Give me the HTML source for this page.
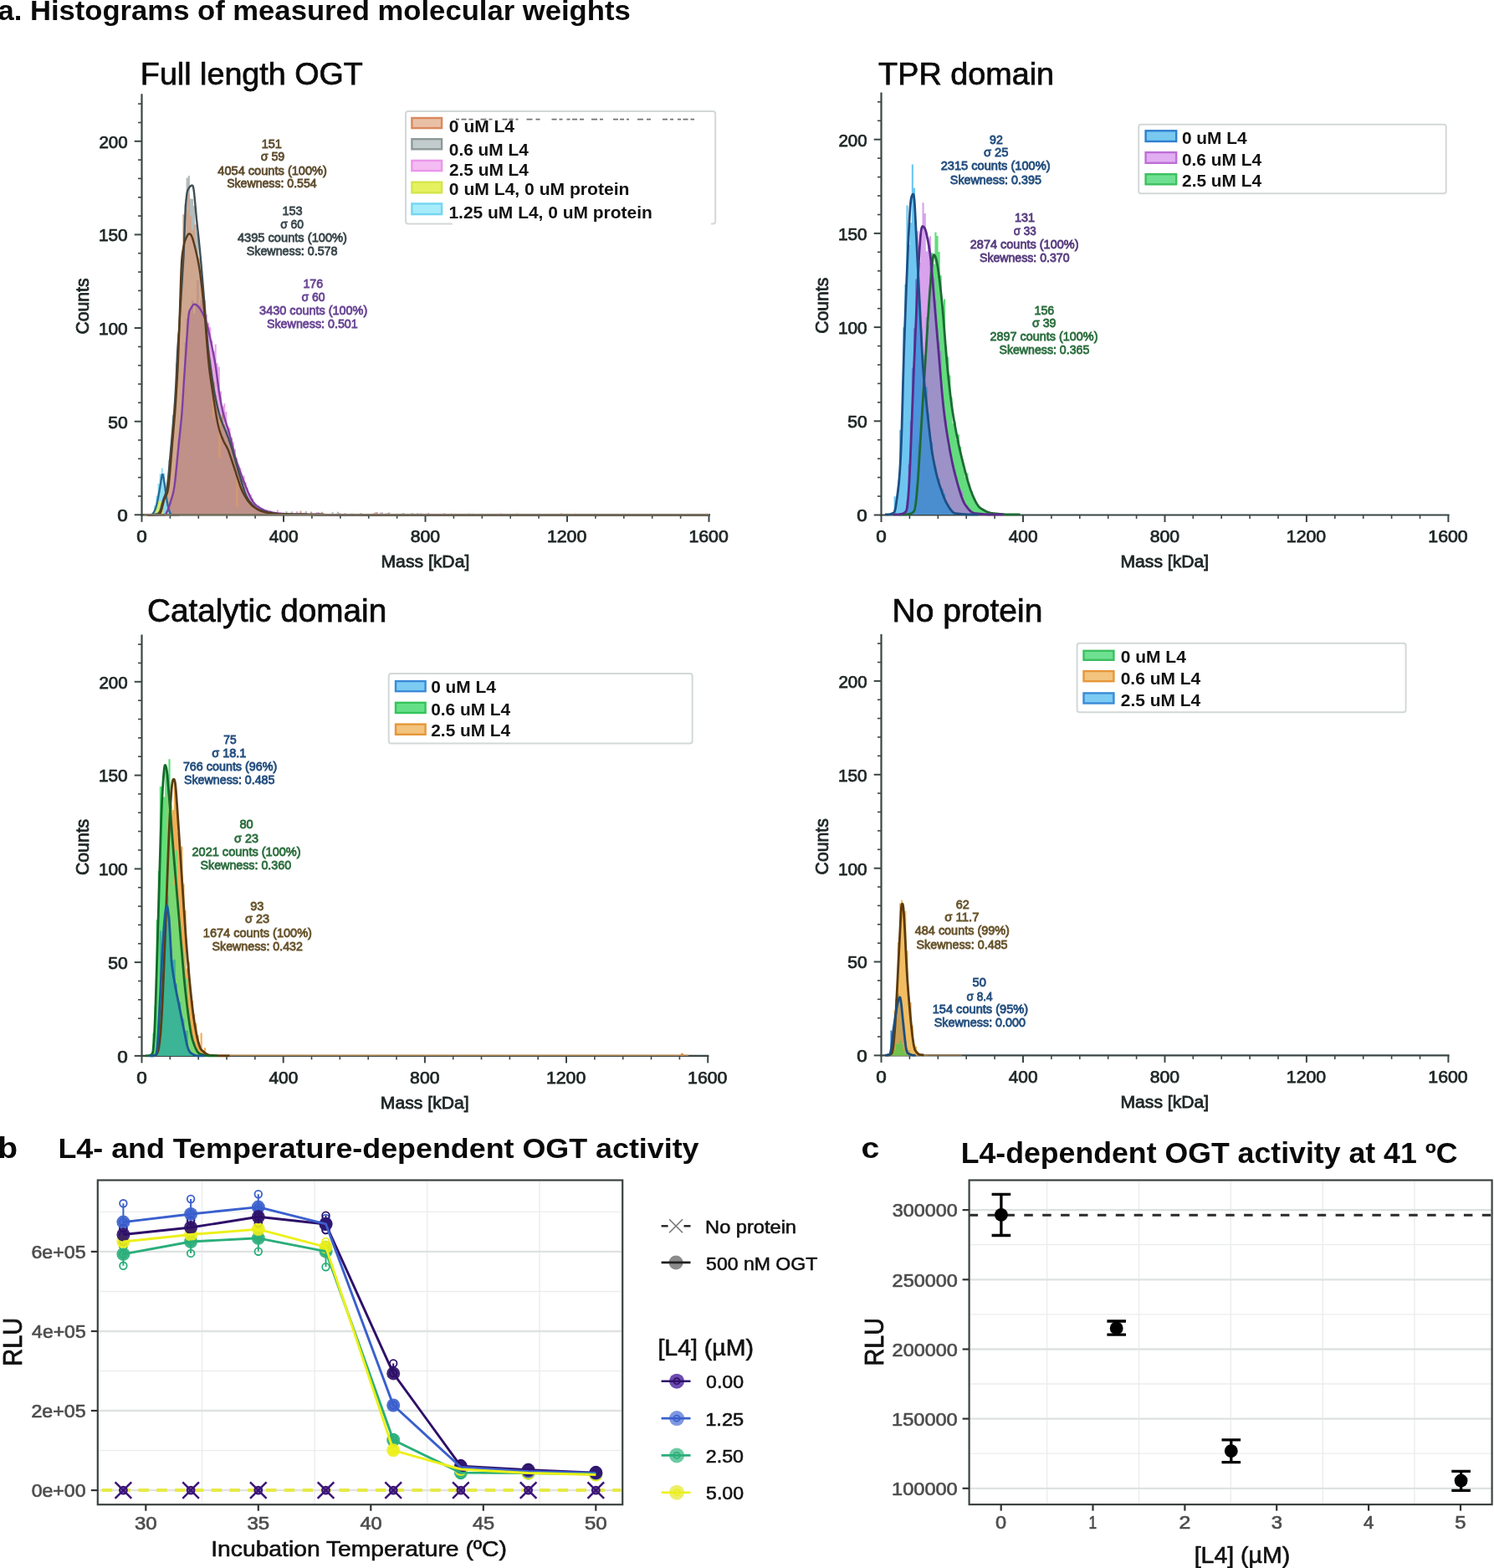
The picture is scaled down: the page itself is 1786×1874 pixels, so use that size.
<!DOCTYPE html>
<html><head><meta charset="utf-8"><title>Figure</title>
<style>html,body{margin:0;padding:0;background:#fff;}svg{display:block;}text{font-family:'Liberation Sans', Arial, Helvetica, sans-serif;}</style></head>
<body><svg width="1786" height="1874" viewBox="0 0 1786 1874">
<rect width="1786" height="1874" fill="#fff"/>
<text x="-2.64" y="23.60" font-size="32.60" font-weight="bold" fill="#0a0a0a" textLength="756.33" lengthAdjust="spacingAndGlyphs" >a. Histograms of measured molecular weights</text>
<text x="167.89" y="101.10" font-size="37.50" font-weight="normal" fill="#0a0a0a" textLength="265.99" lengthAdjust="spacingAndGlyphs" stroke="#0a0a0a" stroke-width="0.75" >Full length OGT</text>
<text x="1050.14" y="101.10" font-size="37.50" font-weight="normal" fill="#0a0a0a" textLength="209.92" lengthAdjust="spacingAndGlyphs" stroke="#0a0a0a" stroke-width="0.75" >TPR domain</text>
<text x="175.96" y="743.40" font-size="38.30" font-weight="normal" fill="#0a0a0a" textLength="286.24" lengthAdjust="spacingAndGlyphs" stroke="#0a0a0a" stroke-width="0.75" >Catalytic domain</text>
<text x="1066.48" y="743.40" font-size="38.30" font-weight="normal" fill="#0a0a0a" textLength="179.91" lengthAdjust="spacingAndGlyphs" stroke="#0a0a0a" stroke-width="0.75" >No protein</text>
<path d="M176.0,615.3 L176.0,615.3 L178.1,615.3 L178.1,615.1 L180.2,615.1 L180.2,615.0 L182.4,615.0 L182.4,614.8 L184.5,614.8 L184.5,615.1 L186.6,615.1 L186.6,615.0 L188.7,615.0 L188.7,615.2 L190.8,615.2 L190.8,615.0 L193.0,615.0 L193.0,615.1 L195.1,615.1 L195.1,615.2 L197.2,615.2 L197.2,614.0 L199.3,614.0 L199.3,609.5 L201.4,609.5 L201.4,603.0 L203.6,603.0 L203.6,597.7 L205.7,597.7 L205.7,587.0 L207.8,587.0 L207.8,576.8 L209.9,576.8 L209.9,555.7 L212.0,555.7 L212.0,525.2 L214.2,525.2 L214.2,507.5 L216.3,507.5 L216.3,494.0 L218.4,494.0 L218.4,464.3 L220.5,464.3 L220.5,409.4 L222.6,409.4 L222.6,380.5 L224.8,380.5 L224.8,379.4 L226.9,379.4 L226.9,371.8 L229.0,371.8 L229.0,359.0 L231.1,359.0 L231.1,374.8 L233.2,374.8 L233.2,361.6 L235.4,361.6 L235.4,335.1 L237.5,335.1 L237.5,364.4 L239.6,364.4 L239.6,358.4 L241.7,358.4 L241.7,342.2 L243.8,342.2 L243.8,375.2 L246.0,375.2 L246.0,375.7 L248.1,375.7 L248.1,385.5 L250.2,385.5 L250.2,391.0 L252.3,391.0 L252.3,406.9 L254.4,406.9 L254.4,419.9 L256.6,419.9 L256.6,411.6 L258.7,411.6 L258.7,434.2 L260.8,434.2 L260.8,438.4 L262.9,438.4 L262.9,467.6 L265.0,467.6 L265.0,485.3 L267.2,485.3 L267.2,482.2 L269.3,482.2 L269.3,492.0 L271.4,492.0 L271.4,509.2 L273.5,509.2 L273.5,511.6 L275.6,511.6 L275.6,523.5 L277.8,523.5 L277.8,527.9 L279.9,527.9 L279.9,536.5 L282.0,536.5 L282.0,547.4 L284.1,547.4 L284.1,555.4 L286.2,555.4 L286.2,559.2 L288.4,559.2 L288.4,569.1 L290.5,569.1 L290.5,568.4 L292.6,568.4 L292.6,576.3 L294.7,576.3 L294.7,582.2 L296.8,582.2 L296.8,589.1 L299.0,589.1 L299.0,591.1 L301.1,591.1 L301.1,595.7 L303.2,595.7 L303.2,601.6 L305.3,601.6 L305.3,603.4 L307.4,603.4 L307.4,604.1 L309.6,604.1 L309.6,605.8 L311.7,605.8 L311.7,607.5 L313.8,607.5 L313.8,608.3 L315.9,608.3 L315.9,609.1 L318.0,609.1 L318.0,609.2 L320.2,609.2 L320.2,610.9 L322.3,610.9 L322.3,609.9 L324.4,609.9 L324.4,612.4 L326.5,612.4 L326.5,612.6 L328.6,612.6 L328.6,612.6 L330.8,612.6 L330.8,609.6 L332.9,609.6 L332.9,613.1 L335.0,613.1 L335.0,613.8 L337.1,613.8 L337.1,613.9 L339.2,613.9 L339.2,613.4 L341.4,613.4 L341.4,614.0 L343.5,614.0 L343.5,614.3 L345.6,614.3 L345.6,613.8 L347.7,613.8 L347.7,613.2 L349.8,613.2 L349.8,614.2 L352.0,614.2 L352.0,614.5 L354.1,614.5 L354.1,611.0 L356.2,611.0 L356.2,614.3 L358.3,614.3 L358.3,614.6 L360.4,614.6 L360.4,614.6 L362.6,614.6 L362.6,614.5 L364.7,614.5 L364.7,614.1 L366.8,614.1 L366.8,614.4 L368.9,614.4 L368.9,614.6 L371.0,614.6 L371.0,614.4 L373.2,614.4 L373.2,614.8 L375.3,614.8 L375.3,614.4 L377.4,614.4 L377.4,614.7 L379.5,614.7 L379.5,612.0 L381.6,612.0 L381.6,613.1 L383.8,613.1 L383.8,614.7 L385.9,614.7 L385.9,614.4 L388.0,614.4 L388.0,614.4 L390.1,614.4 L390.1,614.8 L392.2,614.8 L392.2,614.9 L394.4,614.9 L394.4,614.7 L396.5,614.7 L396.5,615.0 L398.6,615.0 L398.6,615.0 L400.7,615.0 L400.7,615.1 L402.8,615.1 L402.8,614.8 L405.0,614.8 L405.0,612.9 L407.1,612.9 L407.1,615.2 L409.2,615.2 L409.2,615.0 L411.3,615.0 L411.3,612.9 L413.4,612.9 L413.4,615.2 L415.6,615.2 L415.6,615.2 L417.7,615.2 L417.7,614.7 L419.8,614.7 L419.8,613.6 L421.9,613.6 L421.9,615.3 L424.0,615.3 L424.0,615.1 L426.2,615.1 L426.2,615.2 L428.3,615.2 L428.3,614.9 L430.4,614.9 L430.4,615.1 L432.5,615.1 L432.5,614.4 L434.6,614.4 L434.6,615.3 L436.8,615.3 L436.8,615.0 L438.9,615.0 L438.9,615.1 L441.0,615.1 L441.0,615.2 L443.1,615.2 L443.1,615.0 L445.2,615.0 L445.2,613.5 L447.4,613.5 L447.4,615.2 L449.5,615.2 L449.5,615.2 L451.6,615.2 L451.6,615.1 L453.7,615.1 L453.7,612.6 L455.8,612.6 L455.8,614.2 L458.0,614.2 L458.0,615.2 L460.1,615.2 L460.1,613.4 L462.2,613.4 L462.2,614.7 L464.3,614.7 L464.3,614.8 L466.4,614.8 L466.4,615.2 L468.6,615.2 L468.6,615.3 L470.7,615.3 L470.7,615.2 L472.8,615.2 L472.8,615.3 L474.9,615.3 L474.9,614.2 L477.0,614.2 L477.0,615.1 L479.2,615.1 L479.2,615.1 L481.3,615.1 L481.3,615.1 L483.4,615.1 L483.4,614.9 L485.5,614.9 L485.5,615.1 L487.6,615.1 L487.6,614.9 L489.8,614.9 L489.8,614.9 L491.9,614.9 L491.9,615.1 L494.0,615.1 L494.0,615.2 L496.1,615.2 L496.1,614.9 L498.2,614.9 L498.2,615.1 L500.4,615.1 L500.4,615.1 L502.5,615.1 L502.5,613.3 L504.6,613.3 L504.6,614.4 L506.7,614.4 L506.7,615.0 L508.8,615.0 L508.8,615.1 L511.0,615.1 L511.0,612.9 L513.1,612.9 L513.1,615.3 L515.2,615.3 L515.2,615.3 L517.3,615.3 L517.3,615.1 L519.4,615.1 L519.4,614.7 L521.6,614.7 L521.6,615.1 L523.7,615.1 L523.7,614.9 L525.8,614.9 L525.8,615.0 L527.9,615.0 L527.9,615.0 L530.0,615.0 L530.0,613.3 L532.2,613.3 L532.2,615.1 L534.3,615.1 L534.3,615.2 L536.4,615.2 L536.4,615.1 L538.5,615.1 L538.5,615.2 L540.6,615.2 L540.6,615.2 L542.8,615.2 L542.8,615.3 L544.9,615.3 L544.9,615.2 L547.0,615.2 L547.0,614.9 L549.1,614.9 L549.1,614.0 L551.2,614.0 L551.2,615.0 L553.4,615.0 L553.4,615.3 L555.5,615.3 L555.5,615.0 L557.6,615.0 L557.6,615.0 L559.7,615.0 L559.7,615.0 L561.8,615.0 L561.8,615.1 L564.0,615.1 L564.0,615.2 L566.1,615.2 L566.1,615.2 L568.2,615.2 L568.2,615.2 L570.3,615.2 L570.3,615.0 L572.4,615.0 L572.4,614.9 L574.6,614.9 L574.6,615.1 L576.7,615.1 L576.7,615.0 L578.8,615.0 L578.8,615.3 L580.9,615.3 L580.9,615.1 L583.0,615.1 L583.0,615.1 L585.2,615.1 L585.2,615.3 L587.3,615.3 L587.3,614.9 L589.4,614.9 L589.4,615.1 L591.5,615.1 L591.5,614.8 L593.6,614.8 L593.6,615.0 L595.8,615.0 L595.8,614.8 L597.9,614.8 L597.9,613.4 L600.0,613.4 L600.0,615.3 L602.1,615.3 L602.1,614.8 L604.2,614.8 L604.2,615.0 L606.4,615.0 L606.4,615.1 L608.5,615.1 L608.5,614.7 L610.6,614.7 L610.6,615.1 L612.7,615.1 L612.7,615.2 L614.8,615.2 L614.8,615.1 L617.0,615.1 L617.0,614.4 L619.1,614.4 L619.1,615.0 L621.2,615.0 L621.2,615.0 L623.3,615.0 L623.3,615.3 L625.4,615.3 L625.4,615.1 L627.6,615.1 L627.6,614.6 L629.7,614.6 L629.7,615.1 L631.8,615.1 L631.8,615.1 L633.9,615.1 L633.9,614.9 L636.0,614.9 L636.0,615.1 L638.2,615.1 L638.2,615.1 L640.3,615.1 L640.3,615.1 L642.4,615.1 L642.4,615.1 L644.5,615.1 L644.5,615.3 L646.6,615.3 L646.6,615.3 L648.8,615.3 L648.8,615.1 L650.9,615.1 L650.9,615.3 L653.0,615.3 L653.0,614.6 L655.1,614.6 L655.1,615.0 L657.2,615.0 L657.2,615.1 L659.4,615.1 L659.4,615.0 L661.5,615.0 L661.5,614.4 L663.6,614.4 L663.6,615.2 L665.7,615.2 L665.7,614.9 L667.8,614.9 L667.8,615.0 L670.0,615.0 L670.0,614.8 L672.1,614.8 L672.1,615.3 L674.2,615.3 L674.2,614.9 L676.3,614.9 L676.3,614.8 L678.4,614.8 L678.4,615.3 L680.6,615.3 L680.6,615.2 L682.7,615.2 L682.7,615.2 L684.8,615.2 L684.8,615.0 L686.9,615.0 L686.9,614.4 L689.0,614.4 L689.0,615.2 L691.2,615.2 L691.2,615.1 L693.3,615.1 L693.3,614.8 L695.4,614.8 L695.4,615.3 L697.5,615.3 L697.5,614.8 L699.6,614.8 L699.6,615.0 L701.8,615.0 L701.8,615.1 L703.9,615.1 L703.9,614.9 L706.0,614.9 L706.0,615.3 L708.1,615.3 L708.1,615.3 L710.2,615.3 L710.2,615.2 L712.4,615.2 L712.4,615.2 L714.5,615.2 L714.5,614.5 L716.6,614.5 L716.6,614.8 L718.7,614.8 L718.7,615.1 L720.8,615.1 L720.8,615.2 L723.0,615.2 L723.0,614.1 L725.1,614.1 L725.1,615.1 L727.2,615.1 L727.2,614.5 L729.3,614.5 L729.3,615.0 L731.4,615.0 L731.4,615.1 L733.6,615.1 L733.6,614.9 L735.7,614.9 L735.7,614.7 L737.8,614.7 L737.8,615.1 L739.9,615.1 L739.9,615.2 L742.0,615.2 L742.0,615.1 L744.2,615.1 L744.2,614.7 L746.3,614.7 L746.3,614.8 L748.4,614.8 L748.4,615.2 L750.5,615.2 L750.5,615.0 L752.6,615.0 L752.6,614.0 L754.8,614.0 L754.8,615.0 L756.9,615.0 L756.9,615.2 L759.0,615.2 L759.0,615.1 L761.1,615.1 L761.1,614.7 L763.2,614.7 L763.2,614.9 L765.4,614.9 L765.4,615.2 L767.5,615.2 L767.5,615.2 L769.6,615.2 L769.6,615.0 L771.7,615.0 L771.7,615.3 L773.8,615.3 L773.8,615.1 L776.0,615.1 L776.0,614.9 L778.1,614.9 L778.1,615.1 L780.2,615.1 L780.2,614.7 L782.3,614.7 L782.3,614.6 L784.4,614.6 L784.4,615.0 L786.6,615.0 L786.6,615.2 L788.7,615.2 L788.7,614.7 L790.8,614.7 L790.8,615.2 L792.9,615.2 L792.9,615.0 L795.0,615.0 L795.0,614.9 L797.2,614.9 L797.2,615.3 L799.3,615.3 L799.3,615.2 L801.4,615.2 L801.4,615.1 L803.5,615.1 L803.5,615.3 L805.6,615.3 L805.6,615.2 L807.8,615.2 L807.8,615.2 L809.9,615.2 L809.9,614.8 L812.0,614.8 L812.0,615.2 L814.1,615.2 L814.1,615.3 L816.2,615.3 L816.2,615.2 L818.4,615.2 L818.4,614.5 L820.5,614.5 L820.5,615.0 L822.6,615.0 L822.6,614.9 L824.7,614.9 L824.7,615.2 L826.8,615.2 L826.8,615.0 L829.0,615.0 L829.0,614.7 L831.1,614.7 L831.1,614.7 L833.2,614.7 L833.2,615.1 L835.3,615.1 L835.3,614.9 L837.4,614.9 L837.4,614.9 L839.6,614.9 L839.6,614.8 L841.7,614.8 L841.7,614.9 L843.8,614.9 L843.8,615.3 L845.9,615.3 L845.9,615.1 L848.0,615.1 L848.0,615.3 Z" fill="#eaa6e6"/>
<path d="M176.0,615.3 L176.0,615.2 L178.1,615.2 L178.1,615.1 L180.2,615.1 L180.2,614.9 L182.4,614.9 L182.4,615.0 L184.5,615.0 L184.5,614.6 L186.6,614.6 L186.6,614.4 L188.7,614.4 L188.7,612.3 L190.8,612.3 L190.8,606.9 L193.0,606.9 L193.0,601.9 L195.1,601.9 L195.1,591.7 L197.2,591.7 L197.2,589.7 L199.3,589.7 L199.3,575.2 L201.4,575.2 L201.4,549.8 L203.6,549.8 L203.6,535.3 L205.7,535.3 L205.7,496.0 L207.8,496.0 L207.8,482.7 L209.9,482.7 L209.9,434.6 L212.0,434.6 L212.0,414.7 L214.2,414.7 L214.2,384.1 L216.3,384.1 L216.3,311.9 L218.4,311.9 L218.4,292.5 L220.5,292.5 L220.5,243.9 L222.6,243.9 L222.6,212.5 L224.8,212.5 L224.8,209.9 L226.9,209.9 L226.9,237.5 L229.0,237.5 L229.0,237.7 L231.1,237.7 L231.1,245.9 L233.2,245.9 L233.2,268.5 L235.4,268.5 L235.4,278.2 L237.5,278.2 L237.5,308.8 L239.6,308.8 L239.6,326.2 L241.7,326.2 L241.7,343.1 L243.8,343.1 L243.8,358.9 L246.0,358.9 L246.0,398.3 L248.1,398.3 L248.1,417.3 L250.2,417.3 L250.2,429.6 L252.3,429.6 L252.3,454.5 L254.4,454.5 L254.4,470.0 L256.6,470.0 L256.6,472.6 L258.7,472.6 L258.7,486.7 L260.8,486.7 L260.8,497.2 L262.9,497.2 L262.9,500.0 L265.0,500.0 L265.0,495.0 L267.2,495.0 L267.2,507.4 L269.3,507.4 L269.3,514.7 L271.4,514.7 L271.4,525.5 L273.5,525.5 L273.5,525.9 L275.6,525.9 L275.6,523.1 L277.8,523.1 L277.8,541.9 L279.9,541.9 L279.9,545.0 L282.0,545.0 L282.0,553.9 L284.1,553.9 L284.1,558.1 L286.2,558.1 L286.2,571.8 L288.4,571.8 L288.4,573.0 L290.5,573.0 L290.5,582.0 L292.6,582.0 L292.6,589.9 L294.7,589.9 L294.7,594.8 L296.8,594.8 L296.8,598.5 L299.0,598.5 L299.0,599.9 L301.1,599.9 L301.1,602.3 L303.2,602.3 L303.2,604.4 L305.3,604.4 L305.3,606.8 L307.4,606.8 L307.4,608.8 L309.6,608.8 L309.6,609.3 L311.7,609.3 L311.7,609.4 L313.8,609.4 L313.8,610.0 L315.9,610.0 L315.9,610.8 L318.0,610.8 L318.0,611.2 L320.2,611.2 L320.2,612.0 L322.3,612.0 L322.3,612.9 L324.4,612.9 L324.4,613.0 L326.5,613.0 L326.5,613.3 L328.6,613.3 L328.6,613.5 L330.8,613.5 L330.8,614.3 L332.9,614.3 L332.9,613.8 L335.0,613.8 L335.0,614.2 L337.1,614.2 L337.1,614.3 L339.2,614.3 L339.2,614.3 L341.4,614.3 L341.4,611.1 L343.5,611.1 L343.5,614.4 L345.6,614.4 L345.6,614.3 L347.7,614.3 L347.7,611.2 L349.8,611.2 L349.8,614.6 L352.0,614.6 L352.0,614.5 L354.1,614.5 L354.1,614.3 L356.2,614.3 L356.2,614.5 L358.3,614.5 L358.3,614.6 L360.4,614.6 L360.4,614.5 L362.6,614.5 L362.6,614.4 L364.7,614.4 L364.7,610.7 L366.8,610.7 L366.8,614.5 L368.9,614.5 L368.9,614.1 L371.0,614.1 L371.0,614.9 L373.2,614.9 L373.2,614.2 L375.3,614.2 L375.3,614.8 L377.4,614.8 L377.4,612.6 L379.5,612.6 L379.5,614.8 L381.6,614.8 L381.6,614.5 L383.8,614.5 L383.8,614.8 L385.9,614.8 L385.9,615.0 L388.0,615.0 L388.0,615.1 L390.1,615.1 L390.1,614.6 L392.2,614.6 L392.2,614.4 L394.4,614.4 L394.4,614.7 L396.5,614.7 L396.5,612.1 L398.6,612.1 L398.6,614.5 L400.7,614.5 L400.7,614.9 L402.8,614.9 L402.8,611.7 L405.0,611.7 L405.0,614.6 L407.1,614.6 L407.1,614.8 L409.2,614.8 L409.2,615.0 L411.3,615.0 L411.3,614.9 L413.4,614.9 L413.4,615.1 L415.6,615.1 L415.6,614.7 L417.7,614.7 L417.7,615.1 L419.8,615.1 L419.8,614.8 L421.9,614.8 L421.9,614.6 L424.0,614.6 L424.0,614.9 L426.2,614.9 L426.2,615.1 L428.3,615.1 L428.3,615.0 L430.4,615.0 L430.4,613.0 L432.5,613.0 L432.5,614.9 L434.6,614.9 L434.6,614.7 L436.8,614.7 L436.8,615.1 L438.9,615.1 L438.9,614.8 L441.0,614.8 L441.0,615.1 L443.1,615.1 L443.1,615.0 L445.2,615.0 L445.2,615.1 L447.4,615.1 L447.4,613.3 L449.5,613.3 L449.5,613.0 L451.6,613.0 L451.6,615.0 L453.7,615.0 L453.7,615.1 L455.8,615.1 L455.8,612.3 L458.0,612.3 L458.0,615.1 L460.1,615.1 L460.1,615.0 L462.2,615.0 L462.2,613.3 L464.3,613.3 L464.3,612.2 L466.4,612.2 L466.4,614.7 L468.6,614.7 L468.6,615.0 L470.7,615.0 L470.7,615.0 L472.8,615.0 L472.8,615.2 L474.9,615.2 L474.9,614.3 L477.0,614.3 L477.0,614.8 L479.2,614.8 L479.2,613.8 L481.3,613.8 L481.3,613.1 L483.4,613.1 L483.4,615.1 L485.5,615.1 L485.5,615.0 L487.6,615.0 L487.6,614.8 L489.8,614.8 L489.8,615.1 L491.9,615.1 L491.9,613.1 L494.0,613.1 L494.0,615.0 L496.1,615.0 L496.1,614.5 L498.2,614.5 L498.2,613.2 L500.4,613.2 L500.4,615.2 L502.5,615.2 L502.5,615.2 L504.6,615.2 L504.6,615.0 L506.7,615.0 L506.7,615.0 L508.8,615.0 L508.8,615.1 L511.0,615.1 L511.0,615.2 L513.1,615.2 L513.1,615.0 L515.2,615.0 L515.2,615.2 L517.3,615.2 L517.3,614.2 L519.4,614.2 L519.4,615.1 L521.6,615.1 L521.6,615.1 L523.7,615.1 L523.7,615.2 L525.8,615.2 L525.8,614.7 L527.9,614.7 L527.9,615.1 L530.0,615.1 L530.0,615.3 L532.2,615.3 L532.2,614.7 L534.3,614.7 L534.3,615.1 L536.4,615.1 L536.4,614.9 L538.5,614.9 L538.5,615.0 L540.6,615.0 L540.6,615.3 L542.8,615.3 L542.8,615.3 L544.9,615.3 L544.9,615.1 L547.0,615.1 L547.0,614.8 L549.1,614.8 L549.1,615.1 L551.2,615.1 L551.2,614.9 L553.4,614.9 L553.4,614.8 L555.5,614.8 L555.5,614.4 L557.6,614.4 L557.6,614.9 L559.7,614.9 L559.7,613.6 L561.8,613.6 L561.8,614.1 L564.0,614.1 L564.0,613.8 L566.1,613.8 L566.1,614.9 L568.2,614.9 L568.2,614.9 L570.3,614.9 L570.3,615.2 L572.4,615.2 L572.4,615.0 L574.6,615.0 L574.6,615.1 L576.7,615.1 L576.7,615.3 L578.8,615.3 L578.8,614.7 L580.9,614.7 L580.9,614.7 L583.0,614.7 L583.0,615.0 L585.2,615.0 L585.2,615.2 L587.3,615.2 L587.3,615.0 L589.4,615.0 L589.4,615.2 L591.5,615.2 L591.5,615.3 L593.6,615.3 L593.6,614.0 L595.8,614.0 L595.8,615.1 L597.9,615.1 L597.9,615.3 L600.0,615.3 L600.0,615.0 L602.1,615.0 L602.1,614.1 L604.2,614.1 L604.2,615.2 L606.4,615.2 L606.4,614.2 L608.5,614.2 L608.5,615.0 L610.6,615.0 L610.6,615.2 L612.7,615.2 L612.7,615.0 L614.8,615.0 L614.8,615.3 L617.0,615.3 L617.0,613.5 L619.1,613.5 L619.1,615.0 L621.2,615.0 L621.2,615.2 L623.3,615.2 L623.3,614.9 L625.4,614.9 L625.4,614.5 L627.6,614.5 L627.6,615.1 L629.7,615.1 L629.7,615.0 L631.8,615.0 L631.8,614.7 L633.9,614.7 L633.9,615.1 L636.0,615.1 L636.0,614.9 L638.2,614.9 L638.2,615.0 L640.3,615.0 L640.3,615.2 L642.4,615.2 L642.4,615.2 L644.5,615.2 L644.5,614.1 L646.6,614.1 L646.6,615.3 L648.8,615.3 L648.8,614.8 L650.9,614.8 L650.9,614.5 L653.0,614.5 L653.0,615.0 L655.1,615.0 L655.1,614.1 L657.2,614.1 L657.2,614.6 L659.4,614.6 L659.4,615.0 L661.5,615.0 L661.5,614.7 L663.6,614.7 L663.6,615.2 L665.7,615.2 L665.7,614.8 L667.8,614.8 L667.8,615.0 L670.0,615.0 L670.0,615.0 L672.1,615.0 L672.1,614.2 L674.2,614.2 L674.2,615.3 L676.3,615.3 L676.3,614.9 L678.4,614.9 L678.4,614.1 L680.6,614.1 L680.6,615.1 L682.7,615.1 L682.7,615.1 L684.8,615.1 L684.8,615.2 L686.9,615.2 L686.9,614.8 L689.0,614.8 L689.0,614.8 L691.2,614.8 L691.2,615.3 L693.3,615.3 L693.3,615.3 L695.4,615.3 L695.4,614.8 L697.5,614.8 L697.5,615.1 L699.6,615.1 L699.6,615.3 L701.8,615.3 L701.8,614.6 L703.9,614.6 L703.9,615.0 L706.0,615.0 L706.0,614.7 L708.1,614.7 L708.1,614.8 L710.2,614.8 L710.2,615.2 L712.4,615.2 L712.4,615.2 L714.5,615.2 L714.5,615.0 L716.6,615.0 L716.6,614.9 L718.7,614.9 L718.7,614.8 L720.8,614.8 L720.8,615.2 L723.0,615.2 L723.0,614.9 L725.1,614.9 L725.1,615.0 L727.2,615.0 L727.2,615.0 L729.3,615.0 L729.3,614.7 L731.4,614.7 L731.4,615.2 L733.6,615.2 L733.6,615.3 L735.7,615.3 L735.7,614.9 L737.8,614.9 L737.8,615.2 L739.9,615.2 L739.9,614.5 L742.0,614.5 L742.0,615.2 L744.2,615.2 L744.2,614.9 L746.3,614.9 L746.3,615.0 L748.4,615.0 L748.4,615.0 L750.5,615.0 L750.5,615.2 L752.6,615.2 L752.6,615.2 L754.8,615.2 L754.8,615.1 L756.9,615.1 L756.9,615.1 L759.0,615.1 L759.0,614.8 L761.1,614.8 L761.1,615.0 L763.2,615.0 L763.2,615.3 L765.4,615.3 L765.4,615.2 L767.5,615.2 L767.5,614.9 L769.6,614.9 L769.6,615.0 L771.7,615.0 L771.7,615.1 L773.8,615.1 L773.8,614.4 L776.0,614.4 L776.0,615.2 L778.1,615.2 L778.1,615.2 L780.2,615.2 L780.2,614.9 L782.3,614.9 L782.3,615.3 L784.4,615.3 L784.4,614.7 L786.6,614.7 L786.6,615.1 L788.7,615.1 L788.7,614.9 L790.8,614.9 L790.8,615.0 L792.9,615.0 L792.9,614.7 L795.0,614.7 L795.0,614.6 L797.2,614.6 L797.2,615.1 L799.3,615.1 L799.3,614.7 L801.4,614.7 L801.4,615.3 L803.5,615.3 L803.5,614.9 L805.6,614.9 L805.6,615.0 L807.8,615.0 L807.8,615.1 L809.9,615.1 L809.9,615.3 L812.0,615.3 L812.0,615.2 L814.1,615.2 L814.1,615.2 L816.2,615.2 L816.2,614.6 L818.4,614.6 L818.4,614.8 L820.5,614.8 L820.5,615.1 L822.6,615.1 L822.6,614.7 L824.7,614.7 L824.7,615.2 L826.8,615.2 L826.8,614.7 L829.0,614.7 L829.0,614.9 L831.1,614.9 L831.1,614.6 L833.2,614.6 L833.2,614.9 L835.3,614.9 L835.3,615.2 L837.4,615.2 L837.4,615.0 L839.6,615.0 L839.6,615.1 L841.7,615.1 L841.7,614.9 L843.8,614.9 L843.8,615.1 L845.9,615.1 L845.9,615.2 L848.0,615.2 L848.0,615.3 Z" fill="#b4bcbc"/>
<path d="M176.0,615.3 L176.0,615.2 L178.1,615.2 L178.1,615.2 L180.2,615.2 L180.2,614.8 L182.4,614.8 L182.4,614.8 L184.5,614.8 L184.5,614.4 L186.6,614.4 L186.6,615.0 L188.7,615.0 L188.7,614.5 L190.8,614.5 L190.8,612.3 L193.0,612.3 L193.0,605.4 L195.1,605.4 L195.1,597.1 L197.2,597.1 L197.2,593.5 L199.3,593.5 L199.3,587.4 L201.4,587.4 L201.4,568.7 L203.6,568.7 L203.6,537.3 L205.7,537.3 L205.7,522.5 L207.8,522.5 L207.8,499.2 L209.9,499.2 L209.9,453.9 L212.0,453.9 L212.0,398.7 L214.2,398.7 L214.2,356.6 L216.3,356.6 L216.3,322.4 L218.4,322.4 L218.4,256.3 L220.5,256.3 L220.5,294.1 L222.6,294.1 L222.6,251.2 L224.8,251.2 L224.8,232.5 L226.9,232.5 L226.9,258.0 L229.0,258.0 L229.0,275.1 L231.1,275.1 L231.1,268.2 L233.2,268.2 L233.2,306.3 L235.4,306.3 L235.4,306.6 L237.5,306.6 L237.5,330.8 L239.6,330.8 L239.6,342.0 L241.7,342.0 L241.7,367.5 L243.8,367.5 L243.8,376.5 L246.0,376.5 L246.0,408.2 L248.1,408.2 L248.1,428.9 L250.2,428.9 L250.2,442.9 L252.3,442.9 L252.3,458.1 L254.4,458.1 L254.4,456.6 L256.6,456.6 L256.6,495.0 L258.7,495.0 L258.7,485.8 L260.8,485.8 L260.8,510.4 L262.9,510.4 L262.9,522.1 L265.0,522.1 L265.0,524.1 L267.2,524.1 L267.2,525.6 L269.3,525.6 L269.3,522.8 L271.4,522.8 L271.4,536.7 L273.5,536.7 L273.5,536.1 L275.6,536.1 L275.6,548.0 L277.8,548.0 L277.8,558.1 L279.9,558.1 L279.9,564.3 L282.0,564.3 L282.0,565.4 L284.1,565.4 L284.1,570.6 L286.2,570.6 L286.2,577.4 L288.4,577.4 L288.4,583.0 L290.5,583.0 L290.5,587.9 L292.6,587.9 L292.6,590.8 L294.7,590.8 L294.7,595.1 L296.8,595.1 L296.8,600.8 L299.0,600.8 L299.0,602.3 L301.1,602.3 L301.1,602.8 L303.2,602.8 L303.2,606.1 L305.3,606.1 L305.3,606.7 L307.4,606.7 L307.4,608.9 L309.6,608.9 L309.6,609.3 L311.7,609.3 L311.7,609.9 L313.8,609.9 L313.8,611.4 L315.9,611.4 L315.9,611.5 L318.0,611.5 L318.0,612.1 L320.2,612.1 L320.2,612.1 L322.3,612.1 L322.3,612.8 L324.4,612.8 L324.4,613.3 L326.5,613.3 L326.5,613.6 L328.6,613.6 L328.6,613.6 L330.8,613.6 L330.8,613.1 L332.9,613.1 L332.9,614.1 L335.0,614.1 L335.0,614.2 L337.1,614.2 L337.1,614.1 L339.2,614.1 L339.2,614.5 L341.4,614.5 L341.4,614.3 L343.5,614.3 L343.5,614.0 L345.6,614.0 L345.6,614.1 L347.7,614.1 L347.7,614.4 L349.8,614.4 L349.8,614.4 L352.0,614.4 L352.0,614.1 L354.1,614.1 L354.1,614.5 L356.2,614.5 L356.2,614.7 L358.3,614.7 L358.3,610.6 L360.4,610.6 L360.4,614.6 L362.6,614.6 L362.6,614.4 L364.7,614.4 L364.7,614.6 L366.8,614.6 L366.8,614.9 L368.9,614.9 L368.9,614.7 L371.0,614.7 L371.0,611.6 L373.2,611.6 L373.2,614.7 L375.3,614.7 L375.3,614.6 L377.4,614.6 L377.4,614.6 L379.5,614.6 L379.5,614.9 L381.6,614.9 L381.6,614.9 L383.8,614.9 L383.8,611.8 L385.9,611.8 L385.9,615.0 L388.0,615.0 L388.0,613.9 L390.1,613.9 L390.1,614.6 L392.2,614.6 L392.2,615.0 L394.4,615.0 L394.4,615.1 L396.5,615.1 L396.5,614.6 L398.6,614.6 L398.6,614.7 L400.7,614.7 L400.7,614.9 L402.8,614.9 L402.8,615.0 L405.0,615.0 L405.0,614.9 L407.1,614.9 L407.1,614.7 L409.2,614.7 L409.2,614.9 L411.3,614.9 L411.3,614.5 L413.4,614.5 L413.4,614.8 L415.6,614.8 L415.6,614.7 L417.7,614.7 L417.7,614.8 L419.8,614.8 L419.8,614.4 L421.9,614.4 L421.9,614.5 L424.0,614.5 L424.0,614.9 L426.2,614.9 L426.2,614.9 L428.3,614.9 L428.3,615.0 L430.4,615.0 L430.4,615.0 L432.5,615.0 L432.5,614.7 L434.6,614.7 L434.6,614.6 L436.8,614.6 L436.8,614.7 L438.9,614.7 L438.9,615.1 L441.0,615.1 L441.0,615.1 L443.1,615.1 L443.1,614.9 L445.2,614.9 L445.2,614.9 L447.4,614.9 L447.4,612.4 L449.5,612.4 L449.5,611.9 L451.6,611.9 L451.6,615.1 L453.7,615.1 L453.7,615.2 L455.8,615.2 L455.8,615.1 L458.0,615.1 L458.0,615.2 L460.1,615.2 L460.1,614.9 L462.2,614.9 L462.2,613.5 L464.3,613.5 L464.3,615.1 L466.4,615.1 L466.4,614.5 L468.6,614.5 L468.6,615.0 L470.7,615.0 L470.7,614.7 L472.8,614.7 L472.8,615.2 L474.9,615.2 L474.9,614.9 L477.0,614.9 L477.0,614.7 L479.2,614.7 L479.2,615.1 L481.3,615.1 L481.3,614.5 L483.4,614.5 L483.4,615.2 L485.5,615.2 L485.5,615.1 L487.6,615.1 L487.6,614.8 L489.8,614.8 L489.8,615.0 L491.9,615.0 L491.9,614.5 L494.0,614.5 L494.0,614.5 L496.1,614.5 L496.1,615.3 L498.2,615.3 L498.2,615.2 L500.4,615.2 L500.4,614.7 L502.5,614.7 L502.5,615.2 L504.6,615.2 L504.6,615.2 L506.7,615.2 L506.7,614.9 L508.8,614.9 L508.8,615.1 L511.0,615.1 L511.0,614.8 L513.1,614.8 L513.1,615.2 L515.2,615.2 L515.2,615.2 L517.3,615.2 L517.3,614.9 L519.4,614.9 L519.4,615.3 L521.6,615.3 L521.6,615.3 L523.7,615.3 L523.7,615.1 L525.8,615.1 L525.8,615.0 L527.9,615.0 L527.9,615.1 L530.0,615.1 L530.0,615.2 L532.2,615.2 L532.2,615.0 L534.3,615.0 L534.3,615.2 L536.4,615.2 L536.4,615.0 L538.5,615.0 L538.5,613.8 L540.6,613.8 L540.6,615.2 L542.8,615.2 L542.8,614.9 L544.9,614.9 L544.9,615.2 L547.0,615.2 L547.0,614.9 L549.1,614.9 L549.1,615.2 L551.2,615.2 L551.2,615.3 L553.4,615.3 L553.4,615.2 L555.5,615.2 L555.5,615.1 L557.6,615.1 L557.6,615.0 L559.7,615.0 L559.7,614.2 L561.8,614.2 L561.8,615.2 L564.0,615.2 L564.0,614.9 L566.1,614.9 L566.1,614.9 L568.2,614.9 L568.2,615.0 L570.3,615.0 L570.3,614.9 L572.4,614.9 L572.4,615.3 L574.6,615.3 L574.6,615.0 L576.7,615.0 L576.7,614.9 L578.8,614.9 L578.8,615.0 L580.9,615.0 L580.9,614.7 L583.0,614.7 L583.0,614.0 L585.2,614.0 L585.2,615.3 L587.3,615.3 L587.3,615.3 L589.4,615.3 L589.4,614.4 L591.5,614.4 L591.5,615.1 L593.6,615.1 L593.6,614.6 L595.8,614.6 L595.8,614.3 L597.9,614.3 L597.9,615.2 L600.0,615.2 L600.0,615.0 L602.1,615.0 L602.1,615.2 L604.2,615.2 L604.2,615.0 L606.4,615.0 L606.4,614.4 L608.5,614.4 L608.5,615.2 L610.6,615.2 L610.6,615.1 L612.7,615.1 L612.7,615.2 L614.8,615.2 L614.8,615.2 L617.0,615.2 L617.0,615.2 L619.1,615.2 L619.1,614.9 L621.2,614.9 L621.2,614.3 L623.3,614.3 L623.3,615.2 L625.4,615.2 L625.4,615.1 L627.6,615.1 L627.6,615.1 L629.7,615.1 L629.7,614.1 L631.8,614.1 L631.8,614.0 L633.9,614.0 L633.9,615.3 L636.0,615.3 L636.0,615.3 L638.2,615.3 L638.2,614.2 L640.3,614.2 L640.3,614.4 L642.4,614.4 L642.4,615.0 L644.5,615.0 L644.5,614.6 L646.6,614.6 L646.6,613.9 L648.8,613.9 L648.8,614.6 L650.9,614.6 L650.9,615.0 L653.0,615.0 L653.0,614.7 L655.1,614.7 L655.1,615.2 L657.2,615.2 L657.2,614.0 L659.4,614.0 L659.4,615.3 L661.5,615.3 L661.5,614.8 L663.6,614.8 L663.6,615.3 L665.7,615.3 L665.7,614.9 L667.8,614.9 L667.8,615.2 L670.0,615.2 L670.0,613.5 L672.1,613.5 L672.1,615.1 L674.2,615.1 L674.2,615.1 L676.3,615.1 L676.3,615.0 L678.4,615.0 L678.4,615.0 L680.6,615.0 L680.6,615.2 L682.7,615.2 L682.7,615.3 L684.8,615.3 L684.8,615.1 L686.9,615.1 L686.9,613.8 L689.0,613.8 L689.0,615.0 L691.2,615.0 L691.2,615.1 L693.3,615.1 L693.3,615.0 L695.4,615.0 L695.4,614.6 L697.5,614.6 L697.5,614.6 L699.6,614.6 L699.6,615.2 L701.8,615.2 L701.8,615.0 L703.9,615.0 L703.9,614.7 L706.0,614.7 L706.0,615.1 L708.1,615.1 L708.1,615.2 L710.2,615.2 L710.2,615.3 L712.4,615.3 L712.4,615.1 L714.5,615.1 L714.5,614.6 L716.6,614.6 L716.6,614.9 L718.7,614.9 L718.7,613.9 L720.8,613.9 L720.8,615.2 L723.0,615.2 L723.0,615.1 L725.1,615.1 L725.1,614.7 L727.2,614.7 L727.2,615.1 L729.3,615.1 L729.3,615.0 L731.4,615.0 L731.4,615.2 L733.6,615.2 L733.6,614.8 L735.7,614.8 L735.7,615.2 L737.8,615.2 L737.8,615.1 L739.9,615.1 L739.9,615.1 L742.0,615.1 L742.0,615.2 L744.2,615.2 L744.2,614.9 L746.3,614.9 L746.3,615.2 L748.4,615.2 L748.4,615.2 L750.5,615.2 L750.5,614.9 L752.6,614.9 L752.6,615.2 L754.8,615.2 L754.8,615.2 L756.9,615.2 L756.9,614.3 L759.0,614.3 L759.0,615.0 L761.1,615.0 L761.1,614.7 L763.2,614.7 L763.2,615.1 L765.4,615.1 L765.4,614.7 L767.5,614.7 L767.5,615.0 L769.6,615.0 L769.6,615.2 L771.7,615.2 L771.7,615.2 L773.8,615.2 L773.8,615.0 L776.0,615.0 L776.0,615.3 L778.1,615.3 L778.1,615.0 L780.2,615.0 L780.2,615.1 L782.3,615.1 L782.3,615.2 L784.4,615.2 L784.4,614.7 L786.6,614.7 L786.6,615.3 L788.7,615.3 L788.7,615.3 L790.8,615.3 L790.8,615.1 L792.9,615.1 L792.9,615.1 L795.0,615.1 L795.0,615.3 L797.2,615.3 L797.2,615.3 L799.3,615.3 L799.3,615.2 L801.4,615.2 L801.4,615.1 L803.5,615.1 L803.5,615.0 L805.6,615.0 L805.6,614.9 L807.8,614.9 L807.8,615.2 L809.9,615.2 L809.9,615.1 L812.0,615.1 L812.0,615.0 L814.1,615.0 L814.1,615.1 L816.2,615.1 L816.2,615.1 L818.4,615.1 L818.4,615.1 L820.5,615.1 L820.5,615.1 L822.6,615.1 L822.6,614.8 L824.7,614.8 L824.7,615.2 L826.8,615.2 L826.8,615.1 L829.0,615.1 L829.0,615.2 L831.1,615.2 L831.1,615.0 L833.2,615.0 L833.2,614.9 L835.3,614.9 L835.3,615.1 L837.4,615.1 L837.4,615.1 L839.6,615.1 L839.6,615.1 L841.7,615.1 L841.7,615.1 L843.8,615.1 L843.8,615.0 L845.9,615.0 L845.9,614.6 L848.0,614.6 L848.0,615.3 Z" fill="#cfa68e"/>
<path d="M176.0,615.3 L176.0,615.3 L178.1,615.3 L178.1,615.1 L180.2,615.1 L180.2,615.0 L182.4,615.0 L182.4,614.8 L184.5,614.8 L184.5,615.1 L186.6,615.1 L186.6,615.0 L188.7,615.0 L188.7,615.2 L190.8,615.2 L190.8,615.0 L193.0,615.0 L193.0,615.1 L195.1,615.1 L195.1,615.2 L197.2,615.2 L197.2,614.0 L199.3,614.0 L199.3,609.5 L201.4,609.5 L201.4,603.0 L203.6,603.0 L203.6,597.7 L205.7,597.7 L205.7,587.0 L207.8,587.0 L207.8,576.8 L209.9,576.8 L209.9,555.7 L212.0,555.7 L212.0,525.2 L214.2,525.2 L214.2,507.5 L216.3,507.5 L216.3,494.0 L218.4,494.0 L218.4,464.3 L220.5,464.3 L220.5,409.4 L222.6,409.4 L222.6,380.5 L224.8,380.5 L224.8,379.4 L226.9,379.4 L226.9,371.8 L229.0,371.8 L229.0,359.0 L231.1,359.0 L231.1,374.8 L233.2,374.8 L233.2,361.6 L235.4,361.6 L235.4,335.1 L237.5,335.1 L237.5,364.4 L239.6,364.4 L239.6,358.4 L241.7,358.4 L241.7,343.1 L243.8,343.1 L243.8,375.2 L246.0,375.2 L246.0,398.3 L248.1,398.3 L248.1,417.3 L250.2,417.3 L250.2,429.6 L252.3,429.6 L252.3,454.5 L254.4,454.5 L254.4,456.6 L256.6,456.6 L256.6,472.6 L258.7,472.6 L258.7,485.8 L260.8,485.8 L260.8,497.2 L262.9,497.2 L262.9,500.0 L265.0,500.0 L265.0,495.0 L267.2,495.0 L267.2,507.4 L269.3,507.4 L269.3,514.7 L271.4,514.7 L271.4,525.5 L273.5,525.5 L273.5,525.9 L275.6,525.9 L275.6,523.5 L277.8,523.5 L277.8,541.9 L279.9,541.9 L279.9,545.0 L282.0,545.0 L282.0,553.9 L284.1,553.9 L284.1,558.1 L286.2,558.1 L286.2,571.8 L288.4,571.8 L288.4,573.0 L290.5,573.0 L290.5,582.0 L292.6,582.0 L292.6,589.9 L294.7,589.9 L294.7,594.8 L296.8,594.8 L296.8,598.5 L299.0,598.5 L299.0,599.9 L301.1,599.9 L301.1,602.3 L303.2,602.3 L303.2,604.4 L305.3,604.4 L305.3,606.7 L307.4,606.7 L307.4,608.8 L309.6,608.8 L309.6,609.3 L311.7,609.3 L311.7,609.4 L313.8,609.4 L313.8,610.0 L315.9,610.0 L315.9,610.8 L318.0,610.8 L318.0,611.2 L320.2,611.2 L320.2,612.0 L322.3,612.0 L322.3,612.8 L324.4,612.8 L324.4,613.0 L326.5,613.0 L326.5,613.3 L328.6,613.3 L328.6,613.5 L330.8,613.5 L330.8,613.1 L332.9,613.1 L332.9,613.8 L335.0,613.8 L335.0,614.2 L337.1,614.2 L337.1,614.1 L339.2,614.1 L339.2,614.3 L341.4,614.3 L341.4,614.0 L343.5,614.0 L343.5,614.3 L345.6,614.3 L345.6,614.1 L347.7,614.1 L347.7,613.2 L349.8,613.2 L349.8,614.4 L352.0,614.4 L352.0,614.5 L354.1,614.5 L354.1,614.3 L356.2,614.3 L356.2,614.5 L358.3,614.5 L358.3,614.6 L360.4,614.6 L360.4,614.6 L362.6,614.6 L362.6,614.5 L364.7,614.5 L364.7,614.1 L366.8,614.1 L366.8,614.5 L368.9,614.5 L368.9,614.6 L371.0,614.6 L371.0,614.4 L373.2,614.4 L373.2,614.8 L375.3,614.8 L375.3,614.6 L377.4,614.6 L377.4,614.7 L379.5,614.7 L379.5,614.8 L381.6,614.8 L381.6,614.5 L383.8,614.5 L383.8,614.7 L385.9,614.7 L385.9,615.0 L388.0,615.0 L388.0,614.4 L390.1,614.4 L390.1,614.8 L392.2,614.8 L392.2,614.9 L394.4,614.9 L394.4,614.7 L396.5,614.7 L396.5,615.0 L398.6,615.0 L398.6,615.0 L400.7,615.0 L400.7,615.1 L402.8,615.1 L402.8,614.8 L405.0,614.8 L405.0,614.6 L407.1,614.6 L407.1,615.2 L409.2,615.2 L409.2,615.0 L411.3,615.0 L411.3,614.5 L413.4,614.5 L413.4,615.2 L415.6,615.2 L415.6,615.2 L417.7,615.2 L417.7,614.8 L419.8,614.8 L419.8,614.4 L421.9,614.4 L421.9,615.3 L424.0,615.3 L424.0,615.1 L426.2,615.1 L426.2,615.2 L428.3,615.2 L428.3,615.0 L430.4,615.0 L430.4,615.1 L432.5,615.1 L432.5,614.7 L434.6,614.7 L434.6,615.3 L436.8,615.3 L436.8,615.0 L438.9,615.0 L438.9,615.1 L441.0,615.1 L441.0,615.2 L443.1,615.2 L443.1,615.0 L445.2,615.0 L445.2,614.9 L447.4,614.9 L447.4,615.2 L449.5,615.2 L449.5,615.2 L451.6,615.2 L451.6,615.1 L453.7,615.1 L453.7,615.1 L455.8,615.1 L455.8,614.2 L458.0,614.2 L458.0,615.2 L460.1,615.2 L460.1,614.9 L462.2,614.9 L462.2,614.7 L464.3,614.7 L464.3,614.8 L466.4,614.8 L466.4,615.2 L468.6,615.2 L468.6,615.3 L470.7,615.3 L470.7,615.2 L472.8,615.2 L472.8,615.3 L474.9,615.3 L474.9,614.3 L477.0,614.3 L477.0,615.1 L479.2,615.1 L479.2,615.1 L481.3,615.1 L481.3,615.1 L483.4,615.1 L483.4,615.1 L485.5,615.1 L485.5,615.1 L487.6,615.1 L487.6,614.9 L489.8,614.9 L489.8,615.0 L491.9,615.0 L491.9,615.1 L494.0,615.1 L494.0,615.2 L496.1,615.2 L496.1,614.9 L498.2,614.9 L498.2,615.1 L500.4,615.1 L500.4,615.1 L502.5,615.1 L502.5,615.2 L504.6,615.2 L504.6,615.0 L506.7,615.0 L506.7,615.0 L508.8,615.0 L508.8,615.1 L511.0,615.1 L511.0,614.8 L513.1,614.8 L513.1,615.3 L515.2,615.3 L515.2,615.3 L517.3,615.3 L517.3,615.1 L519.4,615.1 L519.4,615.1 L521.6,615.1 L521.6,615.1 L523.7,615.1 L523.7,615.1 L525.8,615.1 L525.8,615.0 L527.9,615.0 L527.9,615.1 L530.0,615.1 L530.0,615.2 L532.2,615.2 L532.2,615.1 L534.3,615.1 L534.3,615.2 L536.4,615.2 L536.4,615.1 L538.5,615.1 L538.5,615.2 L540.6,615.2 L540.6,615.2 L542.8,615.2 L542.8,615.3 L544.9,615.3 L544.9,615.2 L547.0,615.2 L547.0,614.9 L549.1,614.9 L549.1,615.1 L551.2,615.1 L551.2,615.0 L553.4,615.0 L553.4,615.3 L555.5,615.3 L555.5,615.0 L557.6,615.0 L557.6,615.0 L559.7,615.0 L559.7,615.0 L561.8,615.0 L561.8,615.1 L564.0,615.1 L564.0,615.2 L566.1,615.2 L566.1,615.2 L568.2,615.2 L568.2,615.2 L570.3,615.2 L570.3,615.0 L572.4,615.0 L572.4,615.0 L574.6,615.0 L574.6,615.1 L576.7,615.1 L576.7,615.0 L578.8,615.0 L578.8,615.3 L580.9,615.3 L580.9,615.1 L583.0,615.1 L583.0,615.1 L585.2,615.1 L585.2,615.3 L587.3,615.3 L587.3,615.0 L589.4,615.0 L589.4,615.1 L591.5,615.1 L591.5,615.1 L593.6,615.1 L593.6,615.0 L595.8,615.0 L595.8,614.8 L597.9,614.8 L597.9,615.2 L600.0,615.2 L600.0,615.3 L602.1,615.3 L602.1,614.8 L604.2,614.8 L604.2,615.0 L606.4,615.0 L606.4,615.1 L608.5,615.1 L608.5,615.0 L610.6,615.0 L610.6,615.1 L612.7,615.1 L612.7,615.2 L614.8,615.2 L614.8,615.2 L617.0,615.2 L617.0,614.4 L619.1,614.4 L619.1,615.0 L621.2,615.0 L621.2,615.0 L623.3,615.0 L623.3,615.3 L625.4,615.3 L625.4,615.1 L627.6,615.1 L627.6,615.1 L629.7,615.1 L629.7,615.1 L631.8,615.1 L631.8,615.1 L633.9,615.1 L633.9,615.1 L636.0,615.1 L636.0,615.1 L638.2,615.1 L638.2,615.1 L640.3,615.1 L640.3,615.1 L642.4,615.1 L642.4,615.1 L644.5,615.1 L644.5,615.3 L646.6,615.3 L646.6,615.3 L648.8,615.3 L648.8,615.1 L650.9,615.1 L650.9,615.3 L653.0,615.3 L653.0,614.7 L655.1,614.7 L655.1,615.0 L657.2,615.0 L657.2,615.1 L659.4,615.1 L659.4,615.0 L661.5,615.0 L661.5,614.7 L663.6,614.7 L663.6,615.2 L665.7,615.2 L665.7,614.9 L667.8,614.9 L667.8,615.0 L670.0,615.0 L670.0,614.8 L672.1,614.8 L672.1,615.3 L674.2,615.3 L674.2,615.1 L676.3,615.1 L676.3,614.9 L678.4,614.9 L678.4,615.3 L680.6,615.3 L680.6,615.2 L682.7,615.2 L682.7,615.2 L684.8,615.2 L684.8,615.1 L686.9,615.1 L686.9,614.4 L689.0,614.4 L689.0,615.2 L691.2,615.2 L691.2,615.1 L693.3,615.1 L693.3,615.0 L695.4,615.0 L695.4,615.3 L697.5,615.3 L697.5,614.8 L699.6,614.8 L699.6,615.2 L701.8,615.2 L701.8,615.1 L703.9,615.1 L703.9,614.9 L706.0,614.9 L706.0,615.3 L708.1,615.3 L708.1,615.3 L710.2,615.3 L710.2,615.2 L712.4,615.2 L712.4,615.2 L714.5,615.2 L714.5,614.6 L716.6,614.6 L716.6,614.9 L718.7,614.9 L718.7,615.1 L720.8,615.1 L720.8,615.2 L723.0,615.2 L723.0,614.9 L725.1,614.9 L725.1,615.1 L727.2,615.1 L727.2,615.0 L729.3,615.0 L729.3,615.0 L731.4,615.0 L731.4,615.2 L733.6,615.2 L733.6,614.9 L735.7,614.9 L735.7,614.9 L737.8,614.9 L737.8,615.1 L739.9,615.1 L739.9,615.2 L742.0,615.2 L742.0,615.2 L744.2,615.2 L744.2,614.9 L746.3,614.9 L746.3,615.0 L748.4,615.0 L748.4,615.2 L750.5,615.2 L750.5,615.0 L752.6,615.0 L752.6,615.2 L754.8,615.2 L754.8,615.1 L756.9,615.1 L756.9,615.2 L759.0,615.2 L759.0,615.1 L761.1,615.1 L761.1,614.7 L763.2,614.7 L763.2,615.1 L765.4,615.1 L765.4,615.2 L767.5,615.2 L767.5,615.2 L769.6,615.2 L769.6,615.0 L771.7,615.0 L771.7,615.3 L773.8,615.3 L773.8,615.1 L776.0,615.1 L776.0,615.2 L778.1,615.2 L778.1,615.1 L780.2,615.1 L780.2,614.9 L782.3,614.9 L782.3,615.2 L784.4,615.2 L784.4,615.0 L786.6,615.0 L786.6,615.2 L788.7,615.2 L788.7,614.9 L790.8,614.9 L790.8,615.2 L792.9,615.2 L792.9,615.0 L795.0,615.0 L795.0,614.9 L797.2,614.9 L797.2,615.3 L799.3,615.3 L799.3,615.2 L801.4,615.2 L801.4,615.1 L803.5,615.1 L803.5,615.3 L805.6,615.3 L805.6,615.2 L807.8,615.2 L807.8,615.2 L809.9,615.2 L809.9,615.1 L812.0,615.1 L812.0,615.2 L814.1,615.2 L814.1,615.3 L816.2,615.3 L816.2,615.2 L818.4,615.2 L818.4,614.8 L820.5,614.8 L820.5,615.1 L822.6,615.1 L822.6,614.9 L824.7,614.9 L824.7,615.2 L826.8,615.2 L826.8,615.0 L829.0,615.0 L829.0,614.9 L831.1,614.9 L831.1,614.7 L833.2,614.7 L833.2,615.1 L835.3,615.1 L835.3,615.1 L837.4,615.1 L837.4,615.0 L839.6,615.0 L839.6,615.1 L841.7,615.1 L841.7,614.9 L843.8,614.9 L843.8,615.3 L845.9,615.3 L845.9,615.1 L848.0,615.1 L848.0,615.3 Z" fill="#bf9189"/>
<rect x="261.5" y="500" width="2.1" height="48" fill="#de9a62" opacity="0.85"/>
<rect x="282.5" y="566" width="2.1" height="40" fill="#de9a62" opacity="0.85"/>
<rect x="254.0" y="470" width="2.1" height="30" fill="#de9a62" opacity="0.85"/>
<path d="M180.0,615.3 L180.0,615.3 L182.1,615.3 L182.1,612.6 L184.2,612.6 L184.2,604.3 L186.4,604.3 L186.4,592.4 L188.5,592.4 L188.5,577.9 L190.6,577.9 L190.6,566.2 L192.7,566.2 L192.7,559.5 L194.8,559.5 L194.8,565.4 L197.0,565.4 L197.0,582.5 L199.1,582.5 L199.1,597.3 L201.2,597.3 L201.2,608.9 L203.3,608.9 L203.3,614.9 L205.4,614.9 L205.4,615.3 Z" fill="#86dcf4" opacity="0.9"/>
<path d="M180.0,615.3 L180.0,615.3 L182.1,615.3 L182.1,613.5 L184.2,613.5 L184.2,608.7 L186.4,608.7 L186.4,603.0 L188.5,603.0 L188.5,598.8 L190.6,598.8 L190.6,599.0 L192.7,599.0 L192.7,609.1 L194.8,609.1 L194.8,615.1 L197.0,615.1 L197.0,615.3 L199.1,615.3 L199.1,615.3 L201.2,615.3 L201.2,615.3 L203.3,615.3 L203.3,615.3 L205.4,615.3 L205.4,615.3 Z" fill="#d8ec5a" opacity="0.9"/>
<path d="M178.0,615.3 L178.5,615.3 L179.0,615.3 L179.5,615.3 L180.0,615.3 L180.5,615.3 L181.0,615.3 L181.5,615.1 L182.0,614.7 L182.5,614.2 L183.0,613.6 L183.5,612.9 L184.0,612.0 L184.5,611.0 L185.0,610.0 L185.5,608.8 L186.0,607.4 L186.5,605.9 L187.0,604.2 L187.5,602.2 L188.0,600.0 L188.5,597.5 L189.0,595.0 L189.5,592.3 L190.0,589.5 L190.5,586.8 L191.0,584.0 L191.5,581.1 L192.0,577.9 L192.5,574.6 L193.0,571.5 L193.5,568.8 L194.0,567.1 L194.5,567.1 L195.0,568.5 L195.5,570.9 L196.0,573.9 L196.5,577.0 L197.0,580.3 L197.5,583.9 L198.0,587.7 L198.5,591.4 L199.0,594.9 L199.5,598.0 L200.0,600.7 L200.5,603.2 L201.0,605.5 L201.5,607.6 L202.0,609.4 L202.5,611.0 L203.0,612.3 L203.5,613.4 L204.0,614.3 L204.5,614.9 L205.0,615.3 L205.5,615.3 L206.0,615.3 L206.5,615.3 L207.0,615.3 L207.5,615.3 L208.0,615.3 L208.5,615.3 L209.0,615.3 L209.5,615.3 L210.0,615.3 L210.5,615.3 L211.0,615.3 L211.5,615.3 L212.0,615.3 L212.5,615.3 L213.0,615.3 L213.5,615.3 L214.0,615.3 L214.5,615.3" fill="none" stroke="#2c6a96" stroke-width="2.4"/>
<path d="M176.0,615.3 L176.5,615.3 L177.0,615.3 L177.5,615.3 L178.0,615.3 L178.5,615.3 L179.0,615.3 L179.5,615.3 L180.0,615.3 L180.5,615.3 L181.0,615.3 L181.5,615.3 L182.0,615.3 L182.5,615.3 L183.0,615.3 L183.5,615.3 L184.0,615.3 L184.5,615.3 L185.0,615.3 L185.5,615.3 L186.0,615.3 L186.5,615.3 L187.0,615.3 L187.5,615.3 L188.0,615.3 L188.5,615.3 L189.0,615.3 L189.5,615.3 L190.0,615.3 L190.5,615.3 L191.0,615.3 L191.5,615.3 L192.0,615.3 L192.5,615.3 L193.0,615.3 L193.5,615.3 L194.0,615.3 L194.5,615.3 L195.0,615.3 L195.5,615.3 L196.0,615.3 L196.5,615.3 L197.0,615.3 L197.5,615.0 L198.0,614.4 L198.5,613.7 L199.0,612.8 L199.5,611.9 L200.0,610.8 L200.5,609.7 L201.0,608.4 L201.5,607.1 L202.0,605.7 L202.5,604.2 L203.0,602.7 L203.5,601.1 L204.0,599.5 L204.5,597.8 L205.0,596.2 L205.5,594.5 L206.0,592.9 L206.5,591.1 L207.0,589.1 L207.5,586.8 L208.0,584.1 L208.5,581.0 L209.0,577.3 L209.5,573.0 L210.0,568.1 L210.5,563.1 L211.0,558.1 L211.5,553.0 L212.0,547.9 L212.5,542.8 L213.0,537.7 L213.5,532.7 L214.0,527.9 L214.5,523.2 L215.0,518.5 L215.5,513.8 L216.0,509.0 L216.5,504.0 L217.0,498.7 L217.5,492.9 L218.0,485.9 L218.5,478.0 L219.0,469.7 L219.5,461.5 L220.0,453.9 L220.5,446.5 L221.0,439.1 L221.5,431.7 L222.0,424.3 L222.5,416.9 L223.0,409.5 L223.5,402.2 L224.0,395.1 L224.5,388.3 L225.0,382.0 L225.5,377.0 L226.0,373.7 L226.5,371.6 L227.0,370.5 L227.5,369.7 L228.0,369.0 L228.5,368.1 L229.0,367.2 L229.5,366.4 L230.0,365.6 L230.5,364.9 L231.0,364.3 L231.5,363.9 L232.0,363.7 L232.5,363.7 L233.0,363.8 L233.5,364.0 L234.0,364.2 L234.5,364.4 L235.0,364.6 L235.5,365.0 L236.0,365.3 L236.5,365.8 L237.0,366.3 L237.5,366.9 L238.0,367.5 L238.5,368.2 L239.0,368.9 L239.5,369.7 L240.0,370.4 L240.5,371.3 L241.0,372.1 L241.5,373.0 L242.0,374.0 L242.5,375.0 L243.0,376.0 L243.5,377.1 L244.0,378.2 L244.5,379.4 L245.0,380.6 L245.5,381.9 L246.0,383.3 L246.5,384.8 L247.0,386.4 L247.5,388.1 L248.0,390.0 L248.5,392.0 L249.0,394.0 L249.5,396.2 L250.0,398.4 L250.5,400.6 L251.0,402.9 L251.5,405.3 L252.0,407.6 L252.5,410.0 L253.0,412.4 L253.5,414.8 L254.0,417.3 L254.5,419.8 L255.0,422.3 L255.5,424.9 L256.0,427.5 L256.5,430.2 L257.0,433.0 L257.5,436.0 L258.0,439.4 L258.5,443.0 L259.0,446.8 L259.5,450.7 L260.0,454.6 L260.5,458.5 L261.0,462.3 L261.5,465.8 L262.0,469.1 L262.5,472.1 L263.0,475.0 L263.5,477.8 L264.0,480.5 L264.5,483.2 L265.0,485.7 L265.5,488.1 L266.0,490.4 L266.5,492.5 L267.0,494.5 L267.5,496.4 L268.0,498.2 L268.5,499.9 L269.0,501.6 L269.5,503.2 L270.0,504.8 L270.5,506.4 L271.0,507.9 L271.5,509.5 L272.0,511.1 L272.5,512.7 L273.0,514.3 L273.5,516.0 L274.0,517.7 L274.5,519.4 L275.0,521.3 L275.5,523.2 L276.0,525.2 L276.5,527.3 L277.0,529.4 L277.5,531.5 L278.0,533.7 L278.5,535.8 L279.0,537.9 L279.5,539.9 L280.0,541.9 L280.5,543.7 L281.0,545.5 L281.5,547.1 L282.0,548.7 L282.5,550.3 L283.0,551.8 L283.5,553.4 L284.0,554.8 L284.5,556.3 L285.0,557.7 L285.5,559.2 L286.0,560.6 L286.5,562.0 L287.0,563.3 L287.5,564.7 L288.0,566.0 L288.5,567.4 L289.0,568.7 L289.5,570.1 L290.0,571.4 L290.5,572.7 L291.0,574.1 L291.5,575.4 L292.0,576.7 L292.5,578.0 L293.0,579.3 L293.5,580.6 L294.0,581.9 L294.5,583.2 L295.0,584.4 L295.5,585.6 L296.0,586.8 L296.5,588.0 L297.0,589.2 L297.5,590.3 L298.0,591.4 L298.5,592.5 L299.0,593.5 L299.5,594.5 L300.0,595.4 L300.5,596.3 L301.0,597.2 L301.5,598.0 L302.0,598.8 L302.5,599.6 L303.0,600.3 L303.5,600.9 L304.0,601.6 L304.5,602.2 L305.0,602.7 L305.5,603.3 L306.0,603.7 L306.5,604.2 L307.0,604.6 L307.5,605.0 L308.0,605.4 L308.5,605.7 L309.0,606.0 L309.5,606.3 L310.0,606.6 L310.5,607.0 L311.0,607.3 L311.5,607.5 L312.0,607.8 L312.5,608.1 L313.0,608.4 L313.5,608.7 L314.0,608.9 L314.5,609.2 L315.0,609.4 L315.5,609.6 L316.0,609.9 L316.5,610.1 L317.0,610.3 L317.5,610.5 L318.0,610.7 L318.5,610.9 L319.0,611.0 L319.5,611.2 L320.0,611.4 L320.5,611.5 L321.0,611.6 L321.5,611.7 L322.0,611.8 L322.5,611.9 L323.0,612.0 L323.5,612.1 L324.0,612.2 L324.5,612.3 L325.0,612.4 L325.5,612.5 L326.0,612.6 L326.5,612.7 L327.0,612.8 L327.5,612.9 L328.0,612.9 L328.5,613.0 L329.0,613.1 L329.5,613.2 L330.0,613.3 L330.5,613.3 L331.0,613.4 L331.5,613.5 L332.0,613.5 L332.5,613.6 L333.0,613.7 L333.5,613.7 L334.0,613.7 L334.5,613.8 L335.0,613.8 L335.5,613.8 L336.0,613.9 L336.5,613.9 L337.0,613.9 L337.5,613.9 L338.0,614.0 L338.5,614.0 L339.0,614.0 L339.5,614.0 L340.0,614.1 L340.5,614.1 L341.0,614.1 L341.5,614.1 L342.0,614.2 L342.5,614.2 L343.0,614.2 L343.5,614.2 L344.0,614.3 L344.5,614.3 L345.0,614.3 L345.5,614.3 L346.0,614.4 L346.5,614.4 L347.0,614.4 L347.5,614.4 L348.0,614.4 L348.5,614.5 L349.0,614.5 L349.5,614.5 L350.0,614.5 L350.5,614.6 L351.0,614.6 L351.5,614.6 L352.0,614.6 L352.5,614.6 L353.0,614.6 L353.5,614.7 L354.0,614.7 L354.5,614.7 L355.0,614.7 L355.5,614.7 L356.0,614.7 L356.5,614.7 L357.0,614.8 L357.5,614.8 L358.0,614.8 L358.5,614.8 L359.0,614.8 L359.5,614.8 L360.0,614.8 L360.5,614.8 L361.0,614.8 L361.5,614.8 L362.0,614.8 L362.5,614.8 L363.0,614.8 L363.5,614.8 L364.0,614.8 L364.5,614.8 L365.0,614.9 L365.5,614.9 L366.0,614.9 L366.5,614.9 L367.0,614.9 L367.5,614.9 L368.0,614.9 L368.5,614.9 L369.0,614.9 L369.5,614.9 L370.0,614.9 L370.5,614.9 L371.0,614.9 L371.5,614.9 L372.0,614.9 L372.5,614.9 L373.0,614.9 L373.5,614.9 L374.0,615.0 L374.5,615.0 L375.0,615.0 L375.5,615.0 L376.0,615.0 L376.5,615.0 L377.0,615.0 L377.5,615.0 L378.0,615.0 L378.5,615.0 L379.0,615.0 L379.5,615.0 L380.0,615.0 L380.5,615.0 L381.0,615.0 L381.5,615.0 L382.0,615.0 L382.5,615.0 L383.0,615.0 L383.5,615.1 L384.0,615.1 L384.5,615.1 L385.0,615.1 L385.5,615.1 L386.0,615.1 L386.5,615.1 L387.0,615.1 L387.5,615.1 L388.0,615.1 L388.5,615.1 L389.0,615.1 L389.5,615.1 L390.0,615.1 L390.5,615.1 L391.0,615.1 L391.5,615.1 L392.0,615.1 L392.5,615.1 L393.0,615.1 L393.5,615.1 L394.0,615.2 L394.5,615.2 L395.0,615.2 L395.5,615.2 L396.0,615.2 L396.5,615.2 L397.0,615.2 L397.5,615.2 L398.0,615.2 L398.5,615.2 L399.0,615.2 L399.5,615.2 L400.0,615.2 L400.5,615.2 L401.0,615.2 L401.5,615.2 L402.0,615.2 L402.5,615.2 L403.0,615.2 L403.5,615.2 L404.0,615.2 L404.5,615.2 L405.0,615.2 L405.5,615.2 L406.0,615.2 L406.5,615.2 L407.0,615.2 L407.5,615.3 L408.0,615.3 L408.5,615.3 L409.0,615.3 L409.5,615.3 L410.0,615.3 L410.5,615.3 L411.0,615.3 L411.5,615.3 L412.0,615.3 L412.5,615.3 L413.0,615.3 L413.5,615.3 L414.0,615.3 L414.5,615.3 L415.0,615.3 L415.5,615.3 L416.0,615.3 L416.5,615.3 L417.0,615.3 L417.5,615.3 L418.0,615.3 L418.5,615.3 L419.0,615.3 L419.5,615.3 L420.0,615.3 L420.5,615.3 L421.0,615.3 L421.5,615.3 L422.0,615.3 L422.5,615.3 L423.0,615.3 L423.5,615.3 L424.0,615.3 L424.5,615.3 L425.0,615.3 L425.5,615.3 L426.0,615.3 L426.5,615.3 L427.0,615.3 L427.5,615.3 L428.0,615.3 L428.5,615.3 L429.0,615.3 L429.5,615.3 L430.0,615.3 L430.5,615.3 L431.0,615.3 L431.5,615.3 L432.0,615.3 L432.5,615.3 L433.0,615.3 L433.5,615.3 L434.0,615.3 L434.5,615.3 L435.0,615.3 L435.5,615.3 L436.0,615.3 L436.5,615.3 L437.0,615.3 L437.5,615.3 L438.0,615.3 L438.5,615.3 L439.0,615.3 L439.5,615.3 L440.0,615.3 L440.5,615.3 L441.0,615.3 L441.5,615.3 L442.0,615.3 L442.5,615.3 L443.0,615.3 L443.5,615.3 L444.0,615.3 L444.5,615.3 L445.0,615.3 L445.5,615.3 L446.0,615.3 L446.5,615.3 L447.0,615.3 L447.5,615.3 L448.0,615.3 L448.5,615.3 L449.0,615.3 L449.5,615.3 L450.0,615.3 L450.5,615.3 L451.0,615.3 L451.5,615.3 L452.0,615.3 L452.5,615.3 L453.0,615.3 L453.5,615.3 L454.0,615.3 L454.5,615.3 L455.0,615.3 L455.5,615.3 L456.0,615.3 L456.5,615.3 L457.0,615.3 L457.5,615.3 L458.0,615.3 L458.5,615.3 L459.0,615.3 L459.5,615.3 L460.0,615.3 L460.5,615.3 L461.0,615.3 L461.5,615.3 L462.0,615.3 L462.5,615.3 L463.0,615.3 L463.5,615.3 L464.0,615.3 L464.5,615.3 L465.0,615.3 L465.5,615.3 L466.0,615.3 L466.5,615.3 L467.0,615.3 L467.5,615.3 L468.0,615.3 L468.5,615.3 L469.0,615.3 L469.5,615.3 L470.0,615.3 L470.5,615.3 L471.0,615.3 L471.5,615.3 L472.0,615.3 L472.5,615.3 L473.0,615.3 L473.5,615.3 L474.0,615.3 L474.5,615.3 L475.0,615.3 L475.5,615.3 L476.0,615.3 L476.5,615.3 L477.0,615.3 L477.5,615.3 L478.0,615.3 L478.5,615.3 L479.0,615.3 L479.5,615.3 L480.0,615.3 L480.5,615.3 L481.0,615.3 L481.5,615.3 L482.0,615.3 L482.5,615.3 L483.0,615.3 L483.5,615.3 L484.0,615.3 L484.5,615.3 L485.0,615.3 L485.5,615.3 L486.0,615.3 L486.5,615.3 L487.0,615.3 L487.5,615.3 L488.0,615.3 L488.5,615.3 L489.0,615.3 L489.5,615.3 L490.0,615.3 L490.5,615.3 L491.0,615.3 L491.5,615.3 L492.0,615.3 L492.5,615.3 L493.0,615.3 L493.5,615.3 L494.0,615.3 L494.5,615.3 L495.0,615.3 L495.5,615.3 L496.0,615.3 L496.5,615.3 L497.0,615.3 L497.5,615.3 L498.0,615.3 L498.5,615.3 L499.0,615.3 L499.5,615.3 L500.0,615.3 L500.5,615.3 L501.0,615.3 L501.5,615.3 L502.0,615.3 L502.5,615.3 L503.0,615.3 L503.5,615.3 L504.0,615.3 L504.5,615.3 L505.0,615.3 L505.5,615.3 L506.0,615.3 L506.5,615.3 L507.0,615.3 L507.5,615.3 L508.0,615.3 L508.5,615.3 L509.0,615.3 L509.5,615.3 L510.0,615.3 L510.5,615.3 L511.0,615.3 L511.5,615.3 L512.0,615.3 L512.5,615.3 L513.0,615.3 L513.5,615.3 L514.0,615.3 L514.5,615.3 L515.0,615.3 L515.5,615.3 L516.0,615.3 L516.5,615.3 L517.0,615.3 L517.5,615.3 L518.0,615.3 L518.5,615.3 L519.0,615.3 L519.5,615.3 L520.0,615.3 L520.5,615.3 L521.0,615.3 L521.5,615.3 L522.0,615.3 L522.5,615.3 L523.0,615.3 L523.5,615.3 L524.0,615.3 L524.5,615.3 L525.0,615.3 L525.5,615.3 L526.0,615.3 L526.5,615.3 L527.0,615.3 L527.5,615.3 L528.0,615.3 L528.5,615.3 L529.0,615.3 L529.5,615.3 L530.0,615.3 L530.5,615.3 L531.0,615.3 L531.5,615.3 L532.0,615.3 L532.5,615.3 L533.0,615.3 L533.5,615.3 L534.0,615.3 L534.5,615.3 L535.0,615.3 L535.5,615.3 L536.0,615.3 L536.5,615.3 L537.0,615.3 L537.5,615.3 L538.0,615.3 L538.5,615.3 L539.0,615.3 L539.5,615.3 L540.0,615.3 L540.5,615.3 L541.0,615.3 L541.5,615.3 L542.0,615.3 L542.5,615.3 L543.0,615.3 L543.5,615.3 L544.0,615.3 L544.5,615.3 L545.0,615.3 L545.5,615.3 L546.0,615.3 L546.5,615.3 L547.0,615.3 L547.5,615.3 L548.0,615.3 L548.5,615.3 L549.0,615.3 L549.5,615.3 L550.0,615.3 L550.5,615.3 L551.0,615.3 L551.5,615.3 L552.0,615.3 L552.5,615.3 L553.0,615.3 L553.5,615.3 L554.0,615.3 L554.5,615.3 L555.0,615.3 L555.5,615.3 L556.0,615.3 L556.5,615.3 L557.0,615.3 L557.5,615.3 L558.0,615.3 L558.5,615.3 L559.0,615.3 L559.5,615.3 L560.0,615.3 L560.5,615.3 L561.0,615.3 L561.5,615.3 L562.0,615.3 L562.5,615.3 L563.0,615.3 L563.5,615.3 L564.0,615.3 L564.5,615.3 L565.0,615.3 L565.5,615.3 L566.0,615.3 L566.5,615.3 L567.0,615.3 L567.5,615.3 L568.0,615.3 L568.5,615.3 L569.0,615.3 L569.5,615.3 L570.0,615.3 L570.5,615.3 L571.0,615.3 L571.5,615.3 L572.0,615.3 L572.5,615.3 L573.0,615.3 L573.5,615.3 L574.0,615.3 L574.5,615.3 L575.0,615.3 L575.5,615.3 L576.0,615.3 L576.5,615.3 L577.0,615.3 L577.5,615.3 L578.0,615.3 L578.5,615.3 L579.0,615.3 L579.5,615.3 L580.0,615.3 L580.5,615.3 L581.0,615.3 L581.5,615.3 L582.0,615.3 L582.5,615.3 L583.0,615.3 L583.5,615.3 L584.0,615.3 L584.5,615.3 L585.0,615.3 L585.5,615.3 L586.0,615.3 L586.5,615.3 L587.0,615.3 L587.5,615.3 L588.0,615.3 L588.5,615.3 L589.0,615.3 L589.5,615.3 L590.0,615.3 L590.5,615.3 L591.0,615.3 L591.5,615.3 L592.0,615.3 L592.5,615.3 L593.0,615.3 L593.5,615.3 L594.0,615.3 L594.5,615.3 L595.0,615.3 L595.5,615.3 L596.0,615.3 L596.5,615.3 L597.0,615.3 L597.5,615.3 L598.0,615.3 L598.5,615.3 L599.0,615.3 L599.5,615.3 L600.0,615.3 L600.5,615.3 L601.0,615.3 L601.5,615.3 L602.0,615.3 L602.5,615.3 L603.0,615.3 L603.5,615.3 L604.0,615.3 L604.5,615.3 L605.0,615.3 L605.5,615.3 L606.0,615.3 L606.5,615.3 L607.0,615.3 L607.5,615.3 L608.0,615.3 L608.5,615.3 L609.0,615.3 L609.5,615.3 L610.0,615.3 L610.5,615.3 L611.0,615.3 L611.5,615.3 L612.0,615.3 L612.5,615.3 L613.0,615.3 L613.5,615.3 L614.0,615.3 L614.5,615.3 L615.0,615.3 L615.5,615.3 L616.0,615.3 L616.5,615.3 L617.0,615.3 L617.5,615.3 L618.0,615.3 L618.5,615.3 L619.0,615.3 L619.5,615.3 L620.0,615.3 L620.5,615.3 L621.0,615.3 L621.5,615.3 L622.0,615.3 L622.5,615.3 L623.0,615.3 L623.5,615.3 L624.0,615.3 L624.5,615.3 L625.0,615.3 L625.5,615.3 L626.0,615.3 L626.5,615.3 L627.0,615.3 L627.5,615.3 L628.0,615.3 L628.5,615.3 L629.0,615.3 L629.5,615.3 L630.0,615.3 L630.5,615.3 L631.0,615.3 L631.5,615.3 L632.0,615.3 L632.5,615.3 L633.0,615.3 L633.5,615.3 L634.0,615.3 L634.5,615.3 L635.0,615.3 L635.5,615.3 L636.0,615.3 L636.5,615.3 L637.0,615.3 L637.5,615.3 L638.0,615.3 L638.5,615.3 L639.0,615.3 L639.5,615.3 L640.0,615.3 L640.5,615.3 L641.0,615.3 L641.5,615.3 L642.0,615.3 L642.5,615.3 L643.0,615.3 L643.5,615.3 L644.0,615.3 L644.5,615.3 L645.0,615.3 L645.5,615.3 L646.0,615.3 L646.5,615.3 L647.0,615.3 L647.5,615.3 L648.0,615.3 L648.5,615.3 L649.0,615.3 L649.5,615.3 L650.0,615.3 L650.5,615.3 L651.0,615.3 L651.5,615.3 L652.0,615.3 L652.5,615.3 L653.0,615.3 L653.5,615.3 L654.0,615.3 L654.5,615.3 L655.0,615.3 L655.5,615.3 L656.0,615.3 L656.5,615.3 L657.0,615.3 L657.5,615.3 L658.0,615.3 L658.5,615.3 L659.0,615.3 L659.5,615.3 L660.0,615.3 L660.5,615.3 L661.0,615.3 L661.5,615.3 L662.0,615.3 L662.5,615.3 L663.0,615.3 L663.5,615.3 L664.0,615.3 L664.5,615.3 L665.0,615.3 L665.5,615.3 L666.0,615.3 L666.5,615.3 L667.0,615.3 L667.5,615.3 L668.0,615.3 L668.5,615.3 L669.0,615.3 L669.5,615.3 L670.0,615.3 L670.5,615.3 L671.0,615.3 L671.5,615.3 L672.0,615.3 L672.5,615.3 L673.0,615.3 L673.5,615.3 L674.0,615.3 L674.5,615.3 L675.0,615.3 L675.5,615.3 L676.0,615.3 L676.5,615.3 L677.0,615.3 L677.5,615.3 L678.0,615.3 L678.5,615.3 L679.0,615.3 L679.5,615.3 L680.0,615.3 L680.5,615.3 L681.0,615.3 L681.5,615.3 L682.0,615.3 L682.5,615.3 L683.0,615.3 L683.5,615.3 L684.0,615.3 L684.5,615.3 L685.0,615.3 L685.5,615.3 L686.0,615.3 L686.5,615.3 L687.0,615.3 L687.5,615.3 L688.0,615.3 L688.5,615.3 L689.0,615.3 L689.5,615.3 L690.0,615.3 L690.5,615.3 L691.0,615.3 L691.5,615.3 L692.0,615.3 L692.5,615.3 L693.0,615.3 L693.5,615.3 L694.0,615.3 L694.5,615.3 L695.0,615.3 L695.5,615.3 L696.0,615.3 L696.5,615.3 L697.0,615.3 L697.5,615.3 L698.0,615.3 L698.5,615.3 L699.0,615.3 L699.5,615.3 L700.0,615.3 L700.5,615.3 L701.0,615.3 L701.5,615.3 L702.0,615.3 L702.5,615.3 L703.0,615.3 L703.5,615.3 L704.0,615.3 L704.5,615.3 L705.0,615.3 L705.5,615.3 L706.0,615.3 L706.5,615.3 L707.0,615.3 L707.5,615.3 L708.0,615.3 L708.5,615.3 L709.0,615.3 L709.5,615.3 L710.0,615.3 L710.5,615.3 L711.0,615.3 L711.5,615.3 L712.0,615.3 L712.5,615.3 L713.0,615.3 L713.5,615.3 L714.0,615.3 L714.5,615.3 L715.0,615.3 L715.5,615.3 L716.0,615.3 L716.5,615.3 L717.0,615.3 L717.5,615.3 L718.0,615.3 L718.5,615.3 L719.0,615.3 L719.5,615.3 L720.0,615.3 L720.5,615.3 L721.0,615.3 L721.5,615.3 L722.0,615.3 L722.5,615.3 L723.0,615.3 L723.5,615.3 L724.0,615.3 L724.5,615.3 L725.0,615.3 L725.5,615.3 L726.0,615.3 L726.5,615.3 L727.0,615.3 L727.5,615.3 L728.0,615.3 L728.5,615.3 L729.0,615.3 L729.5,615.3 L730.0,615.3 L730.5,615.3 L731.0,615.3 L731.5,615.3 L732.0,615.3 L732.5,615.3 L733.0,615.3 L733.5,615.3 L734.0,615.3 L734.5,615.3 L735.0,615.3 L735.5,615.3 L736.0,615.3 L736.5,615.3 L737.0,615.3 L737.5,615.3 L738.0,615.3 L738.5,615.3 L739.0,615.3 L739.5,615.3 L740.0,615.3 L740.5,615.3 L741.0,615.3 L741.5,615.3 L742.0,615.3 L742.5,615.3 L743.0,615.3 L743.5,615.3 L744.0,615.3 L744.5,615.3 L745.0,615.3 L745.5,615.3 L746.0,615.3 L746.5,615.3 L747.0,615.3 L747.5,615.3 L748.0,615.3 L748.5,615.3 L749.0,615.3 L749.5,615.3 L750.0,615.3 L750.5,615.3 L751.0,615.3 L751.5,615.3 L752.0,615.3 L752.5,615.3 L753.0,615.3 L753.5,615.3 L754.0,615.3 L754.5,615.3 L755.0,615.3 L755.5,615.3 L756.0,615.3 L756.5,615.3 L757.0,615.3 L757.5,615.3 L758.0,615.3 L758.5,615.3 L759.0,615.3 L759.5,615.3 L760.0,615.3 L760.5,615.3 L761.0,615.3 L761.5,615.3 L762.0,615.3 L762.5,615.3 L763.0,615.3 L763.5,615.3 L764.0,615.3 L764.5,615.3 L765.0,615.3 L765.5,615.3 L766.0,615.3 L766.5,615.3 L767.0,615.3 L767.5,615.3 L768.0,615.3 L768.5,615.3 L769.0,615.3 L769.5,615.3 L770.0,615.3 L770.5,615.3 L771.0,615.3 L771.5,615.3 L772.0,615.3 L772.5,615.3 L773.0,615.3 L773.5,615.3 L774.0,615.3 L774.5,615.3 L775.0,615.3 L775.5,615.3 L776.0,615.3 L776.5,615.3 L777.0,615.3 L777.5,615.3 L778.0,615.3 L778.5,615.3 L779.0,615.3 L779.5,615.3 L780.0,615.3 L780.5,615.3 L781.0,615.3 L781.5,615.3 L782.0,615.3 L782.5,615.3 L783.0,615.3 L783.5,615.3 L784.0,615.3 L784.5,615.3 L785.0,615.3 L785.5,615.3 L786.0,615.3 L786.5,615.3 L787.0,615.3 L787.5,615.3 L788.0,615.3 L788.5,615.3 L789.0,615.3 L789.5,615.3 L790.0,615.3 L790.5,615.3 L791.0,615.3 L791.5,615.3 L792.0,615.3 L792.5,615.3 L793.0,615.3 L793.5,615.3 L794.0,615.3 L794.5,615.3 L795.0,615.3 L795.5,615.3 L796.0,615.3 L796.5,615.3 L797.0,615.3 L797.5,615.3 L798.0,615.3 L798.5,615.3 L799.0,615.3 L799.5,615.3 L800.0,615.3 L800.5,615.3 L801.0,615.3 L801.5,615.3 L802.0,615.3 L802.5,615.3 L803.0,615.3 L803.5,615.3 L804.0,615.3 L804.5,615.3 L805.0,615.3 L805.5,615.3 L806.0,615.3 L806.5,615.3 L807.0,615.3 L807.5,615.3 L808.0,615.3 L808.5,615.3 L809.0,615.3 L809.5,615.3 L810.0,615.3 L810.5,615.3 L811.0,615.3 L811.5,615.3 L812.0,615.3 L812.5,615.3 L813.0,615.3 L813.5,615.3 L814.0,615.3 L814.5,615.3 L815.0,615.3 L815.5,615.3 L816.0,615.3 L816.5,615.3 L817.0,615.3 L817.5,615.3 L818.0,615.3 L818.5,615.3 L819.0,615.3 L819.5,615.3 L820.0,615.3 L820.5,615.3 L821.0,615.3 L821.5,615.3 L822.0,615.3 L822.5,615.3 L823.0,615.3 L823.5,615.3 L824.0,615.3 L824.5,615.3 L825.0,615.3 L825.5,615.3 L826.0,615.3 L826.5,615.3 L827.0,615.3 L827.5,615.3 L828.0,615.3 L828.5,615.3 L829.0,615.3 L829.5,615.3 L830.0,615.3 L830.5,615.3 L831.0,615.3 L831.5,615.3 L832.0,615.3 L832.5,615.3 L833.0,615.3 L833.5,615.3 L834.0,615.3 L834.5,615.3 L835.0,615.3 L835.5,615.3 L836.0,615.3 L836.5,615.3 L837.0,615.3 L837.5,615.3 L838.0,615.3 L838.5,615.3 L839.0,615.3 L839.5,615.3 L840.0,615.3 L840.5,615.3 L841.0,615.3 L841.5,615.3 L842.0,615.3 L842.5,615.3 L843.0,615.3 L843.5,615.3 L844.0,615.3 L844.5,615.3 L845.0,615.3 L845.5,615.3 L846.0,615.3 L846.5,615.3 L847.0,615.3 L847.5,615.3 L848.0,615.3 L848.5,615.3" fill="none" stroke="#7f3fa3" stroke-width="2.4"/>
<path d="M176.0,615.3 L176.5,615.3 L177.0,615.3 L177.5,615.3 L178.0,615.3 L178.5,615.3 L179.0,615.3 L179.5,615.3 L180.0,615.3 L180.5,615.3 L181.0,615.3 L181.5,615.3 L182.0,615.3 L182.5,615.2 L183.0,615.2 L183.5,615.1 L184.0,615.1 L184.5,615.0 L185.0,614.9 L185.5,614.9 L186.0,614.8 L186.5,614.7 L187.0,614.6 L187.5,614.5 L188.0,614.4 L188.5,614.1 L189.0,613.8 L189.5,613.5 L190.0,613.0 L190.5,612.3 L191.0,611.3 L191.5,610.1 L192.0,608.6 L192.5,607.0 L193.0,605.2 L193.5,603.4 L194.0,601.6 L194.5,599.7 L195.0,598.0 L195.5,596.4 L196.0,595.1 L196.5,593.8 L197.0,592.6 L197.5,591.2 L198.0,589.7 L198.5,588.0 L199.0,585.9 L199.5,583.3 L200.0,580.2 L200.5,576.5 L201.0,572.0 L201.5,567.0 L202.0,561.8 L202.5,556.3 L203.0,550.8 L203.5,545.2 L204.0,539.6 L204.5,534.0 L205.0,528.5 L205.5,522.9 L206.0,517.4 L206.5,511.8 L207.0,506.3 L207.5,500.6 L208.0,495.0 L208.5,488.8 L209.0,481.7 L209.5,473.9 L210.0,465.6 L210.5,457.0 L211.0,446.7 L211.5,434.8 L212.0,423.5 L212.5,414.9 L213.0,408.0 L213.5,401.6 L214.0,394.6 L214.5,386.6 L215.0,378.4 L215.5,370.2 L216.0,361.9 L216.5,353.7 L217.0,345.6 L217.5,337.6 L218.0,329.8 L218.5,322.0 L219.0,314.1 L219.5,306.0 L220.0,294.5 L220.5,279.5 L221.0,265.4 L221.5,254.4 L222.0,245.2 L222.5,239.0 L223.0,234.7 L223.5,231.3 L224.0,228.8 L224.5,227.2 L225.0,226.2 L225.5,225.3 L226.0,224.5 L226.5,223.8 L227.0,223.1 L227.5,222.6 L228.0,222.2 L228.5,221.9 L229.0,221.7 L229.5,221.6 L230.0,221.6 L230.5,222.2 L231.0,223.6 L231.5,226.3 L232.0,230.1 L232.5,234.8 L233.0,240.0 L233.5,245.5 L234.0,251.2 L234.5,256.8 L235.0,262.0 L235.5,266.7 L236.0,271.3 L236.5,275.7 L237.0,280.3 L237.5,285.0 L238.0,289.9 L238.5,294.8 L239.0,299.8 L239.5,305.0 L240.0,310.4 L240.5,316.0 L241.0,321.8 L241.5,327.8 L242.0,333.8 L242.5,339.8 L243.0,345.9 L243.5,351.9 L244.0,358.0 L244.5,364.1 L245.0,370.3 L245.5,376.6 L246.0,382.9 L246.5,389.2 L247.0,395.4 L247.5,401.4 L248.0,407.3 L248.5,412.7 L249.0,417.6 L249.5,422.0 L250.0,426.1 L250.5,430.0 L251.0,433.6 L251.5,437.1 L252.0,440.5 L252.5,444.0 L253.0,447.5 L253.5,450.9 L254.0,454.3 L254.5,457.6 L255.0,460.8 L255.5,464.0 L256.0,467.0 L256.5,469.8 L257.0,472.5 L257.5,475.0 L258.0,477.4 L258.5,479.7 L259.0,482.0 L259.5,484.2 L260.0,486.4 L260.5,488.5 L261.0,490.5 L261.5,492.5 L262.0,494.3 L262.5,496.1 L263.0,497.8 L263.5,499.5 L264.0,501.0 L264.5,502.5 L265.0,503.8 L265.5,505.1 L266.0,506.4 L266.5,507.6 L267.0,508.8 L267.5,510.0 L268.0,511.1 L268.5,512.3 L269.0,513.5 L269.5,514.6 L270.0,515.8 L270.5,517.0 L271.0,518.3 L271.5,519.6 L272.0,520.9 L272.5,522.3 L273.0,523.7 L273.5,525.1 L274.0,526.5 L274.5,527.9 L275.0,529.3 L275.5,530.8 L276.0,532.2 L276.5,533.8 L277.0,535.4 L277.5,537.0 L278.0,538.7 L278.5,540.4 L279.0,542.1 L279.5,543.9 L280.0,545.6 L280.5,547.4 L281.0,549.2 L281.5,551.0 L282.0,552.7 L282.5,554.5 L283.0,556.3 L283.5,558.0 L284.0,559.7 L284.5,561.5 L285.0,563.2 L285.5,564.9 L286.0,566.6 L286.5,568.3 L287.0,570.0 L287.5,571.7 L288.0,573.3 L288.5,575.0 L289.0,576.6 L289.5,578.3 L290.0,579.9 L290.5,581.5 L291.0,583.1 L291.5,584.7 L292.0,586.2 L292.5,587.7 L293.0,589.0 L293.5,590.3 L294.0,591.5 L294.5,592.6 L295.0,593.6 L295.5,594.6 L296.0,595.5 L296.5,596.3 L297.0,597.1 L297.5,597.9 L298.0,598.6 L298.5,599.3 L299.0,599.9 L299.5,600.6 L300.0,601.2 L300.5,601.8 L301.0,602.4 L301.5,603.0 L302.0,603.5 L302.5,604.1 L303.0,604.6 L303.5,605.1 L304.0,605.6 L304.5,606.1 L305.0,606.6 L305.5,607.0 L306.0,607.4 L306.5,607.8 L307.0,608.1 L307.5,608.4 L308.0,608.7 L308.5,608.9 L309.0,609.1 L309.5,609.3 L310.0,609.4 L310.5,609.6 L311.0,609.7 L311.5,609.9 L312.0,610.0 L312.5,610.2 L313.0,610.3 L313.5,610.5 L314.0,610.6 L314.5,610.8 L315.0,610.9 L315.5,611.1 L316.0,611.2 L316.5,611.3 L317.0,611.5 L317.5,611.6 L318.0,611.7 L318.5,611.9 L319.0,612.0 L319.5,612.1 L320.0,612.2 L320.5,612.4 L321.0,612.5 L321.5,612.6 L322.0,612.7 L322.5,612.8 L323.0,612.9 L323.5,613.0 L324.0,613.1 L324.5,613.2 L325.0,613.3 L325.5,613.4 L326.0,613.5 L326.5,613.6 L327.0,613.7 L327.5,613.8 L328.0,613.8 L328.5,613.9 L329.0,614.0 L329.5,614.0 L330.0,614.1 L330.5,614.1 L331.0,614.2 L331.5,614.2 L332.0,614.3 L332.5,614.3 L333.0,614.3 L333.5,614.4 L334.0,614.4 L334.5,614.4 L335.0,614.4 L335.5,614.4 L336.0,614.4 L336.5,614.4 L337.0,614.4 L337.5,614.4 L338.0,614.4 L338.5,614.4 L339.0,614.5 L339.5,614.5 L340.0,614.5 L340.5,614.5 L341.0,614.5 L341.5,614.5 L342.0,614.5 L342.5,614.5 L343.0,614.5 L343.5,614.5 L344.0,614.5 L344.5,614.5 L345.0,614.5 L345.5,614.5 L346.0,614.6 L346.5,614.6 L347.0,614.6 L347.5,614.6 L348.0,614.6 L348.5,614.6 L349.0,614.6 L349.5,614.6 L350.0,614.6 L350.5,614.6 L351.0,614.6 L351.5,614.6 L352.0,614.6 L352.5,614.6 L353.0,614.7 L353.5,614.7 L354.0,614.7 L354.5,614.7 L355.0,614.7 L355.5,614.7 L356.0,614.7 L356.5,614.7 L357.0,614.7 L357.5,614.7 L358.0,614.7 L358.5,614.7 L359.0,614.7 L359.5,614.7 L360.0,614.8 L360.5,614.8 L361.0,614.8 L361.5,614.8 L362.0,614.8 L362.5,614.8 L363.0,614.8 L363.5,614.8 L364.0,614.8 L364.5,614.8 L365.0,614.8 L365.5,614.8 L366.0,614.8 L366.5,614.8 L367.0,614.8 L367.5,614.9 L368.0,614.9 L368.5,614.9 L369.0,614.9 L369.5,614.9 L370.0,614.9 L370.5,614.9 L371.0,614.9 L371.5,614.9 L372.0,614.9 L372.5,614.9 L373.0,614.9 L373.5,614.9 L374.0,614.9 L374.5,614.9 L375.0,614.9 L375.5,614.9 L376.0,615.0 L376.5,615.0 L377.0,615.0 L377.5,615.0 L378.0,615.0 L378.5,615.0 L379.0,615.0 L379.5,615.0 L380.0,615.0 L380.5,615.0 L381.0,615.0 L381.5,615.0 L382.0,615.0 L382.5,615.0 L383.0,615.0 L383.5,615.0 L384.0,615.0 L384.5,615.0 L385.0,615.0 L385.5,615.0 L386.0,615.0 L386.5,615.0 L387.0,615.0 L387.5,615.1 L388.0,615.1 L388.5,615.1 L389.0,615.1 L389.5,615.1 L390.0,615.1 L390.5,615.1 L391.0,615.1 L391.5,615.1 L392.0,615.1 L392.5,615.1 L393.0,615.1 L393.5,615.1 L394.0,615.1 L394.5,615.1 L395.0,615.1 L395.5,615.1 L396.0,615.1 L396.5,615.1 L397.0,615.1 L397.5,615.1 L398.0,615.1 L398.5,615.1 L399.0,615.1 L399.5,615.1 L400.0,615.1 L400.5,615.1 L401.0,615.1 L401.5,615.1 L402.0,615.1 L402.5,615.1 L403.0,615.1 L403.5,615.1 L404.0,615.1 L404.5,615.1 L405.0,615.1 L405.5,615.1 L406.0,615.1 L406.5,615.1 L407.0,615.1 L407.5,615.1 L408.0,615.1 L408.5,615.1 L409.0,615.1 L409.5,615.1 L410.0,615.1 L410.5,615.1 L411.0,615.1 L411.5,615.1 L412.0,615.1 L412.5,615.1 L413.0,615.1 L413.5,615.1 L414.0,615.1 L414.5,615.1 L415.0,615.1 L415.5,615.1 L416.0,615.1 L416.5,615.1 L417.0,615.1 L417.5,615.1 L418.0,615.1 L418.5,615.1 L419.0,615.1 L419.5,615.1 L420.0,615.1 L420.5,615.1 L421.0,615.1 L421.5,615.1 L422.0,615.1 L422.5,615.1 L423.0,615.1 L423.5,615.1 L424.0,615.1 L424.5,615.1 L425.0,615.1 L425.5,615.1 L426.0,615.1 L426.5,615.1 L427.0,615.1 L427.5,615.1 L428.0,615.1 L428.5,615.1 L429.0,615.1 L429.5,615.1 L430.0,615.1 L430.5,615.1 L431.0,615.1 L431.5,615.1 L432.0,615.1 L432.5,615.1 L433.0,615.1 L433.5,615.1 L434.0,615.1 L434.5,615.1 L435.0,615.1 L435.5,615.1 L436.0,615.1 L436.5,615.1 L437.0,615.1 L437.5,615.1 L438.0,615.1 L438.5,615.1 L439.0,615.2 L439.5,615.2 L440.0,615.2 L440.5,615.2 L441.0,615.2 L441.5,615.2 L442.0,615.2 L442.5,615.2 L443.0,615.2 L443.5,615.2 L444.0,615.2 L444.5,615.2 L445.0,615.2 L445.5,615.2 L446.0,615.2 L446.5,615.2 L447.0,615.2 L447.5,615.2 L448.0,615.2 L448.5,615.2 L449.0,615.2 L449.5,615.2 L450.0,615.2 L450.5,615.2 L451.0,615.2 L451.5,615.2 L452.0,615.2 L452.5,615.2 L453.0,615.2 L453.5,615.2 L454.0,615.2 L454.5,615.2 L455.0,615.2 L455.5,615.2 L456.0,615.2 L456.5,615.2 L457.0,615.2 L457.5,615.2 L458.0,615.2 L458.5,615.2 L459.0,615.2 L459.5,615.2 L460.0,615.2 L460.5,615.2 L461.0,615.2 L461.5,615.2 L462.0,615.2 L462.5,615.2 L463.0,615.2 L463.5,615.2 L464.0,615.2 L464.5,615.2 L465.0,615.2 L465.5,615.2 L466.0,615.2 L466.5,615.2 L467.0,615.2 L467.5,615.2 L468.0,615.2 L468.5,615.2 L469.0,615.2 L469.5,615.2 L470.0,615.2 L470.5,615.2 L471.0,615.2 L471.5,615.2 L472.0,615.2 L472.5,615.2 L473.0,615.2 L473.5,615.2 L474.0,615.2 L474.5,615.2 L475.0,615.2 L475.5,615.2 L476.0,615.2 L476.5,615.2 L477.0,615.2 L477.5,615.2 L478.0,615.2 L478.5,615.2 L479.0,615.2 L479.5,615.2 L480.0,615.2 L480.5,615.2 L481.0,615.2 L481.5,615.2 L482.0,615.2 L482.5,615.2 L483.0,615.2 L483.5,615.2 L484.0,615.2 L484.5,615.2 L485.0,615.2 L485.5,615.2 L486.0,615.2 L486.5,615.2 L487.0,615.2 L487.5,615.2 L488.0,615.2 L488.5,615.2 L489.0,615.2 L489.5,615.2 L490.0,615.2 L490.5,615.2 L491.0,615.2 L491.5,615.2 L492.0,615.2 L492.5,615.3 L493.0,615.3 L493.5,615.3 L494.0,615.3 L494.5,615.3 L495.0,615.3 L495.5,615.3 L496.0,615.3 L496.5,615.3 L497.0,615.3 L497.5,615.3 L498.0,615.3 L498.5,615.3 L499.0,615.3 L499.5,615.3 L500.0,615.3 L500.5,615.3 L501.0,615.3 L501.5,615.3 L502.0,615.3 L502.5,615.3 L503.0,615.3 L503.5,615.3 L504.0,615.3 L504.5,615.3 L505.0,615.3 L505.5,615.3 L506.0,615.3 L506.5,615.3 L507.0,615.3 L507.5,615.3 L508.0,615.3 L508.5,615.3 L509.0,615.3 L509.5,615.3 L510.0,615.3 L510.5,615.3 L511.0,615.3 L511.5,615.3 L512.0,615.3 L512.5,615.3 L513.0,615.3 L513.5,615.3 L514.0,615.3 L514.5,615.3 L515.0,615.3 L515.5,615.3 L516.0,615.3 L516.5,615.3 L517.0,615.3 L517.5,615.3 L518.0,615.3 L518.5,615.3 L519.0,615.3 L519.5,615.3 L520.0,615.3 L520.5,615.3 L521.0,615.3 L521.5,615.3 L522.0,615.3 L522.5,615.3 L523.0,615.3 L523.5,615.3 L524.0,615.3 L524.5,615.3 L525.0,615.3 L525.5,615.3 L526.0,615.3 L526.5,615.3 L527.0,615.3 L527.5,615.3 L528.0,615.3 L528.5,615.3 L529.0,615.3 L529.5,615.3 L530.0,615.3 L530.5,615.3 L531.0,615.3 L531.5,615.3 L532.0,615.3 L532.5,615.3 L533.0,615.3 L533.5,615.3 L534.0,615.3 L534.5,615.3 L535.0,615.3 L535.5,615.3 L536.0,615.3 L536.5,615.3 L537.0,615.3 L537.5,615.3 L538.0,615.3 L538.5,615.3 L539.0,615.3 L539.5,615.3 L540.0,615.3 L540.5,615.3 L541.0,615.3 L541.5,615.3 L542.0,615.3 L542.5,615.3 L543.0,615.3 L543.5,615.3 L544.0,615.3 L544.5,615.3 L545.0,615.3 L545.5,615.3 L546.0,615.3 L546.5,615.3 L547.0,615.3 L547.5,615.3 L548.0,615.3 L548.5,615.3 L549.0,615.3 L549.5,615.3 L550.0,615.3 L550.5,615.3 L551.0,615.3 L551.5,615.3 L552.0,615.3 L552.5,615.3 L553.0,615.3 L553.5,615.3 L554.0,615.3 L554.5,615.3 L555.0,615.3 L555.5,615.3 L556.0,615.3 L556.5,615.3 L557.0,615.3 L557.5,615.3 L558.0,615.3 L558.5,615.3 L559.0,615.3 L559.5,615.3 L560.0,615.3 L560.5,615.3 L561.0,615.3 L561.5,615.3 L562.0,615.3 L562.5,615.3 L563.0,615.3 L563.5,615.3 L564.0,615.3 L564.5,615.3 L565.0,615.3 L565.5,615.3 L566.0,615.3 L566.5,615.3 L567.0,615.3 L567.5,615.3 L568.0,615.3 L568.5,615.3 L569.0,615.3 L569.5,615.3 L570.0,615.3 L570.5,615.3 L571.0,615.3 L571.5,615.3 L572.0,615.3 L572.5,615.3 L573.0,615.3 L573.5,615.3 L574.0,615.3 L574.5,615.3 L575.0,615.3 L575.5,615.3 L576.0,615.3 L576.5,615.3 L577.0,615.3 L577.5,615.3 L578.0,615.3 L578.5,615.3 L579.0,615.3 L579.5,615.3 L580.0,615.3 L580.5,615.3 L581.0,615.3 L581.5,615.3 L582.0,615.3 L582.5,615.3 L583.0,615.3 L583.5,615.3 L584.0,615.3 L584.5,615.3 L585.0,615.3 L585.5,615.3 L586.0,615.3 L586.5,615.3 L587.0,615.3 L587.5,615.3 L588.0,615.3 L588.5,615.3 L589.0,615.3 L589.5,615.3 L590.0,615.3 L590.5,615.3 L591.0,615.3 L591.5,615.3 L592.0,615.3 L592.5,615.3 L593.0,615.3 L593.5,615.3 L594.0,615.3 L594.5,615.3 L595.0,615.3 L595.5,615.3 L596.0,615.3 L596.5,615.3 L597.0,615.3 L597.5,615.3 L598.0,615.3 L598.5,615.3 L599.0,615.3 L599.5,615.3 L600.0,615.3 L600.5,615.3 L601.0,615.3 L601.5,615.3 L602.0,615.3 L602.5,615.3 L603.0,615.3 L603.5,615.3 L604.0,615.3 L604.5,615.3 L605.0,615.3 L605.5,615.3 L606.0,615.3 L606.5,615.3 L607.0,615.3 L607.5,615.3 L608.0,615.3 L608.5,615.3 L609.0,615.3 L609.5,615.3 L610.0,615.3 L610.5,615.3 L611.0,615.3 L611.5,615.3 L612.0,615.3 L612.5,615.3 L613.0,615.3 L613.5,615.3 L614.0,615.3 L614.5,615.3 L615.0,615.3 L615.5,615.3 L616.0,615.3 L616.5,615.3 L617.0,615.3 L617.5,615.3 L618.0,615.3 L618.5,615.3 L619.0,615.3 L619.5,615.3 L620.0,615.3 L620.5,615.3 L621.0,615.3 L621.5,615.3 L622.0,615.3 L622.5,615.3 L623.0,615.3 L623.5,615.3 L624.0,615.3 L624.5,615.3 L625.0,615.3 L625.5,615.3 L626.0,615.3 L626.5,615.3 L627.0,615.3 L627.5,615.3 L628.0,615.3 L628.5,615.3 L629.0,615.3 L629.5,615.3 L630.0,615.3 L630.5,615.3 L631.0,615.3 L631.5,615.3 L632.0,615.3 L632.5,615.3 L633.0,615.3 L633.5,615.3 L634.0,615.3 L634.5,615.3 L635.0,615.3 L635.5,615.3 L636.0,615.3 L636.5,615.3 L637.0,615.3 L637.5,615.3 L638.0,615.3 L638.5,615.3 L639.0,615.3 L639.5,615.3 L640.0,615.3 L640.5,615.3 L641.0,615.3 L641.5,615.3 L642.0,615.3 L642.5,615.3 L643.0,615.3 L643.5,615.3 L644.0,615.3 L644.5,615.3 L645.0,615.3 L645.5,615.3 L646.0,615.3 L646.5,615.3 L647.0,615.3 L647.5,615.3 L648.0,615.3 L648.5,615.3 L649.0,615.3 L649.5,615.3 L650.0,615.3 L650.5,615.3 L651.0,615.3 L651.5,615.3 L652.0,615.3 L652.5,615.3 L653.0,615.3 L653.5,615.3 L654.0,615.3 L654.5,615.3 L655.0,615.3 L655.5,615.3 L656.0,615.3 L656.5,615.3 L657.0,615.3 L657.5,615.3 L658.0,615.3 L658.5,615.3 L659.0,615.3 L659.5,615.3 L660.0,615.3 L660.5,615.3 L661.0,615.3 L661.5,615.3 L662.0,615.3 L662.5,615.3 L663.0,615.3 L663.5,615.3 L664.0,615.3 L664.5,615.3 L665.0,615.3 L665.5,615.3 L666.0,615.3 L666.5,615.3 L667.0,615.3 L667.5,615.3 L668.0,615.3 L668.5,615.3 L669.0,615.3 L669.5,615.3 L670.0,615.3 L670.5,615.3 L671.0,615.3 L671.5,615.3 L672.0,615.3 L672.5,615.3 L673.0,615.3 L673.5,615.3 L674.0,615.3 L674.5,615.3 L675.0,615.3 L675.5,615.3 L676.0,615.3 L676.5,615.3 L677.0,615.3 L677.5,615.3 L678.0,615.3 L678.5,615.3 L679.0,615.3 L679.5,615.3 L680.0,615.3 L680.5,615.3 L681.0,615.3 L681.5,615.3 L682.0,615.3 L682.5,615.3 L683.0,615.3 L683.5,615.3 L684.0,615.3 L684.5,615.3 L685.0,615.3 L685.5,615.3 L686.0,615.3 L686.5,615.3 L687.0,615.3 L687.5,615.3 L688.0,615.3 L688.5,615.3 L689.0,615.3 L689.5,615.3 L690.0,615.3 L690.5,615.3 L691.0,615.3 L691.5,615.3 L692.0,615.3 L692.5,615.3 L693.0,615.3 L693.5,615.3 L694.0,615.3 L694.5,615.3 L695.0,615.3 L695.5,615.3 L696.0,615.3 L696.5,615.3 L697.0,615.3 L697.5,615.3 L698.0,615.3 L698.5,615.3 L699.0,615.3 L699.5,615.3 L700.0,615.3 L700.5,615.3 L701.0,615.3 L701.5,615.3 L702.0,615.3 L702.5,615.3 L703.0,615.3 L703.5,615.3 L704.0,615.3 L704.5,615.3 L705.0,615.3 L705.5,615.3 L706.0,615.3 L706.5,615.3 L707.0,615.3 L707.5,615.3 L708.0,615.3 L708.5,615.3 L709.0,615.3 L709.5,615.3 L710.0,615.3 L710.5,615.3 L711.0,615.3 L711.5,615.3 L712.0,615.3 L712.5,615.3 L713.0,615.3 L713.5,615.3 L714.0,615.3 L714.5,615.3 L715.0,615.3 L715.5,615.3 L716.0,615.3 L716.5,615.3 L717.0,615.3 L717.5,615.3 L718.0,615.3 L718.5,615.3 L719.0,615.3 L719.5,615.3 L720.0,615.3 L720.5,615.3 L721.0,615.3 L721.5,615.3 L722.0,615.3 L722.5,615.3 L723.0,615.3 L723.5,615.3 L724.0,615.3 L724.5,615.3 L725.0,615.3 L725.5,615.3 L726.0,615.3 L726.5,615.3 L727.0,615.3 L727.5,615.3 L728.0,615.3 L728.5,615.3 L729.0,615.3 L729.5,615.3 L730.0,615.3 L730.5,615.3 L731.0,615.3 L731.5,615.3 L732.0,615.3 L732.5,615.3 L733.0,615.3 L733.5,615.3 L734.0,615.3 L734.5,615.3 L735.0,615.3 L735.5,615.3 L736.0,615.3 L736.5,615.3 L737.0,615.3 L737.5,615.3 L738.0,615.3 L738.5,615.3 L739.0,615.3 L739.5,615.3 L740.0,615.3 L740.5,615.3 L741.0,615.3 L741.5,615.3 L742.0,615.3 L742.5,615.3 L743.0,615.3 L743.5,615.3 L744.0,615.3 L744.5,615.3 L745.0,615.3 L745.5,615.3 L746.0,615.3 L746.5,615.3 L747.0,615.3 L747.5,615.3 L748.0,615.3 L748.5,615.3 L749.0,615.3 L749.5,615.3 L750.0,615.3 L750.5,615.3 L751.0,615.3 L751.5,615.3 L752.0,615.3 L752.5,615.3 L753.0,615.3 L753.5,615.3 L754.0,615.3 L754.5,615.3 L755.0,615.3 L755.5,615.3 L756.0,615.3 L756.5,615.3 L757.0,615.3 L757.5,615.3 L758.0,615.3 L758.5,615.3 L759.0,615.3 L759.5,615.3 L760.0,615.3 L760.5,615.3 L761.0,615.3 L761.5,615.3 L762.0,615.3 L762.5,615.3 L763.0,615.3 L763.5,615.3 L764.0,615.3 L764.5,615.3 L765.0,615.3 L765.5,615.3 L766.0,615.3 L766.5,615.3 L767.0,615.3 L767.5,615.3 L768.0,615.3 L768.5,615.3 L769.0,615.3 L769.5,615.3 L770.0,615.3 L770.5,615.3 L771.0,615.3 L771.5,615.3 L772.0,615.3 L772.5,615.3 L773.0,615.3 L773.5,615.3 L774.0,615.3 L774.5,615.3 L775.0,615.3 L775.5,615.3 L776.0,615.3 L776.5,615.3 L777.0,615.3 L777.5,615.3 L778.0,615.3 L778.5,615.3 L779.0,615.3 L779.5,615.3 L780.0,615.3 L780.5,615.3 L781.0,615.3 L781.5,615.3 L782.0,615.3 L782.5,615.3 L783.0,615.3 L783.5,615.3 L784.0,615.3 L784.5,615.3 L785.0,615.3 L785.5,615.3 L786.0,615.3 L786.5,615.3 L787.0,615.3 L787.5,615.3 L788.0,615.3 L788.5,615.3 L789.0,615.3 L789.5,615.3 L790.0,615.3 L790.5,615.3 L791.0,615.3 L791.5,615.3 L792.0,615.3 L792.5,615.3 L793.0,615.3 L793.5,615.3 L794.0,615.3 L794.5,615.3 L795.0,615.3 L795.5,615.3 L796.0,615.3 L796.5,615.3 L797.0,615.3 L797.5,615.3 L798.0,615.3 L798.5,615.3 L799.0,615.3 L799.5,615.3 L800.0,615.3 L800.5,615.3 L801.0,615.3 L801.5,615.3 L802.0,615.3 L802.5,615.3 L803.0,615.3 L803.5,615.3 L804.0,615.3 L804.5,615.3 L805.0,615.3 L805.5,615.3 L806.0,615.3 L806.5,615.3 L807.0,615.3 L807.5,615.3 L808.0,615.3 L808.5,615.3 L809.0,615.3 L809.5,615.3 L810.0,615.3 L810.5,615.3 L811.0,615.3 L811.5,615.3 L812.0,615.3 L812.5,615.3 L813.0,615.3 L813.5,615.3 L814.0,615.3 L814.5,615.3 L815.0,615.3 L815.5,615.3 L816.0,615.3 L816.5,615.3 L817.0,615.3 L817.5,615.3 L818.0,615.3 L818.5,615.3 L819.0,615.3 L819.5,615.3 L820.0,615.3 L820.5,615.3 L821.0,615.3 L821.5,615.3 L822.0,615.3 L822.5,615.3 L823.0,615.3 L823.5,615.3 L824.0,615.3 L824.5,615.3 L825.0,615.3 L825.5,615.3 L826.0,615.3 L826.5,615.3 L827.0,615.3 L827.5,615.3 L828.0,615.3 L828.5,615.3 L829.0,615.3 L829.5,615.3 L830.0,615.3 L830.5,615.3 L831.0,615.3 L831.5,615.3 L832.0,615.3 L832.5,615.3 L833.0,615.3 L833.5,615.3 L834.0,615.3 L834.5,615.3 L835.0,615.3 L835.5,615.3 L836.0,615.3 L836.5,615.3 L837.0,615.3 L837.5,615.3 L838.0,615.3 L838.5,615.3 L839.0,615.3 L839.5,615.3 L840.0,615.3 L840.5,615.3 L841.0,615.3 L841.5,615.3 L842.0,615.3 L842.5,615.3 L843.0,615.3 L843.5,615.3 L844.0,615.3 L844.5,615.3 L845.0,615.3 L845.5,615.3 L846.0,615.3 L846.5,615.3 L847.0,615.3 L847.5,615.3 L848.0,615.3 L848.5,615.3" fill="none" stroke="#3f4f55" stroke-width="2.4"/>
<path d="M176.0,615.3 L176.5,615.3 L177.0,615.3 L177.5,615.3 L178.0,615.3 L178.5,615.3 L179.0,615.3 L179.5,615.3 L180.0,615.3 L180.5,615.3 L181.0,615.3 L181.5,615.3 L182.0,615.3 L182.5,615.3 L183.0,615.3 L183.5,615.2 L184.0,615.2 L184.5,615.1 L185.0,615.1 L185.5,615.0 L186.0,615.0 L186.5,615.0 L187.0,615.0 L187.5,615.1 L188.0,615.1 L188.5,615.1 L189.0,615.0 L189.5,614.9 L190.0,614.7 L190.5,614.4 L191.0,613.9 L191.5,613.3 L192.0,612.5 L192.5,611.3 L193.0,609.7 L193.5,608.0 L194.0,606.0 L194.5,604.0 L195.0,601.9 L195.5,599.9 L196.0,598.0 L196.5,596.4 L197.0,595.2 L197.5,594.2 L198.0,593.4 L198.5,592.5 L199.0,591.6 L199.5,590.4 L200.0,588.9 L200.5,587.0 L201.0,584.4 L201.5,581.1 L202.0,577.0 L202.5,572.0 L203.0,566.3 L203.5,560.5 L204.0,554.5 L204.5,548.5 L205.0,542.4 L205.5,536.4 L206.0,530.5 L206.5,524.5 L207.0,518.6 L207.5,512.7 L208.0,506.8 L208.5,500.9 L209.0,495.0 L209.5,488.6 L210.0,481.4 L210.5,473.5 L211.0,465.3 L211.5,457.0 L212.0,448.4 L212.5,438.9 L213.0,428.0 L213.5,415.3 L214.0,401.0 L214.5,386.0 L215.0,370.7 L215.5,354.6 L216.0,338.8 L216.5,324.7 L217.0,314.5 L217.5,307.6 L218.0,303.1 L218.5,300.0 L219.0,297.3 L219.5,294.7 L220.0,292.3 L220.5,290.2 L221.0,288.4 L221.5,287.0 L222.0,285.8 L222.5,284.6 L223.0,283.5 L223.5,282.4 L224.0,281.4 L224.5,280.6 L225.0,280.0 L225.5,279.6 L226.0,279.4 L226.5,279.4 L227.0,279.6 L227.5,279.9 L228.0,280.4 L228.5,281.1 L229.0,282.0 L229.5,283.1 L230.0,284.4 L230.5,285.9 L231.0,287.6 L231.5,289.4 L232.0,291.2 L232.5,293.1 L233.0,295.1 L233.5,297.2 L234.0,299.3 L234.5,301.4 L235.0,303.7 L235.5,305.9 L236.0,308.3 L236.5,310.7 L237.0,313.3 L237.5,316.0 L238.0,318.8 L238.5,321.9 L239.0,325.2 L239.5,328.9 L240.0,332.8 L240.5,336.8 L241.0,341.1 L241.5,345.4 L242.0,349.9 L242.5,354.5 L243.0,359.2 L243.5,364.1 L244.0,369.2 L244.5,374.5 L245.0,380.0 L245.5,386.0 L246.0,392.5 L246.5,399.2 L247.0,405.8 L247.5,412.0 L248.0,417.8 L248.5,423.6 L249.0,429.1 L249.5,434.3 L250.0,439.0 L250.5,443.2 L251.0,447.0 L251.5,450.5 L252.0,454.0 L252.5,457.5 L253.0,460.8 L253.5,464.1 L254.0,467.4 L254.5,470.7 L255.0,473.9 L255.5,477.3 L256.0,480.6 L256.5,483.9 L257.0,487.1 L257.5,490.3 L258.0,493.4 L258.5,496.4 L259.0,499.3 L259.5,502.0 L260.0,504.6 L260.5,506.9 L261.0,509.1 L261.5,511.1 L262.0,513.0 L262.5,514.7 L263.0,516.3 L263.5,517.8 L264.0,519.2 L264.5,520.6 L265.0,521.8 L265.5,523.0 L266.0,524.2 L266.5,525.4 L267.0,526.5 L267.5,527.7 L268.0,528.7 L268.5,529.7 L269.0,530.6 L269.5,531.5 L270.0,532.3 L270.5,533.2 L271.0,534.1 L271.5,535.1 L272.0,536.1 L272.5,537.2 L273.0,538.4 L273.5,539.7 L274.0,541.2 L274.5,542.6 L275.0,544.1 L275.5,545.5 L276.0,547.0 L276.5,548.5 L277.0,550.0 L277.5,551.5 L278.0,553.0 L278.5,554.5 L279.0,556.0 L279.5,557.5 L280.0,559.0 L280.5,560.5 L281.0,562.1 L281.5,563.6 L282.0,565.1 L282.5,566.7 L283.0,568.3 L283.5,569.8 L284.0,571.4 L284.5,572.9 L285.0,574.5 L285.5,576.0 L286.0,577.5 L286.5,579.0 L287.0,580.5 L287.5,581.8 L288.0,583.2 L288.5,584.4 L289.0,585.6 L289.5,586.7 L290.0,587.8 L290.5,588.8 L291.0,589.8 L291.5,590.8 L292.0,591.7 L292.5,592.5 L293.0,593.4 L293.5,594.2 L294.0,595.0 L294.5,595.8 L295.0,596.5 L295.5,597.3 L296.0,598.0 L296.5,598.7 L297.0,599.4 L297.5,600.0 L298.0,600.6 L298.5,601.2 L299.0,601.8 L299.5,602.4 L300.0,602.9 L300.5,603.4 L301.0,603.9 L301.5,604.3 L302.0,604.8 L302.5,605.1 L303.0,605.5 L303.5,605.8 L304.0,606.2 L304.5,606.5 L305.0,606.8 L305.5,607.2 L306.0,607.5 L306.5,607.8 L307.0,608.1 L307.5,608.4 L308.0,608.7 L308.5,609.0 L309.0,609.3 L309.5,609.6 L310.0,609.8 L310.5,610.1 L311.0,610.3 L311.5,610.6 L312.0,610.8 L312.5,611.0 L313.0,611.2 L313.5,611.3 L314.0,611.5 L314.5,611.7 L315.0,611.8 L315.5,611.9 L316.0,612.0 L316.5,612.1 L317.0,612.2 L317.5,612.3 L318.0,612.4 L318.5,612.5 L319.0,612.5 L319.5,612.6 L320.0,612.7 L320.5,612.8 L321.0,612.9 L321.5,613.0 L322.0,613.1 L322.5,613.1 L323.0,613.2 L323.5,613.3 L324.0,613.4 L324.5,613.5 L325.0,613.5 L325.5,613.6 L326.0,613.7 L326.5,613.7 L327.0,613.8 L327.5,613.9 L328.0,613.9 L328.5,614.0 L329.0,614.0 L329.5,614.1 L330.0,614.1 L330.5,614.2 L331.0,614.2 L331.5,614.2 L332.0,614.3 L332.5,614.3 L333.0,614.3 L333.5,614.4 L334.0,614.4 L334.5,614.4 L335.0,614.4 L335.5,614.4 L336.0,614.4 L336.5,614.4 L337.0,614.4 L337.5,614.4 L338.0,614.4 L338.5,614.4 L339.0,614.5 L339.5,614.5 L340.0,614.5 L340.5,614.5 L341.0,614.5 L341.5,614.5 L342.0,614.5 L342.5,614.5 L343.0,614.5 L343.5,614.5 L344.0,614.5 L344.5,614.5 L345.0,614.5 L345.5,614.5 L346.0,614.6 L346.5,614.6 L347.0,614.6 L347.5,614.6 L348.0,614.6 L348.5,614.6 L349.0,614.6 L349.5,614.6 L350.0,614.6 L350.5,614.6 L351.0,614.6 L351.5,614.6 L352.0,614.6 L352.5,614.7 L353.0,614.7 L353.5,614.7 L354.0,614.7 L354.5,614.7 L355.0,614.7 L355.5,614.7 L356.0,614.7 L356.5,614.7 L357.0,614.7 L357.5,614.7 L358.0,614.7 L358.5,614.7 L359.0,614.7 L359.5,614.7 L360.0,614.8 L360.5,614.8 L361.0,614.8 L361.5,614.8 L362.0,614.8 L362.5,614.8 L363.0,614.8 L363.5,614.8 L364.0,614.8 L364.5,614.8 L365.0,614.8 L365.5,614.8 L366.0,614.8 L366.5,614.8 L367.0,614.8 L367.5,614.9 L368.0,614.9 L368.5,614.9 L369.0,614.9 L369.5,614.9 L370.0,614.9 L370.5,614.9 L371.0,614.9 L371.5,614.9 L372.0,614.9 L372.5,614.9 L373.0,614.9 L373.5,614.9 L374.0,614.9 L374.5,614.9 L375.0,614.9 L375.5,614.9 L376.0,614.9 L376.5,615.0 L377.0,615.0 L377.5,615.0 L378.0,615.0 L378.5,615.0 L379.0,615.0 L379.5,615.0 L380.0,615.0 L380.5,615.0 L381.0,615.0 L381.5,615.0 L382.0,615.0 L382.5,615.0 L383.0,615.0 L383.5,615.0 L384.0,615.0 L384.5,615.0 L385.0,615.0 L385.5,615.0 L386.0,615.0 L386.5,615.0 L387.0,615.0 L387.5,615.0 L388.0,615.1 L388.5,615.1 L389.0,615.1 L389.5,615.1 L390.0,615.1 L390.5,615.1 L391.0,615.1 L391.5,615.1 L392.0,615.1 L392.5,615.1 L393.0,615.1 L393.5,615.1 L394.0,615.1 L394.5,615.1 L395.0,615.1 L395.5,615.1 L396.0,615.1 L396.5,615.1 L397.0,615.1 L397.5,615.1 L398.0,615.1 L398.5,615.1 L399.0,615.1 L399.5,615.1 L400.0,615.1 L400.5,615.1 L401.0,615.1 L401.5,615.1 L402.0,615.1 L402.5,615.1 L403.0,615.1 L403.5,615.1 L404.0,615.1 L404.5,615.1 L405.0,615.1 L405.5,615.1 L406.0,615.1 L406.5,615.1 L407.0,615.1 L407.5,615.1 L408.0,615.1 L408.5,615.1 L409.0,615.1 L409.5,615.1 L410.0,615.1 L410.5,615.1 L411.0,615.1 L411.5,615.1 L412.0,615.1 L412.5,615.1 L413.0,615.1 L413.5,615.1 L414.0,615.1 L414.5,615.1 L415.0,615.1 L415.5,615.1 L416.0,615.1 L416.5,615.1 L417.0,615.1 L417.5,615.1 L418.0,615.1 L418.5,615.1 L419.0,615.1 L419.5,615.1 L420.0,615.1 L420.5,615.1 L421.0,615.1 L421.5,615.1 L422.0,615.1 L422.5,615.1 L423.0,615.1 L423.5,615.1 L424.0,615.1 L424.5,615.1 L425.0,615.1 L425.5,615.1 L426.0,615.1 L426.5,615.1 L427.0,615.1 L427.5,615.1 L428.0,615.1 L428.5,615.1 L429.0,615.1 L429.5,615.1 L430.0,615.1 L430.5,615.1 L431.0,615.1 L431.5,615.1 L432.0,615.1 L432.5,615.1 L433.0,615.2 L433.5,615.2 L434.0,615.2 L434.5,615.2 L435.0,615.2 L435.5,615.2 L436.0,615.2 L436.5,615.2 L437.0,615.2 L437.5,615.2 L438.0,615.2 L438.5,615.2 L439.0,615.2 L439.5,615.2 L440.0,615.2 L440.5,615.2 L441.0,615.2 L441.5,615.2 L442.0,615.2 L442.5,615.2 L443.0,615.2 L443.5,615.2 L444.0,615.2 L444.5,615.2 L445.0,615.2 L445.5,615.2 L446.0,615.2 L446.5,615.2 L447.0,615.2 L447.5,615.2 L448.0,615.2 L448.5,615.2 L449.0,615.2 L449.5,615.2 L450.0,615.2 L450.5,615.2 L451.0,615.2 L451.5,615.2 L452.0,615.2 L452.5,615.2 L453.0,615.2 L453.5,615.2 L454.0,615.2 L454.5,615.2 L455.0,615.2 L455.5,615.2 L456.0,615.2 L456.5,615.2 L457.0,615.2 L457.5,615.2 L458.0,615.2 L458.5,615.2 L459.0,615.2 L459.5,615.2 L460.0,615.2 L460.5,615.2 L461.0,615.2 L461.5,615.2 L462.0,615.2 L462.5,615.2 L463.0,615.2 L463.5,615.2 L464.0,615.2 L464.5,615.2 L465.0,615.2 L465.5,615.2 L466.0,615.2 L466.5,615.2 L467.0,615.2 L467.5,615.2 L468.0,615.2 L468.5,615.2 L469.0,615.2 L469.5,615.2 L470.0,615.2 L470.5,615.2 L471.0,615.2 L471.5,615.2 L472.0,615.2 L472.5,615.2 L473.0,615.2 L473.5,615.2 L474.0,615.2 L474.5,615.2 L475.0,615.2 L475.5,615.2 L476.0,615.2 L476.5,615.2 L477.0,615.2 L477.5,615.2 L478.0,615.2 L478.5,615.2 L479.0,615.2 L479.5,615.2 L480.0,615.2 L480.5,615.2 L481.0,615.2 L481.5,615.2 L482.0,615.2 L482.5,615.2 L483.0,615.2 L483.5,615.2 L484.0,615.3 L484.5,615.3 L485.0,615.3 L485.5,615.3 L486.0,615.3 L486.5,615.3 L487.0,615.3 L487.5,615.3 L488.0,615.3 L488.5,615.3 L489.0,615.3 L489.5,615.3 L490.0,615.3 L490.5,615.3 L491.0,615.3 L491.5,615.3 L492.0,615.3 L492.5,615.3 L493.0,615.3 L493.5,615.3 L494.0,615.3 L494.5,615.3 L495.0,615.3 L495.5,615.3 L496.0,615.3 L496.5,615.3 L497.0,615.3 L497.5,615.3 L498.0,615.3 L498.5,615.3 L499.0,615.3 L499.5,615.3 L500.0,615.3 L500.5,615.3 L501.0,615.3 L501.5,615.3 L502.0,615.3 L502.5,615.3 L503.0,615.3 L503.5,615.3 L504.0,615.3 L504.5,615.3 L505.0,615.3 L505.5,615.3 L506.0,615.3 L506.5,615.3 L507.0,615.3 L507.5,615.3 L508.0,615.3 L508.5,615.3 L509.0,615.3 L509.5,615.3 L510.0,615.3 L510.5,615.3 L511.0,615.3 L511.5,615.3 L512.0,615.3 L512.5,615.3 L513.0,615.3 L513.5,615.3 L514.0,615.3 L514.5,615.3 L515.0,615.3 L515.5,615.3 L516.0,615.3 L516.5,615.3 L517.0,615.3 L517.5,615.3 L518.0,615.3 L518.5,615.3 L519.0,615.3 L519.5,615.3 L520.0,615.3 L520.5,615.3 L521.0,615.3 L521.5,615.3 L522.0,615.3 L522.5,615.3 L523.0,615.3 L523.5,615.3 L524.0,615.3 L524.5,615.3 L525.0,615.3 L525.5,615.3 L526.0,615.3 L526.5,615.3 L527.0,615.3 L527.5,615.3 L528.0,615.3 L528.5,615.3 L529.0,615.3 L529.5,615.3 L530.0,615.3 L530.5,615.3 L531.0,615.3 L531.5,615.3 L532.0,615.3 L532.5,615.3 L533.0,615.3 L533.5,615.3 L534.0,615.3 L534.5,615.3 L535.0,615.3 L535.5,615.3 L536.0,615.3 L536.5,615.3 L537.0,615.3 L537.5,615.3 L538.0,615.3 L538.5,615.3 L539.0,615.3 L539.5,615.3 L540.0,615.3 L540.5,615.3 L541.0,615.3 L541.5,615.3 L542.0,615.3 L542.5,615.3 L543.0,615.3 L543.5,615.3 L544.0,615.3 L544.5,615.3 L545.0,615.3 L545.5,615.3 L546.0,615.3 L546.5,615.3 L547.0,615.3 L547.5,615.3 L548.0,615.3 L548.5,615.3 L549.0,615.3 L549.5,615.3 L550.0,615.3 L550.5,615.3 L551.0,615.3 L551.5,615.3 L552.0,615.3 L552.5,615.3 L553.0,615.3 L553.5,615.3 L554.0,615.3 L554.5,615.3 L555.0,615.3 L555.5,615.3 L556.0,615.3 L556.5,615.3 L557.0,615.3 L557.5,615.3 L558.0,615.3 L558.5,615.3 L559.0,615.3 L559.5,615.3 L560.0,615.3 L560.5,615.3 L561.0,615.3 L561.5,615.3 L562.0,615.3 L562.5,615.3 L563.0,615.3 L563.5,615.3 L564.0,615.3 L564.5,615.3 L565.0,615.3 L565.5,615.3 L566.0,615.3 L566.5,615.3 L567.0,615.3 L567.5,615.3 L568.0,615.3 L568.5,615.3 L569.0,615.3 L569.5,615.3 L570.0,615.3 L570.5,615.3 L571.0,615.3 L571.5,615.3 L572.0,615.3 L572.5,615.3 L573.0,615.3 L573.5,615.3 L574.0,615.3 L574.5,615.3 L575.0,615.3 L575.5,615.3 L576.0,615.3 L576.5,615.3 L577.0,615.3 L577.5,615.3 L578.0,615.3 L578.5,615.3 L579.0,615.3 L579.5,615.3 L580.0,615.3 L580.5,615.3 L581.0,615.3 L581.5,615.3 L582.0,615.3 L582.5,615.3 L583.0,615.3 L583.5,615.3 L584.0,615.3 L584.5,615.3 L585.0,615.3 L585.5,615.3 L586.0,615.3 L586.5,615.3 L587.0,615.3 L587.5,615.3 L588.0,615.3 L588.5,615.3 L589.0,615.3 L589.5,615.3 L590.0,615.3 L590.5,615.3 L591.0,615.3 L591.5,615.3 L592.0,615.3 L592.5,615.3 L593.0,615.3 L593.5,615.3 L594.0,615.3 L594.5,615.3 L595.0,615.3 L595.5,615.3 L596.0,615.3 L596.5,615.3 L597.0,615.3 L597.5,615.3 L598.0,615.3 L598.5,615.3 L599.0,615.3 L599.5,615.3 L600.0,615.3 L600.5,615.3 L601.0,615.3 L601.5,615.3 L602.0,615.3 L602.5,615.3 L603.0,615.3 L603.5,615.3 L604.0,615.3 L604.5,615.3 L605.0,615.3 L605.5,615.3 L606.0,615.3 L606.5,615.3 L607.0,615.3 L607.5,615.3 L608.0,615.3 L608.5,615.3 L609.0,615.3 L609.5,615.3 L610.0,615.3 L610.5,615.3 L611.0,615.3 L611.5,615.3 L612.0,615.3 L612.5,615.3 L613.0,615.3 L613.5,615.3 L614.0,615.3 L614.5,615.3 L615.0,615.3 L615.5,615.3 L616.0,615.3 L616.5,615.3 L617.0,615.3 L617.5,615.3 L618.0,615.3 L618.5,615.3 L619.0,615.3 L619.5,615.3 L620.0,615.3 L620.5,615.3 L621.0,615.3 L621.5,615.3 L622.0,615.3 L622.5,615.3 L623.0,615.3 L623.5,615.3 L624.0,615.3 L624.5,615.3 L625.0,615.3 L625.5,615.3 L626.0,615.3 L626.5,615.3 L627.0,615.3 L627.5,615.3 L628.0,615.3 L628.5,615.3 L629.0,615.3 L629.5,615.3 L630.0,615.3 L630.5,615.3 L631.0,615.3 L631.5,615.3 L632.0,615.3 L632.5,615.3 L633.0,615.3 L633.5,615.3 L634.0,615.3 L634.5,615.3 L635.0,615.3 L635.5,615.3 L636.0,615.3 L636.5,615.3 L637.0,615.3 L637.5,615.3 L638.0,615.3 L638.5,615.3 L639.0,615.3 L639.5,615.3 L640.0,615.3 L640.5,615.3 L641.0,615.3 L641.5,615.3 L642.0,615.3 L642.5,615.3 L643.0,615.3 L643.5,615.3 L644.0,615.3 L644.5,615.3 L645.0,615.3 L645.5,615.3 L646.0,615.3 L646.5,615.3 L647.0,615.3 L647.5,615.3 L648.0,615.3 L648.5,615.3 L649.0,615.3 L649.5,615.3 L650.0,615.3 L650.5,615.3 L651.0,615.3 L651.5,615.3 L652.0,615.3 L652.5,615.3 L653.0,615.3 L653.5,615.3 L654.0,615.3 L654.5,615.3 L655.0,615.3 L655.5,615.3 L656.0,615.3 L656.5,615.3 L657.0,615.3 L657.5,615.3 L658.0,615.3 L658.5,615.3 L659.0,615.3 L659.5,615.3 L660.0,615.3 L660.5,615.3 L661.0,615.3 L661.5,615.3 L662.0,615.3 L662.5,615.3 L663.0,615.3 L663.5,615.3 L664.0,615.3 L664.5,615.3 L665.0,615.3 L665.5,615.3 L666.0,615.3 L666.5,615.3 L667.0,615.3 L667.5,615.3 L668.0,615.3 L668.5,615.3 L669.0,615.3 L669.5,615.3 L670.0,615.3 L670.5,615.3 L671.0,615.3 L671.5,615.3 L672.0,615.3 L672.5,615.3 L673.0,615.3 L673.5,615.3 L674.0,615.3 L674.5,615.3 L675.0,615.3 L675.5,615.3 L676.0,615.3 L676.5,615.3 L677.0,615.3 L677.5,615.3 L678.0,615.3 L678.5,615.3 L679.0,615.3 L679.5,615.3 L680.0,615.3 L680.5,615.3 L681.0,615.3 L681.5,615.3 L682.0,615.3 L682.5,615.3 L683.0,615.3 L683.5,615.3 L684.0,615.3 L684.5,615.3 L685.0,615.3 L685.5,615.3 L686.0,615.3 L686.5,615.3 L687.0,615.3 L687.5,615.3 L688.0,615.3 L688.5,615.3 L689.0,615.3 L689.5,615.3 L690.0,615.3 L690.5,615.3 L691.0,615.3 L691.5,615.3 L692.0,615.3 L692.5,615.3 L693.0,615.3 L693.5,615.3 L694.0,615.3 L694.5,615.3 L695.0,615.3 L695.5,615.3 L696.0,615.3 L696.5,615.3 L697.0,615.3 L697.5,615.3 L698.0,615.3 L698.5,615.3 L699.0,615.3 L699.5,615.3 L700.0,615.3 L700.5,615.3 L701.0,615.3 L701.5,615.3 L702.0,615.3 L702.5,615.3 L703.0,615.3 L703.5,615.3 L704.0,615.3 L704.5,615.3 L705.0,615.3 L705.5,615.3 L706.0,615.3 L706.5,615.3 L707.0,615.3 L707.5,615.3 L708.0,615.3 L708.5,615.3 L709.0,615.3 L709.5,615.3 L710.0,615.3 L710.5,615.3 L711.0,615.3 L711.5,615.3 L712.0,615.3 L712.5,615.3 L713.0,615.3 L713.5,615.3 L714.0,615.3 L714.5,615.3 L715.0,615.3 L715.5,615.3 L716.0,615.3 L716.5,615.3 L717.0,615.3 L717.5,615.3 L718.0,615.3 L718.5,615.3 L719.0,615.3 L719.5,615.3 L720.0,615.3 L720.5,615.3 L721.0,615.3 L721.5,615.3 L722.0,615.3 L722.5,615.3 L723.0,615.3 L723.5,615.3 L724.0,615.3 L724.5,615.3 L725.0,615.3 L725.5,615.3 L726.0,615.3 L726.5,615.3 L727.0,615.3 L727.5,615.3 L728.0,615.3 L728.5,615.3 L729.0,615.3 L729.5,615.3 L730.0,615.3 L730.5,615.3 L731.0,615.3 L731.5,615.3 L732.0,615.3 L732.5,615.3 L733.0,615.3 L733.5,615.3 L734.0,615.3 L734.5,615.3 L735.0,615.3 L735.5,615.3 L736.0,615.3 L736.5,615.3 L737.0,615.3 L737.5,615.3 L738.0,615.3 L738.5,615.3 L739.0,615.3 L739.5,615.3 L740.0,615.3 L740.5,615.3 L741.0,615.3 L741.5,615.3 L742.0,615.3 L742.5,615.3 L743.0,615.3 L743.5,615.3 L744.0,615.3 L744.5,615.3 L745.0,615.3 L745.5,615.3 L746.0,615.3 L746.5,615.3 L747.0,615.3 L747.5,615.3 L748.0,615.3 L748.5,615.3 L749.0,615.3 L749.5,615.3 L750.0,615.3 L750.5,615.3 L751.0,615.3 L751.5,615.3 L752.0,615.3 L752.5,615.3 L753.0,615.3 L753.5,615.3 L754.0,615.3 L754.5,615.3 L755.0,615.3 L755.5,615.3 L756.0,615.3 L756.5,615.3 L757.0,615.3 L757.5,615.3 L758.0,615.3 L758.5,615.3 L759.0,615.3 L759.5,615.3 L760.0,615.3 L760.5,615.3 L761.0,615.3 L761.5,615.3 L762.0,615.3 L762.5,615.3 L763.0,615.3 L763.5,615.3 L764.0,615.3 L764.5,615.3 L765.0,615.3 L765.5,615.3 L766.0,615.3 L766.5,615.3 L767.0,615.3 L767.5,615.3 L768.0,615.3 L768.5,615.3 L769.0,615.3 L769.5,615.3 L770.0,615.3 L770.5,615.3 L771.0,615.3 L771.5,615.3 L772.0,615.3 L772.5,615.3 L773.0,615.3 L773.5,615.3 L774.0,615.3 L774.5,615.3 L775.0,615.3 L775.5,615.3 L776.0,615.3 L776.5,615.3 L777.0,615.3 L777.5,615.3 L778.0,615.3 L778.5,615.3 L779.0,615.3 L779.5,615.3 L780.0,615.3 L780.5,615.3 L781.0,615.3 L781.5,615.3 L782.0,615.3 L782.5,615.3 L783.0,615.3 L783.5,615.3 L784.0,615.3 L784.5,615.3 L785.0,615.3 L785.5,615.3 L786.0,615.3 L786.5,615.3 L787.0,615.3 L787.5,615.3 L788.0,615.3 L788.5,615.3 L789.0,615.3 L789.5,615.3 L790.0,615.3 L790.5,615.3 L791.0,615.3 L791.5,615.3 L792.0,615.3 L792.5,615.3 L793.0,615.3 L793.5,615.3 L794.0,615.3 L794.5,615.3 L795.0,615.3 L795.5,615.3 L796.0,615.3 L796.5,615.3 L797.0,615.3 L797.5,615.3 L798.0,615.3 L798.5,615.3 L799.0,615.3 L799.5,615.3 L800.0,615.3 L800.5,615.3 L801.0,615.3 L801.5,615.3 L802.0,615.3 L802.5,615.3 L803.0,615.3 L803.5,615.3 L804.0,615.3 L804.5,615.3 L805.0,615.3 L805.5,615.3 L806.0,615.3 L806.5,615.3 L807.0,615.3 L807.5,615.3 L808.0,615.3 L808.5,615.3 L809.0,615.3 L809.5,615.3 L810.0,615.3 L810.5,615.3 L811.0,615.3 L811.5,615.3 L812.0,615.3 L812.5,615.3 L813.0,615.3 L813.5,615.3 L814.0,615.3 L814.5,615.3 L815.0,615.3 L815.5,615.3 L816.0,615.3 L816.5,615.3 L817.0,615.3 L817.5,615.3 L818.0,615.3 L818.5,615.3 L819.0,615.3 L819.5,615.3 L820.0,615.3 L820.5,615.3 L821.0,615.3 L821.5,615.3 L822.0,615.3 L822.5,615.3 L823.0,615.3 L823.5,615.3 L824.0,615.3 L824.5,615.3 L825.0,615.3 L825.5,615.3 L826.0,615.3 L826.5,615.3 L827.0,615.3 L827.5,615.3 L828.0,615.3 L828.5,615.3 L829.0,615.3 L829.5,615.3 L830.0,615.3 L830.5,615.3 L831.0,615.3 L831.5,615.3 L832.0,615.3 L832.5,615.3 L833.0,615.3 L833.5,615.3 L834.0,615.3 L834.5,615.3 L835.0,615.3 L835.5,615.3 L836.0,615.3 L836.5,615.3 L837.0,615.3 L837.5,615.3 L838.0,615.3 L838.5,615.3 L839.0,615.3 L839.5,615.3 L840.0,615.3 L840.5,615.3 L841.0,615.3 L841.5,615.3 L842.0,615.3 L842.5,615.3 L843.0,615.3 L843.5,615.3 L844.0,615.3 L844.5,615.3 L845.0,615.3 L845.5,615.3 L846.0,615.3 L846.5,615.3 L847.0,615.3 L847.5,615.3 L848.0,615.3 L848.5,615.3" fill="none" stroke="#5a3a1c" stroke-width="2.4"/>
<line x1="165.0" y1="593.0" x2="169.5" y2="593.0" stroke="#3b4646" stroke-width="1.6"/>
<line x1="165.0" y1="570.6" x2="169.5" y2="570.6" stroke="#3b4646" stroke-width="1.6"/>
<line x1="165.0" y1="548.3" x2="169.5" y2="548.3" stroke="#3b4646" stroke-width="1.6"/>
<line x1="165.0" y1="526.0" x2="169.5" y2="526.0" stroke="#3b4646" stroke-width="1.6"/>
<line x1="165.0" y1="481.3" x2="169.5" y2="481.3" stroke="#3b4646" stroke-width="1.6"/>
<line x1="165.0" y1="459.0" x2="169.5" y2="459.0" stroke="#3b4646" stroke-width="1.6"/>
<line x1="165.0" y1="436.7" x2="169.5" y2="436.7" stroke="#3b4646" stroke-width="1.6"/>
<line x1="165.0" y1="414.4" x2="169.5" y2="414.4" stroke="#3b4646" stroke-width="1.6"/>
<line x1="165.0" y1="369.7" x2="169.5" y2="369.7" stroke="#3b4646" stroke-width="1.6"/>
<line x1="165.0" y1="347.4" x2="169.5" y2="347.4" stroke="#3b4646" stroke-width="1.6"/>
<line x1="165.0" y1="325.1" x2="169.5" y2="325.1" stroke="#3b4646" stroke-width="1.6"/>
<line x1="165.0" y1="302.7" x2="169.5" y2="302.7" stroke="#3b4646" stroke-width="1.6"/>
<line x1="165.0" y1="258.1" x2="169.5" y2="258.1" stroke="#3b4646" stroke-width="1.6"/>
<line x1="165.0" y1="235.8" x2="169.5" y2="235.8" stroke="#3b4646" stroke-width="1.6"/>
<line x1="165.0" y1="213.4" x2="169.5" y2="213.4" stroke="#3b4646" stroke-width="1.6"/>
<line x1="165.0" y1="191.1" x2="169.5" y2="191.1" stroke="#3b4646" stroke-width="1.6"/>
<line x1="165.0" y1="146.5" x2="169.5" y2="146.5" stroke="#3b4646" stroke-width="1.6"/>
<line x1="165.0" y1="124.1" x2="169.5" y2="124.1" stroke="#3b4646" stroke-width="1.6"/>
<line x1="160.7" y1="615.3" x2="169.5" y2="615.3" stroke="#3b4646" stroke-width="2"/>
<text x="140.20" y="623.20" font-size="20.50" font-weight="normal" fill="#1e2626" textLength="12.51" lengthAdjust="spacingAndGlyphs" stroke="#1e2626" stroke-width="0.75" >0</text>
<line x1="160.7" y1="503.7" x2="169.5" y2="503.7" stroke="#3b4646" stroke-width="2"/>
<text x="129.15" y="511.57" font-size="20.50" font-weight="normal" fill="#1e2626" textLength="23.54" lengthAdjust="spacingAndGlyphs" stroke="#1e2626" stroke-width="0.75" >50</text>
<line x1="160.7" y1="392.0" x2="169.5" y2="392.0" stroke="#3b4646" stroke-width="2"/>
<text x="117.94" y="399.95" font-size="20.50" font-weight="normal" fill="#1e2626" textLength="34.77" lengthAdjust="spacingAndGlyphs" stroke="#1e2626" stroke-width="0.75" >100</text>
<line x1="160.7" y1="280.4" x2="169.5" y2="280.4" stroke="#3b4646" stroke-width="2"/>
<text x="117.94" y="288.32" font-size="20.50" font-weight="normal" fill="#1e2626" textLength="34.77" lengthAdjust="spacingAndGlyphs" stroke="#1e2626" stroke-width="0.75" >150</text>
<line x1="160.7" y1="168.8" x2="169.5" y2="168.8" stroke="#3b4646" stroke-width="2"/>
<text x="118.47" y="176.70" font-size="20.50" font-weight="normal" fill="#1e2626" textLength="34.22" lengthAdjust="spacingAndGlyphs" stroke="#1e2626" stroke-width="0.75" >200</text>
<line x1="203.4" y1="615.3" x2="203.4" y2="619.8" stroke="#3b4646" stroke-width="1.6"/>
<line x1="237.3" y1="615.3" x2="237.3" y2="619.8" stroke="#3b4646" stroke-width="1.6"/>
<line x1="271.2" y1="615.3" x2="271.2" y2="619.8" stroke="#3b4646" stroke-width="1.6"/>
<line x1="305.1" y1="615.3" x2="305.1" y2="619.8" stroke="#3b4646" stroke-width="1.6"/>
<line x1="372.9" y1="615.3" x2="372.9" y2="619.8" stroke="#3b4646" stroke-width="1.6"/>
<line x1="406.8" y1="615.3" x2="406.8" y2="619.8" stroke="#3b4646" stroke-width="1.6"/>
<line x1="440.7" y1="615.3" x2="440.7" y2="619.8" stroke="#3b4646" stroke-width="1.6"/>
<line x1="474.6" y1="615.3" x2="474.6" y2="619.8" stroke="#3b4646" stroke-width="1.6"/>
<line x1="542.4" y1="615.3" x2="542.4" y2="619.8" stroke="#3b4646" stroke-width="1.6"/>
<line x1="576.3" y1="615.3" x2="576.3" y2="619.8" stroke="#3b4646" stroke-width="1.6"/>
<line x1="610.2" y1="615.3" x2="610.2" y2="619.8" stroke="#3b4646" stroke-width="1.6"/>
<line x1="644.1" y1="615.3" x2="644.1" y2="619.8" stroke="#3b4646" stroke-width="1.6"/>
<line x1="711.9" y1="615.3" x2="711.9" y2="619.8" stroke="#3b4646" stroke-width="1.6"/>
<line x1="745.8" y1="615.3" x2="745.8" y2="619.8" stroke="#3b4646" stroke-width="1.6"/>
<line x1="779.7" y1="615.3" x2="779.7" y2="619.8" stroke="#3b4646" stroke-width="1.6"/>
<line x1="813.6" y1="615.3" x2="813.6" y2="619.8" stroke="#3b4646" stroke-width="1.6"/>
<line x1="169.5" y1="615.3" x2="169.5" y2="623.8" stroke="#3b4646" stroke-width="2"/>
<text x="163.20" y="647.90" font-size="20.50" font-weight="normal" fill="#1e2626" textLength="12.51" lengthAdjust="spacingAndGlyphs" stroke="#1e2626" stroke-width="0.75" >0</text>
<line x1="339.0" y1="615.3" x2="339.0" y2="623.8" stroke="#3b4646" stroke-width="2"/>
<text x="321.78" y="647.90" font-size="20.50" font-weight="normal" fill="#1e2626" textLength="34.82" lengthAdjust="spacingAndGlyphs" stroke="#1e2626" stroke-width="0.75" >400</text>
<line x1="508.5" y1="615.3" x2="508.5" y2="623.8" stroke="#3b4646" stroke-width="2"/>
<text x="490.75" y="647.90" font-size="20.50" font-weight="normal" fill="#1e2626" textLength="35.37" lengthAdjust="spacingAndGlyphs" stroke="#1e2626" stroke-width="0.75" >800</text>
<line x1="678.0" y1="615.3" x2="678.0" y2="623.8" stroke="#3b4646" stroke-width="2"/>
<text x="653.90" y="647.90" font-size="20.50" font-weight="normal" fill="#1e2626" textLength="47.33" lengthAdjust="spacingAndGlyphs" stroke="#1e2626" stroke-width="0.75" >1200</text>
<line x1="847.5" y1="615.3" x2="847.5" y2="623.8" stroke="#3b4646" stroke-width="2"/>
<text x="823.40" y="647.90" font-size="20.50" font-weight="normal" fill="#1e2626" textLength="47.33" lengthAdjust="spacingAndGlyphs" stroke="#1e2626" stroke-width="0.75" >1600</text>
<line x1="169.5" y1="112.3" x2="169.5" y2="616.3" stroke="#3b4646" stroke-width="2.2"/>
<line x1="168.5" y1="615.3" x2="848.7" y2="615.3" stroke="#3b4646" stroke-width="2.2"/>
<text x="455.51" y="678.10" font-size="21.00" font-weight="normal" fill="#1e2626" textLength="105.79" lengthAdjust="spacingAndGlyphs" stroke="#1e2626" stroke-width="0.8" >Mass [kDa]</text>
<text transform="translate(105.70,398.50) rotate(-90)" x="-1.06" y="0" font-size="22.00" font-weight="normal" fill="#1e2626" textLength="67.17" lengthAdjust="spacingAndGlyphs" stroke="#1e2626" stroke-width="0.8">Counts</text>
<line x1="1049.0" y1="593.1" x2="1053.5" y2="593.1" stroke="#3b4646" stroke-width="1.6"/>
<line x1="1049.0" y1="570.6" x2="1053.5" y2="570.6" stroke="#3b4646" stroke-width="1.6"/>
<line x1="1049.0" y1="548.2" x2="1053.5" y2="548.2" stroke="#3b4646" stroke-width="1.6"/>
<line x1="1049.0" y1="525.7" x2="1053.5" y2="525.7" stroke="#3b4646" stroke-width="1.6"/>
<line x1="1049.0" y1="480.9" x2="1053.5" y2="480.9" stroke="#3b4646" stroke-width="1.6"/>
<line x1="1049.0" y1="458.4" x2="1053.5" y2="458.4" stroke="#3b4646" stroke-width="1.6"/>
<line x1="1049.0" y1="436.0" x2="1053.5" y2="436.0" stroke="#3b4646" stroke-width="1.6"/>
<line x1="1049.0" y1="413.5" x2="1053.5" y2="413.5" stroke="#3b4646" stroke-width="1.6"/>
<line x1="1049.0" y1="368.7" x2="1053.5" y2="368.7" stroke="#3b4646" stroke-width="1.6"/>
<line x1="1049.0" y1="346.2" x2="1053.5" y2="346.2" stroke="#3b4646" stroke-width="1.6"/>
<line x1="1049.0" y1="323.8" x2="1053.5" y2="323.8" stroke="#3b4646" stroke-width="1.6"/>
<line x1="1049.0" y1="301.3" x2="1053.5" y2="301.3" stroke="#3b4646" stroke-width="1.6"/>
<line x1="1049.0" y1="256.5" x2="1053.5" y2="256.5" stroke="#3b4646" stroke-width="1.6"/>
<line x1="1049.0" y1="234.0" x2="1053.5" y2="234.0" stroke="#3b4646" stroke-width="1.6"/>
<line x1="1049.0" y1="211.6" x2="1053.5" y2="211.6" stroke="#3b4646" stroke-width="1.6"/>
<line x1="1049.0" y1="189.1" x2="1053.5" y2="189.1" stroke="#3b4646" stroke-width="1.6"/>
<line x1="1049.0" y1="144.3" x2="1053.5" y2="144.3" stroke="#3b4646" stroke-width="1.6"/>
<line x1="1049.0" y1="121.8" x2="1053.5" y2="121.8" stroke="#3b4646" stroke-width="1.6"/>
<line x1="1044.7" y1="615.5" x2="1053.5" y2="615.5" stroke="#3b4646" stroke-width="2"/>
<text x="1024.20" y="623.40" font-size="20.50" font-weight="normal" fill="#1e2626" textLength="12.51" lengthAdjust="spacingAndGlyphs" stroke="#1e2626" stroke-width="0.75" >0</text>
<line x1="1044.7" y1="503.3" x2="1053.5" y2="503.3" stroke="#3b4646" stroke-width="2"/>
<text x="1013.15" y="511.20" font-size="20.50" font-weight="normal" fill="#1e2626" textLength="23.54" lengthAdjust="spacingAndGlyphs" stroke="#1e2626" stroke-width="0.75" >50</text>
<line x1="1044.7" y1="391.1" x2="1053.5" y2="391.1" stroke="#3b4646" stroke-width="2"/>
<text x="1001.94" y="399.00" font-size="20.50" font-weight="normal" fill="#1e2626" textLength="34.77" lengthAdjust="spacingAndGlyphs" stroke="#1e2626" stroke-width="0.75" >100</text>
<line x1="1044.7" y1="278.9" x2="1053.5" y2="278.9" stroke="#3b4646" stroke-width="2"/>
<text x="1001.94" y="286.80" font-size="20.50" font-weight="normal" fill="#1e2626" textLength="34.77" lengthAdjust="spacingAndGlyphs" stroke="#1e2626" stroke-width="0.75" >150</text>
<line x1="1044.7" y1="166.7" x2="1053.5" y2="166.7" stroke="#3b4646" stroke-width="2"/>
<text x="1002.47" y="174.60" font-size="20.50" font-weight="normal" fill="#1e2626" textLength="34.22" lengthAdjust="spacingAndGlyphs" stroke="#1e2626" stroke-width="0.75" >200</text>
<line x1="1087.4" y1="615.5" x2="1087.4" y2="620.0" stroke="#3b4646" stroke-width="1.6"/>
<line x1="1121.3" y1="615.5" x2="1121.3" y2="620.0" stroke="#3b4646" stroke-width="1.6"/>
<line x1="1155.2" y1="615.5" x2="1155.2" y2="620.0" stroke="#3b4646" stroke-width="1.6"/>
<line x1="1189.1" y1="615.5" x2="1189.1" y2="620.0" stroke="#3b4646" stroke-width="1.6"/>
<line x1="1256.9" y1="615.5" x2="1256.9" y2="620.0" stroke="#3b4646" stroke-width="1.6"/>
<line x1="1290.8" y1="615.5" x2="1290.8" y2="620.0" stroke="#3b4646" stroke-width="1.6"/>
<line x1="1324.7" y1="615.5" x2="1324.7" y2="620.0" stroke="#3b4646" stroke-width="1.6"/>
<line x1="1358.6" y1="615.5" x2="1358.6" y2="620.0" stroke="#3b4646" stroke-width="1.6"/>
<line x1="1426.3" y1="615.5" x2="1426.3" y2="620.0" stroke="#3b4646" stroke-width="1.6"/>
<line x1="1460.2" y1="615.5" x2="1460.2" y2="620.0" stroke="#3b4646" stroke-width="1.6"/>
<line x1="1494.1" y1="615.5" x2="1494.1" y2="620.0" stroke="#3b4646" stroke-width="1.6"/>
<line x1="1528.0" y1="615.5" x2="1528.0" y2="620.0" stroke="#3b4646" stroke-width="1.6"/>
<line x1="1595.8" y1="615.5" x2="1595.8" y2="620.0" stroke="#3b4646" stroke-width="1.6"/>
<line x1="1629.7" y1="615.5" x2="1629.7" y2="620.0" stroke="#3b4646" stroke-width="1.6"/>
<line x1="1663.6" y1="615.5" x2="1663.6" y2="620.0" stroke="#3b4646" stroke-width="1.6"/>
<line x1="1697.5" y1="615.5" x2="1697.5" y2="620.0" stroke="#3b4646" stroke-width="1.6"/>
<line x1="1053.5" y1="615.5" x2="1053.5" y2="624.0" stroke="#3b4646" stroke-width="2"/>
<text x="1047.20" y="648.10" font-size="20.50" font-weight="normal" fill="#1e2626" textLength="12.51" lengthAdjust="spacingAndGlyphs" stroke="#1e2626" stroke-width="0.75" >0</text>
<line x1="1223.0" y1="615.5" x2="1223.0" y2="624.0" stroke="#3b4646" stroke-width="2"/>
<text x="1205.76" y="648.10" font-size="20.50" font-weight="normal" fill="#1e2626" textLength="34.82" lengthAdjust="spacingAndGlyphs" stroke="#1e2626" stroke-width="0.75" >400</text>
<line x1="1392.5" y1="615.5" x2="1392.5" y2="624.0" stroke="#3b4646" stroke-width="2"/>
<text x="1374.70" y="648.10" font-size="20.50" font-weight="normal" fill="#1e2626" textLength="35.37" lengthAdjust="spacingAndGlyphs" stroke="#1e2626" stroke-width="0.75" >800</text>
<line x1="1561.9" y1="615.5" x2="1561.9" y2="624.0" stroke="#3b4646" stroke-width="2"/>
<text x="1537.83" y="648.10" font-size="20.50" font-weight="normal" fill="#1e2626" textLength="47.33" lengthAdjust="spacingAndGlyphs" stroke="#1e2626" stroke-width="0.75" >1200</text>
<line x1="1731.4" y1="615.5" x2="1731.4" y2="624.0" stroke="#3b4646" stroke-width="2"/>
<text x="1707.30" y="648.10" font-size="20.50" font-weight="normal" fill="#1e2626" textLength="47.33" lengthAdjust="spacingAndGlyphs" stroke="#1e2626" stroke-width="0.75" >1600</text>
<line x1="1053.5" y1="110.6" x2="1053.5" y2="616.5" stroke="#3b4646" stroke-width="2.2"/>
<line x1="1052.5" y1="615.5" x2="1732.6" y2="615.5" stroke="#3b4646" stroke-width="2.2"/>
<text x="1339.46" y="678.30" font-size="21.00" font-weight="normal" fill="#1e2626" textLength="105.79" lengthAdjust="spacingAndGlyphs" stroke="#1e2626" stroke-width="0.8" >Mass [kDa]</text>
<text transform="translate(989.70,397.75) rotate(-90)" x="-1.06" y="0" font-size="22.00" font-weight="normal" fill="#1e2626" textLength="67.17" lengthAdjust="spacingAndGlyphs" stroke="#1e2626" stroke-width="0.8">Counts</text>
<line x1="165.0" y1="1239.5" x2="169.5" y2="1239.5" stroke="#3b4646" stroke-width="1.6"/>
<line x1="165.0" y1="1217.2" x2="169.5" y2="1217.2" stroke="#3b4646" stroke-width="1.6"/>
<line x1="165.0" y1="1194.8" x2="169.5" y2="1194.8" stroke="#3b4646" stroke-width="1.6"/>
<line x1="165.0" y1="1172.5" x2="169.5" y2="1172.5" stroke="#3b4646" stroke-width="1.6"/>
<line x1="165.0" y1="1127.8" x2="169.5" y2="1127.8" stroke="#3b4646" stroke-width="1.6"/>
<line x1="165.0" y1="1105.4" x2="169.5" y2="1105.4" stroke="#3b4646" stroke-width="1.6"/>
<line x1="165.0" y1="1083.1" x2="169.5" y2="1083.1" stroke="#3b4646" stroke-width="1.6"/>
<line x1="165.0" y1="1060.7" x2="169.5" y2="1060.7" stroke="#3b4646" stroke-width="1.6"/>
<line x1="165.0" y1="1016.0" x2="169.5" y2="1016.0" stroke="#3b4646" stroke-width="1.6"/>
<line x1="165.0" y1="993.6" x2="169.5" y2="993.6" stroke="#3b4646" stroke-width="1.6"/>
<line x1="165.0" y1="971.3" x2="169.5" y2="971.3" stroke="#3b4646" stroke-width="1.6"/>
<line x1="165.0" y1="948.9" x2="169.5" y2="948.9" stroke="#3b4646" stroke-width="1.6"/>
<line x1="165.0" y1="904.2" x2="169.5" y2="904.2" stroke="#3b4646" stroke-width="1.6"/>
<line x1="165.0" y1="881.9" x2="169.5" y2="881.9" stroke="#3b4646" stroke-width="1.6"/>
<line x1="165.0" y1="859.5" x2="169.5" y2="859.5" stroke="#3b4646" stroke-width="1.6"/>
<line x1="165.0" y1="837.2" x2="169.5" y2="837.2" stroke="#3b4646" stroke-width="1.6"/>
<line x1="165.0" y1="792.4" x2="169.5" y2="792.4" stroke="#3b4646" stroke-width="1.6"/>
<line x1="165.0" y1="770.1" x2="169.5" y2="770.1" stroke="#3b4646" stroke-width="1.6"/>
<line x1="160.7" y1="1261.9" x2="169.5" y2="1261.9" stroke="#3b4646" stroke-width="2"/>
<text x="140.20" y="1269.80" font-size="20.50" font-weight="normal" fill="#1e2626" textLength="12.51" lengthAdjust="spacingAndGlyphs" stroke="#1e2626" stroke-width="0.75" >0</text>
<line x1="160.7" y1="1150.1" x2="169.5" y2="1150.1" stroke="#3b4646" stroke-width="2"/>
<text x="129.15" y="1158.03" font-size="20.50" font-weight="normal" fill="#1e2626" textLength="23.54" lengthAdjust="spacingAndGlyphs" stroke="#1e2626" stroke-width="0.75" >50</text>
<line x1="160.7" y1="1038.4" x2="169.5" y2="1038.4" stroke="#3b4646" stroke-width="2"/>
<text x="117.94" y="1046.25" font-size="20.50" font-weight="normal" fill="#1e2626" textLength="34.77" lengthAdjust="spacingAndGlyphs" stroke="#1e2626" stroke-width="0.75" >100</text>
<line x1="160.7" y1="926.6" x2="169.5" y2="926.6" stroke="#3b4646" stroke-width="2"/>
<text x="117.94" y="934.48" font-size="20.50" font-weight="normal" fill="#1e2626" textLength="34.77" lengthAdjust="spacingAndGlyphs" stroke="#1e2626" stroke-width="0.75" >150</text>
<line x1="160.7" y1="814.8" x2="169.5" y2="814.8" stroke="#3b4646" stroke-width="2"/>
<text x="118.47" y="822.70" font-size="20.50" font-weight="normal" fill="#1e2626" textLength="34.22" lengthAdjust="spacingAndGlyphs" stroke="#1e2626" stroke-width="0.75" >200</text>
<line x1="203.3" y1="1261.9" x2="203.3" y2="1266.4" stroke="#3b4646" stroke-width="1.6"/>
<line x1="237.2" y1="1261.9" x2="237.2" y2="1266.4" stroke="#3b4646" stroke-width="1.6"/>
<line x1="271.0" y1="1261.9" x2="271.0" y2="1266.4" stroke="#3b4646" stroke-width="1.6"/>
<line x1="304.8" y1="1261.9" x2="304.8" y2="1266.4" stroke="#3b4646" stroke-width="1.6"/>
<line x1="372.5" y1="1261.9" x2="372.5" y2="1266.4" stroke="#3b4646" stroke-width="1.6"/>
<line x1="406.3" y1="1261.9" x2="406.3" y2="1266.4" stroke="#3b4646" stroke-width="1.6"/>
<line x1="440.2" y1="1261.9" x2="440.2" y2="1266.4" stroke="#3b4646" stroke-width="1.6"/>
<line x1="474.0" y1="1261.9" x2="474.0" y2="1266.4" stroke="#3b4646" stroke-width="1.6"/>
<line x1="541.7" y1="1261.9" x2="541.7" y2="1266.4" stroke="#3b4646" stroke-width="1.6"/>
<line x1="575.5" y1="1261.9" x2="575.5" y2="1266.4" stroke="#3b4646" stroke-width="1.6"/>
<line x1="609.4" y1="1261.9" x2="609.4" y2="1266.4" stroke="#3b4646" stroke-width="1.6"/>
<line x1="643.2" y1="1261.9" x2="643.2" y2="1266.4" stroke="#3b4646" stroke-width="1.6"/>
<line x1="710.9" y1="1261.9" x2="710.9" y2="1266.4" stroke="#3b4646" stroke-width="1.6"/>
<line x1="744.7" y1="1261.9" x2="744.7" y2="1266.4" stroke="#3b4646" stroke-width="1.6"/>
<line x1="778.5" y1="1261.9" x2="778.5" y2="1266.4" stroke="#3b4646" stroke-width="1.6"/>
<line x1="812.4" y1="1261.9" x2="812.4" y2="1266.4" stroke="#3b4646" stroke-width="1.6"/>
<line x1="169.5" y1="1261.9" x2="169.5" y2="1270.4" stroke="#3b4646" stroke-width="2"/>
<text x="163.20" y="1294.50" font-size="20.50" font-weight="normal" fill="#1e2626" textLength="12.51" lengthAdjust="spacingAndGlyphs" stroke="#1e2626" stroke-width="0.75" >0</text>
<line x1="338.7" y1="1261.9" x2="338.7" y2="1270.4" stroke="#3b4646" stroke-width="2"/>
<text x="321.46" y="1294.50" font-size="20.50" font-weight="normal" fill="#1e2626" textLength="34.82" lengthAdjust="spacingAndGlyphs" stroke="#1e2626" stroke-width="0.75" >400</text>
<line x1="507.9" y1="1261.9" x2="507.9" y2="1270.4" stroke="#3b4646" stroke-width="2"/>
<text x="490.10" y="1294.50" font-size="20.50" font-weight="normal" fill="#1e2626" textLength="35.37" lengthAdjust="spacingAndGlyphs" stroke="#1e2626" stroke-width="0.75" >800</text>
<line x1="677.0" y1="1261.9" x2="677.0" y2="1270.4" stroke="#3b4646" stroke-width="2"/>
<text x="652.93" y="1294.50" font-size="20.50" font-weight="normal" fill="#1e2626" textLength="47.33" lengthAdjust="spacingAndGlyphs" stroke="#1e2626" stroke-width="0.75" >1200</text>
<line x1="846.2" y1="1261.9" x2="846.2" y2="1270.4" stroke="#3b4646" stroke-width="2"/>
<text x="822.10" y="1294.50" font-size="20.50" font-weight="normal" fill="#1e2626" textLength="47.33" lengthAdjust="spacingAndGlyphs" stroke="#1e2626" stroke-width="0.75" >1600</text>
<line x1="169.5" y1="758.6" x2="169.5" y2="1262.9" stroke="#3b4646" stroke-width="2.2"/>
<line x1="168.5" y1="1261.9" x2="847.4" y2="1261.9" stroke="#3b4646" stroke-width="2.2"/>
<text x="454.86" y="1324.70" font-size="21.00" font-weight="normal" fill="#1e2626" textLength="105.79" lengthAdjust="spacingAndGlyphs" stroke="#1e2626" stroke-width="0.8" >Mass [kDa]</text>
<text transform="translate(105.70,1044.95) rotate(-90)" x="-1.06" y="0" font-size="22.00" font-weight="normal" fill="#1e2626" textLength="67.17" lengthAdjust="spacingAndGlyphs" stroke="#1e2626" stroke-width="0.8">Counts</text>
<line x1="1049.0" y1="1239.0" x2="1053.5" y2="1239.0" stroke="#3b4646" stroke-width="1.6"/>
<line x1="1049.0" y1="1216.7" x2="1053.5" y2="1216.7" stroke="#3b4646" stroke-width="1.6"/>
<line x1="1049.0" y1="1194.3" x2="1053.5" y2="1194.3" stroke="#3b4646" stroke-width="1.6"/>
<line x1="1049.0" y1="1171.9" x2="1053.5" y2="1171.9" stroke="#3b4646" stroke-width="1.6"/>
<line x1="1049.0" y1="1127.2" x2="1053.5" y2="1127.2" stroke="#3b4646" stroke-width="1.6"/>
<line x1="1049.0" y1="1104.8" x2="1053.5" y2="1104.8" stroke="#3b4646" stroke-width="1.6"/>
<line x1="1049.0" y1="1082.4" x2="1053.5" y2="1082.4" stroke="#3b4646" stroke-width="1.6"/>
<line x1="1049.0" y1="1060.0" x2="1053.5" y2="1060.0" stroke="#3b4646" stroke-width="1.6"/>
<line x1="1049.0" y1="1015.3" x2="1053.5" y2="1015.3" stroke="#3b4646" stroke-width="1.6"/>
<line x1="1049.0" y1="992.9" x2="1053.5" y2="992.9" stroke="#3b4646" stroke-width="1.6"/>
<line x1="1049.0" y1="970.5" x2="1053.5" y2="970.5" stroke="#3b4646" stroke-width="1.6"/>
<line x1="1049.0" y1="948.1" x2="1053.5" y2="948.1" stroke="#3b4646" stroke-width="1.6"/>
<line x1="1049.0" y1="903.4" x2="1053.5" y2="903.4" stroke="#3b4646" stroke-width="1.6"/>
<line x1="1049.0" y1="881.0" x2="1053.5" y2="881.0" stroke="#3b4646" stroke-width="1.6"/>
<line x1="1049.0" y1="858.6" x2="1053.5" y2="858.6" stroke="#3b4646" stroke-width="1.6"/>
<line x1="1049.0" y1="836.3" x2="1053.5" y2="836.3" stroke="#3b4646" stroke-width="1.6"/>
<line x1="1049.0" y1="791.5" x2="1053.5" y2="791.5" stroke="#3b4646" stroke-width="1.6"/>
<line x1="1049.0" y1="769.1" x2="1053.5" y2="769.1" stroke="#3b4646" stroke-width="1.6"/>
<line x1="1044.7" y1="1261.4" x2="1053.5" y2="1261.4" stroke="#3b4646" stroke-width="2"/>
<text x="1024.20" y="1269.30" font-size="20.50" font-weight="normal" fill="#1e2626" textLength="12.51" lengthAdjust="spacingAndGlyphs" stroke="#1e2626" stroke-width="0.75" >0</text>
<line x1="1044.7" y1="1149.5" x2="1053.5" y2="1149.5" stroke="#3b4646" stroke-width="2"/>
<text x="1013.15" y="1157.43" font-size="20.50" font-weight="normal" fill="#1e2626" textLength="23.54" lengthAdjust="spacingAndGlyphs" stroke="#1e2626" stroke-width="0.75" >50</text>
<line x1="1044.7" y1="1037.7" x2="1053.5" y2="1037.7" stroke="#3b4646" stroke-width="2"/>
<text x="1001.94" y="1045.55" font-size="20.50" font-weight="normal" fill="#1e2626" textLength="34.77" lengthAdjust="spacingAndGlyphs" stroke="#1e2626" stroke-width="0.75" >100</text>
<line x1="1044.7" y1="925.8" x2="1053.5" y2="925.8" stroke="#3b4646" stroke-width="2"/>
<text x="1001.94" y="933.67" font-size="20.50" font-weight="normal" fill="#1e2626" textLength="34.77" lengthAdjust="spacingAndGlyphs" stroke="#1e2626" stroke-width="0.75" >150</text>
<line x1="1044.7" y1="813.9" x2="1053.5" y2="813.9" stroke="#3b4646" stroke-width="2"/>
<text x="1002.47" y="821.80" font-size="20.50" font-weight="normal" fill="#1e2626" textLength="34.22" lengthAdjust="spacingAndGlyphs" stroke="#1e2626" stroke-width="0.75" >200</text>
<line x1="1087.4" y1="1261.4" x2="1087.4" y2="1265.9" stroke="#3b4646" stroke-width="1.6"/>
<line x1="1121.3" y1="1261.4" x2="1121.3" y2="1265.9" stroke="#3b4646" stroke-width="1.6"/>
<line x1="1155.2" y1="1261.4" x2="1155.2" y2="1265.9" stroke="#3b4646" stroke-width="1.6"/>
<line x1="1189.1" y1="1261.4" x2="1189.1" y2="1265.9" stroke="#3b4646" stroke-width="1.6"/>
<line x1="1256.9" y1="1261.4" x2="1256.9" y2="1265.9" stroke="#3b4646" stroke-width="1.6"/>
<line x1="1290.8" y1="1261.4" x2="1290.8" y2="1265.9" stroke="#3b4646" stroke-width="1.6"/>
<line x1="1324.7" y1="1261.4" x2="1324.7" y2="1265.9" stroke="#3b4646" stroke-width="1.6"/>
<line x1="1358.6" y1="1261.4" x2="1358.6" y2="1265.9" stroke="#3b4646" stroke-width="1.6"/>
<line x1="1426.3" y1="1261.4" x2="1426.3" y2="1265.9" stroke="#3b4646" stroke-width="1.6"/>
<line x1="1460.2" y1="1261.4" x2="1460.2" y2="1265.9" stroke="#3b4646" stroke-width="1.6"/>
<line x1="1494.1" y1="1261.4" x2="1494.1" y2="1265.9" stroke="#3b4646" stroke-width="1.6"/>
<line x1="1528.0" y1="1261.4" x2="1528.0" y2="1265.9" stroke="#3b4646" stroke-width="1.6"/>
<line x1="1595.8" y1="1261.4" x2="1595.8" y2="1265.9" stroke="#3b4646" stroke-width="1.6"/>
<line x1="1629.7" y1="1261.4" x2="1629.7" y2="1265.9" stroke="#3b4646" stroke-width="1.6"/>
<line x1="1663.6" y1="1261.4" x2="1663.6" y2="1265.9" stroke="#3b4646" stroke-width="1.6"/>
<line x1="1697.5" y1="1261.4" x2="1697.5" y2="1265.9" stroke="#3b4646" stroke-width="1.6"/>
<line x1="1053.5" y1="1261.4" x2="1053.5" y2="1269.9" stroke="#3b4646" stroke-width="2"/>
<text x="1047.20" y="1294.00" font-size="20.50" font-weight="normal" fill="#1e2626" textLength="12.51" lengthAdjust="spacingAndGlyphs" stroke="#1e2626" stroke-width="0.75" >0</text>
<line x1="1223.0" y1="1261.4" x2="1223.0" y2="1269.9" stroke="#3b4646" stroke-width="2"/>
<text x="1205.76" y="1294.00" font-size="20.50" font-weight="normal" fill="#1e2626" textLength="34.82" lengthAdjust="spacingAndGlyphs" stroke="#1e2626" stroke-width="0.75" >400</text>
<line x1="1392.5" y1="1261.4" x2="1392.5" y2="1269.9" stroke="#3b4646" stroke-width="2"/>
<text x="1374.70" y="1294.00" font-size="20.50" font-weight="normal" fill="#1e2626" textLength="35.37" lengthAdjust="spacingAndGlyphs" stroke="#1e2626" stroke-width="0.75" >800</text>
<line x1="1561.9" y1="1261.4" x2="1561.9" y2="1269.9" stroke="#3b4646" stroke-width="2"/>
<text x="1537.83" y="1294.00" font-size="20.50" font-weight="normal" fill="#1e2626" textLength="47.33" lengthAdjust="spacingAndGlyphs" stroke="#1e2626" stroke-width="0.75" >1200</text>
<line x1="1731.4" y1="1261.4" x2="1731.4" y2="1269.9" stroke="#3b4646" stroke-width="2"/>
<text x="1707.30" y="1294.00" font-size="20.50" font-weight="normal" fill="#1e2626" textLength="47.33" lengthAdjust="spacingAndGlyphs" stroke="#1e2626" stroke-width="0.75" >1600</text>
<line x1="1053.5" y1="757.9" x2="1053.5" y2="1262.4" stroke="#3b4646" stroke-width="2.2"/>
<line x1="1052.5" y1="1261.4" x2="1732.6" y2="1261.4" stroke="#3b4646" stroke-width="2.2"/>
<text x="1339.46" y="1324.20" font-size="21.00" font-weight="normal" fill="#1e2626" textLength="105.79" lengthAdjust="spacingAndGlyphs" stroke="#1e2626" stroke-width="0.8" >Mass [kDa]</text>
<text transform="translate(989.70,1044.35) rotate(-90)" x="-1.06" y="0" font-size="22.00" font-weight="normal" fill="#1e2626" textLength="67.17" lengthAdjust="spacingAndGlyphs" stroke="#1e2626" stroke-width="0.8">Counts</text>
<rect x="485.0" y="133.0" width="370.2" height="134.4" rx="3" fill="#fff" stroke="#d3d8d8" stroke-width="2"/>
<rect x="492.4" y="141.0" width="35.7" height="12.1" fill="#e9c0a6" stroke="#d9895c" stroke-width="2.4"/>
<text x="536.86" y="157.70" font-size="19.60" font-weight="bold" fill="#111" textLength="78.20" lengthAdjust="spacingAndGlyphs" >0 uM L4</text>
<rect x="492.4" y="166.2" width="35.7" height="12.1" fill="#c3cccc" stroke="#8d9a9a" stroke-width="2.4"/>
<text x="536.87" y="185.70" font-size="19.60" font-weight="bold" fill="#111" textLength="94.97" lengthAdjust="spacingAndGlyphs" >0.6 uM L4</text>
<rect x="492.4" y="191.9" width="35.7" height="12.2" fill="#f4bcf2" stroke="#eb96ea" stroke-width="2.4"/>
<text x="536.97" y="209.70" font-size="19.60" font-weight="bold" fill="#111" textLength="94.87" lengthAdjust="spacingAndGlyphs" >2.5 uM L4</text>
<rect x="492.4" y="217.7" width="35.7" height="12.7" fill="#e6f160" stroke="#d4e54a" stroke-width="2.4"/>
<text x="536.86" y="233.30" font-size="19.60" font-weight="bold" fill="#111" textLength="215.57" lengthAdjust="spacingAndGlyphs" >0 uM L4, 0 uM protein</text>
<rect x="492.4" y="243.4" width="35.7" height="12.7" fill="#a6ecfa" stroke="#74d6f2" stroke-width="2.4"/>
<text x="536.44" y="261.30" font-size="19.60" font-weight="bold" fill="#111" textLength="243.38" lengthAdjust="spacingAndGlyphs" >1.25 uM L4, 0 uM protein</text>
<rect x="1361.2" y="148.7" width="367.5" height="82.6" rx="3" fill="#fff" stroke="#d3d8d8" stroke-width="2"/>
<rect x="1369.6" y="156.3" width="36.6" height="12.7" fill="#78c8f0" stroke="#2f7fcf" stroke-width="2.4"/>
<text x="1412.97" y="171.90" font-size="19.60" font-weight="bold" fill="#111" textLength="77.70" lengthAdjust="spacingAndGlyphs" >0 uM L4</text>
<rect x="1369.6" y="182.1" width="36.6" height="12.7" fill="#e2aef2" stroke="#bd6fd6" stroke-width="2.4"/>
<text x="1412.97" y="197.70" font-size="19.60" font-weight="bold" fill="#111" textLength="95.07" lengthAdjust="spacingAndGlyphs" >0.6 uM L4</text>
<rect x="1369.6" y="208.2" width="36.6" height="12.1" fill="#6fe092" stroke="#3cc060" stroke-width="2.4"/>
<text x="1413.07" y="223.40" font-size="19.60" font-weight="bold" fill="#111" textLength="94.97" lengthAdjust="spacingAndGlyphs" >2.5 uM L4</text>
<rect x="464.7" y="805.0" width="363.0" height="83.5" rx="3" fill="#fff" stroke="#d3d8d8" stroke-width="2"/>
<rect x="473.0" y="814.1" width="35.6" height="12.1" fill="#7ccbf2" stroke="#3a8ad8" stroke-width="2.4"/>
<text x="515.17" y="827.80" font-size="19.60" font-weight="bold" fill="#111" textLength="77.70" lengthAdjust="spacingAndGlyphs" >0 uM L4</text>
<rect x="473.0" y="839.8" width="35.6" height="12.2" fill="#66e088" stroke="#35c45a" stroke-width="2.4"/>
<text x="515.17" y="855.40" font-size="19.60" font-weight="bold" fill="#111" textLength="94.97" lengthAdjust="spacingAndGlyphs" >0.6 uM L4</text>
<rect x="473.0" y="865.6" width="35.6" height="12.2" fill="#f2c47e" stroke="#e6973a" stroke-width="2.4"/>
<text x="515.27" y="879.50" font-size="19.60" font-weight="bold" fill="#111" textLength="94.87" lengthAdjust="spacingAndGlyphs" >2.5 uM L4</text>
<rect x="1287.6" y="768.7" width="393.0" height="82.6" rx="3" fill="#fff" stroke="#d3d8d8" stroke-width="2"/>
<rect x="1295.5" y="777.8" width="35.9" height="11.0" fill="#6fe092" stroke="#3cc060" stroke-width="2.4"/>
<text x="1339.66" y="791.90" font-size="19.60" font-weight="bold" fill="#111" textLength="78.20" lengthAdjust="spacingAndGlyphs" >0 uM L4</text>
<rect x="1295.5" y="802.1" width="35.9" height="12.1" fill="#f2c47e" stroke="#e6973a" stroke-width="2.4"/>
<text x="1339.66" y="817.70" font-size="19.60" font-weight="bold" fill="#111" textLength="95.58" lengthAdjust="spacingAndGlyphs" >0.6 uM L4</text>
<rect x="1295.5" y="828.4" width="35.9" height="12.1" fill="#7ccbf2" stroke="#3a8ad8" stroke-width="2.4"/>
<text x="1339.77" y="843.80" font-size="19.60" font-weight="bold" fill="#111" textLength="95.47" lengthAdjust="spacingAndGlyphs" >2.5 uM L4</text>
<line x1="172" y1="615.2" x2="848" y2="615.2" stroke="#79705e" stroke-width="2.2"/>
<line x1="232" y1="1261.2" x2="823" y2="1261.2" stroke="#d8a060" stroke-width="1.3"/>
<circle cx="815.4" cy="1260.2" r="1.6" fill="#e0903a"/>
<line x1="1095" y1="1261" x2="1150" y2="1261" stroke="#9a7a50" stroke-width="1.6"/>
<rect x="541" y="265" width="309" height="4.5" fill="#fff"/>
<line x1="545" y1="142.6" x2="830" y2="142.6" stroke="#444" stroke-width="1.6" stroke-dasharray="4 2.5 6 3 5 9 7 3 4 12 6 2 5 3 3 10 7 4 5 14 6 3 4 5" opacity="0.75"/>
<text x="312.71" y="177.40" font-size="14.60" font-weight="normal" fill="#5e4c2e" textLength="24.19" lengthAdjust="spacingAndGlyphs" stroke="#5e4c2e" stroke-width="0.8" >151</text>
<text x="311.63" y="191.60" font-size="14.60" font-weight="normal" fill="#5e4c2e" textLength="28.65" lengthAdjust="spacingAndGlyphs" stroke="#5e4c2e" stroke-width="0.8" >σ 59</text>
<text x="260.31" y="208.80" font-size="14.60" font-weight="normal" fill="#5e4c2e" textLength="130.65" lengthAdjust="spacingAndGlyphs" stroke="#5e4c2e" stroke-width="0.8" >4054 counts (100%)</text>
<text x="271.16" y="224.40" font-size="14.60" font-weight="normal" fill="#5e4c2e" textLength="107.47" lengthAdjust="spacingAndGlyphs" stroke="#5e4c2e" stroke-width="0.8" >Skewness: 0.554</text>
<text x="337.42" y="256.90" font-size="14.60" font-weight="normal" fill="#3a474b" textLength="24.11" lengthAdjust="spacingAndGlyphs" stroke="#3a474b" stroke-width="0.8" >153</text>
<text x="335.14" y="272.60" font-size="14.60" font-weight="normal" fill="#3a474b" textLength="27.87" lengthAdjust="spacingAndGlyphs" stroke="#3a474b" stroke-width="0.8" >σ 60</text>
<text x="283.91" y="288.80" font-size="14.60" font-weight="normal" fill="#3a474b" textLength="131.05" lengthAdjust="spacingAndGlyphs" stroke="#3a474b" stroke-width="0.8" >4395 counts (100%)</text>
<text x="294.76" y="304.50" font-size="14.60" font-weight="normal" fill="#3a474b" textLength="108.73" lengthAdjust="spacingAndGlyphs" stroke="#3a474b" stroke-width="0.8" >Skewness: 0.578</text>
<text x="362.44" y="344.00" font-size="14.60" font-weight="normal" fill="#694594" textLength="23.68" lengthAdjust="spacingAndGlyphs" stroke="#694594" stroke-width="0.8" >176</text>
<text x="360.44" y="359.80" font-size="14.60" font-weight="normal" fill="#694594" textLength="28.08" lengthAdjust="spacingAndGlyphs" stroke="#694594" stroke-width="0.8" >σ 60</text>
<text x="310.12" y="375.90" font-size="14.60" font-weight="normal" fill="#694594" textLength="129.12" lengthAdjust="spacingAndGlyphs" stroke="#694594" stroke-width="0.8" >3430 counts (100%)</text>
<text x="318.96" y="392.30" font-size="14.60" font-weight="normal" fill="#694594" textLength="108.80" lengthAdjust="spacingAndGlyphs" stroke="#694594" stroke-width="0.8" >Skewness: 0.501</text>
<text x="1183.06" y="171.60" font-size="14.60" font-weight="normal" fill="#234e7e" textLength="15.78" lengthAdjust="spacingAndGlyphs" stroke="#234e7e" stroke-width="0.8" >92</text>
<text x="1175.91" y="187.00" font-size="14.60" font-weight="normal" fill="#234e7e" textLength="29.61" lengthAdjust="spacingAndGlyphs" stroke="#234e7e" stroke-width="0.8" >σ 25</text>
<text x="1124.67" y="203.20" font-size="14.60" font-weight="normal" fill="#234e7e" textLength="130.99" lengthAdjust="spacingAndGlyphs" stroke="#234e7e" stroke-width="0.8" >2315 counts (100%)</text>
<text x="1135.86" y="219.60" font-size="14.60" font-weight="normal" fill="#234e7e" textLength="109.03" lengthAdjust="spacingAndGlyphs" stroke="#234e7e" stroke-width="0.8" >Skewness: 0.395</text>
<text x="1213.02" y="265.20" font-size="14.60" font-weight="normal" fill="#573c7e" textLength="23.97" lengthAdjust="spacingAndGlyphs" stroke="#573c7e" stroke-width="0.8" >131</text>
<text x="1211.66" y="280.60" font-size="14.60" font-weight="normal" fill="#573c7e" textLength="27.01" lengthAdjust="spacingAndGlyphs" stroke="#573c7e" stroke-width="0.8" >σ 33</text>
<text x="1159.78" y="297.20" font-size="14.60" font-weight="normal" fill="#573c7e" textLength="129.77" lengthAdjust="spacingAndGlyphs" stroke="#573c7e" stroke-width="0.8" >2874 counts (100%)</text>
<text x="1170.96" y="313.20" font-size="14.60" font-weight="normal" fill="#573c7e" textLength="107.64" lengthAdjust="spacingAndGlyphs" stroke="#573c7e" stroke-width="0.8" >Skewness: 0.370</text>
<text x="1236.54" y="375.60" font-size="14.60" font-weight="normal" fill="#2c6e3e" textLength="23.68" lengthAdjust="spacingAndGlyphs" stroke="#2c6e3e" stroke-width="0.8" >156</text>
<text x="1233.93" y="390.80" font-size="14.60" font-weight="normal" fill="#2c6e3e" textLength="28.54" lengthAdjust="spacingAndGlyphs" stroke="#2c6e3e" stroke-width="0.8" >σ 39</text>
<text x="1183.58" y="407.00" font-size="14.60" font-weight="normal" fill="#2c6e3e" textLength="128.86" lengthAdjust="spacingAndGlyphs" stroke="#2c6e3e" stroke-width="0.8" >2897 counts (100%)</text>
<text x="1194.46" y="423.10" font-size="14.60" font-weight="normal" fill="#2c6e3e" textLength="107.82" lengthAdjust="spacingAndGlyphs" stroke="#2c6e3e" stroke-width="0.8" >Skewness: 0.365</text>
<text x="267.31" y="888.60" font-size="14.60" font-weight="normal" fill="#234e7e" textLength="15.38" lengthAdjust="spacingAndGlyphs" stroke="#234e7e" stroke-width="0.8" >75</text>
<text x="253.22" y="905.30" font-size="14.60" font-weight="normal" fill="#234e7e" textLength="41.15" lengthAdjust="spacingAndGlyphs" stroke="#234e7e" stroke-width="0.8" >σ 18.1</text>
<text x="218.88" y="920.90" font-size="14.60" font-weight="normal" fill="#234e7e" textLength="112.42" lengthAdjust="spacingAndGlyphs" stroke="#234e7e" stroke-width="0.8" >766 counts (96%)</text>
<text x="219.96" y="937.00" font-size="14.60" font-weight="normal" fill="#234e7e" textLength="108.52" lengthAdjust="spacingAndGlyphs" stroke="#234e7e" stroke-width="0.8" >Skewness: 0.485</text>
<text x="286.44" y="990.40" font-size="14.60" font-weight="normal" fill="#2c6e3e" textLength="16.31" lengthAdjust="spacingAndGlyphs" stroke="#2c6e3e" stroke-width="0.8" >80</text>
<text x="280.02" y="1007.10" font-size="14.60" font-weight="normal" fill="#2c6e3e" textLength="28.88" lengthAdjust="spacingAndGlyphs" stroke="#2c6e3e" stroke-width="0.8" >σ 23</text>
<text x="229.47" y="1023.20" font-size="14.60" font-weight="normal" fill="#2c6e3e" textLength="130.18" lengthAdjust="spacingAndGlyphs" stroke="#2c6e3e" stroke-width="0.8" >2021 counts (100%)</text>
<text x="239.56" y="1039.30" font-size="14.60" font-weight="normal" fill="#2c6e3e" textLength="108.55" lengthAdjust="spacingAndGlyphs" stroke="#2c6e3e" stroke-width="0.8" >Skewness: 0.360</text>
<text x="299.25" y="1087.80" font-size="14.60" font-weight="normal" fill="#66522a" textLength="16.06" lengthAdjust="spacingAndGlyphs" stroke="#66522a" stroke-width="0.8" >93</text>
<text x="293.02" y="1103.10" font-size="14.60" font-weight="normal" fill="#66522a" textLength="28.99" lengthAdjust="spacingAndGlyphs" stroke="#66522a" stroke-width="0.8" >σ 23</text>
<text x="242.81" y="1120.10" font-size="14.60" font-weight="normal" fill="#66522a" textLength="130.14" lengthAdjust="spacingAndGlyphs" stroke="#66522a" stroke-width="0.8" >1674 counts (100%)</text>
<text x="253.56" y="1136.20" font-size="14.60" font-weight="normal" fill="#66522a" textLength="108.36" lengthAdjust="spacingAndGlyphs" stroke="#66522a" stroke-width="0.8" >Skewness: 0.432</text>
<text x="1142.78" y="1086.20" font-size="14.60" font-weight="normal" fill="#66522a" textLength="16.08" lengthAdjust="spacingAndGlyphs" stroke="#66522a" stroke-width="0.8" >62</text>
<text x="1129.30" y="1101.30" font-size="14.60" font-weight="normal" fill="#66522a" textLength="41.17" lengthAdjust="spacingAndGlyphs" stroke="#66522a" stroke-width="0.8" >σ 11.7</text>
<text x="1093.81" y="1117.40" font-size="14.60" font-weight="normal" fill="#66522a" textLength="113.10" lengthAdjust="spacingAndGlyphs" stroke="#66522a" stroke-width="0.8" >484 counts (99%)</text>
<text x="1095.46" y="1133.50" font-size="14.60" font-weight="normal" fill="#66522a" textLength="109.13" lengthAdjust="spacingAndGlyphs" stroke="#66522a" stroke-width="0.8" >Skewness: 0.485</text>
<text x="1162.51" y="1179.40" font-size="14.60" font-weight="normal" fill="#234e7e" textLength="16.34" lengthAdjust="spacingAndGlyphs" stroke="#234e7e" stroke-width="0.8" >50</text>
<text x="1155.55" y="1195.50" font-size="14.60" font-weight="normal" fill="#234e7e" textLength="31.16" lengthAdjust="spacingAndGlyphs" stroke="#234e7e" stroke-width="0.8" >σ 8.4</text>
<text x="1114.71" y="1211.10" font-size="14.60" font-weight="normal" fill="#234e7e" textLength="114.42" lengthAdjust="spacingAndGlyphs" stroke="#234e7e" stroke-width="0.8" >154 counts (95%)</text>
<text x="1116.65" y="1227.30" font-size="14.60" font-weight="normal" fill="#234e7e" textLength="109.46" lengthAdjust="spacingAndGlyphs" stroke="#234e7e" stroke-width="0.8" >Skewness: 0.000</text>
<rect x="116.8" y="1410.5" width="627.4000000000001" height="387.70000000000005" fill="#fff"/>
<line x1="116.8" y1="1733.6" x2="744.2" y2="1733.6" stroke="#ebeded" stroke-width="1.3"/>
<line x1="116.8" y1="1638.5" x2="744.2" y2="1638.5" stroke="#ebeded" stroke-width="1.3"/>
<line x1="116.8" y1="1543.5" x2="744.2" y2="1543.5" stroke="#ebeded" stroke-width="1.3"/>
<line x1="116.8" y1="1448.4" x2="744.2" y2="1448.4" stroke="#ebeded" stroke-width="1.3"/>
<line x1="241.6" y1="1410.5" x2="241.6" y2="1798.2" stroke="#ebeded" stroke-width="1.4"/>
<line x1="376.1" y1="1410.5" x2="376.1" y2="1798.2" stroke="#ebeded" stroke-width="1.4"/>
<line x1="510.6" y1="1410.5" x2="510.6" y2="1798.2" stroke="#ebeded" stroke-width="1.4"/>
<line x1="645.0" y1="1410.5" x2="645.0" y2="1798.2" stroke="#ebeded" stroke-width="1.4"/>
<line x1="116.8" y1="1781.1" x2="744.2" y2="1781.1" stroke="#dfe2e2" stroke-width="2.3"/>
<line x1="116.8" y1="1686.0" x2="744.2" y2="1686.0" stroke="#dfe2e2" stroke-width="2.3"/>
<line x1="116.8" y1="1591.0" x2="744.2" y2="1591.0" stroke="#dfe2e2" stroke-width="2.3"/>
<line x1="116.8" y1="1495.9" x2="744.2" y2="1495.9" stroke="#dfe2e2" stroke-width="2.3"/>
<line x1="118.8" y1="1781.1" x2="742.2" y2="1781.1" stroke="#e6ea46" stroke-width="4" stroke-dasharray="12.5 9.3" stroke-dashoffset="-3"/>
<line x1="147.4" y1="1479.0" x2="147.4" y2="1490.0" stroke="#ecf01a" stroke-width="2"/>
<circle cx="147.4" cy="1479.0" r="4.3" fill="none" stroke="#ecf01a" stroke-width="1.8"/>
<circle cx="147.4" cy="1490.0" r="4.3" fill="none" stroke="#ecf01a" stroke-width="1.8"/>
<circle cx="147.4" cy="1484.0" r="4.3" fill="none" stroke="#ecf01a" stroke-width="1.8"/>
<line x1="228.1" y1="1470.0" x2="228.1" y2="1481.0" stroke="#ecf01a" stroke-width="2"/>
<circle cx="228.1" cy="1470.0" r="4.3" fill="none" stroke="#ecf01a" stroke-width="1.8"/>
<circle cx="228.1" cy="1481.0" r="4.3" fill="none" stroke="#ecf01a" stroke-width="1.8"/>
<circle cx="228.1" cy="1475.5" r="4.3" fill="none" stroke="#ecf01a" stroke-width="1.8"/>
<line x1="308.8" y1="1463.0" x2="308.8" y2="1476.0" stroke="#ecf01a" stroke-width="2"/>
<circle cx="308.8" cy="1463.0" r="4.3" fill="none" stroke="#ecf01a" stroke-width="1.8"/>
<circle cx="308.8" cy="1476.0" r="4.3" fill="none" stroke="#ecf01a" stroke-width="1.8"/>
<circle cx="308.8" cy="1469.1" r="4.3" fill="none" stroke="#ecf01a" stroke-width="1.8"/>
<line x1="389.5" y1="1484.0" x2="389.5" y2="1497.0" stroke="#ecf01a" stroke-width="2"/>
<circle cx="389.5" cy="1484.0" r="4.3" fill="none" stroke="#ecf01a" stroke-width="1.8"/>
<circle cx="389.5" cy="1497.0" r="4.3" fill="none" stroke="#ecf01a" stroke-width="1.8"/>
<circle cx="389.5" cy="1490.4" r="4.3" fill="none" stroke="#ecf01a" stroke-width="1.8"/>
<line x1="470.2" y1="1732.2" x2="470.2" y2="1732.2" stroke="#ecf01a" stroke-width="2"/>
<circle cx="470.2" cy="1732.2" r="4.3" fill="none" stroke="#ecf01a" stroke-width="1.8"/>
<circle cx="470.2" cy="1732.2" r="4.3" fill="none" stroke="#ecf01a" stroke-width="1.8"/>
<circle cx="470.2" cy="1733.3" r="4.3" fill="none" stroke="#ecf01a" stroke-width="1.8"/>
<line x1="550.9" y1="1753.0" x2="550.9" y2="1759.0" stroke="#ecf01a" stroke-width="2"/>
<circle cx="550.9" cy="1753.0" r="4.3" fill="none" stroke="#ecf01a" stroke-width="1.8"/>
<circle cx="550.9" cy="1759.0" r="4.3" fill="none" stroke="#ecf01a" stroke-width="1.8"/>
<circle cx="550.9" cy="1756.0" r="4.3" fill="none" stroke="#ecf01a" stroke-width="1.8"/>
<line x1="631.6" y1="1758.0" x2="631.6" y2="1763.0" stroke="#ecf01a" stroke-width="2"/>
<circle cx="631.6" cy="1758.0" r="4.3" fill="none" stroke="#ecf01a" stroke-width="1.8"/>
<circle cx="631.6" cy="1763.0" r="4.3" fill="none" stroke="#ecf01a" stroke-width="1.8"/>
<circle cx="631.6" cy="1760.5" r="4.3" fill="none" stroke="#ecf01a" stroke-width="1.8"/>
<line x1="712.3" y1="1760.0" x2="712.3" y2="1765.0" stroke="#ecf01a" stroke-width="2"/>
<circle cx="712.3" cy="1760.0" r="4.3" fill="none" stroke="#ecf01a" stroke-width="1.8"/>
<circle cx="712.3" cy="1765.0" r="4.3" fill="none" stroke="#ecf01a" stroke-width="1.8"/>
<circle cx="712.3" cy="1762.5" r="4.3" fill="none" stroke="#ecf01a" stroke-width="1.8"/>
<line x1="147.4" y1="1490.0" x2="147.4" y2="1512.8" stroke="#2aae7a" stroke-width="2"/>
<circle cx="147.4" cy="1490.0" r="4.3" fill="none" stroke="#2aae7a" stroke-width="1.8"/>
<circle cx="147.4" cy="1512.8" r="4.3" fill="none" stroke="#2aae7a" stroke-width="1.8"/>
<circle cx="147.4" cy="1498.9" r="4.3" fill="none" stroke="#2aae7a" stroke-width="1.8"/>
<line x1="228.1" y1="1476.0" x2="228.1" y2="1497.9" stroke="#2aae7a" stroke-width="2"/>
<circle cx="228.1" cy="1476.0" r="4.3" fill="none" stroke="#2aae7a" stroke-width="1.8"/>
<circle cx="228.1" cy="1497.9" r="4.3" fill="none" stroke="#2aae7a" stroke-width="1.8"/>
<circle cx="228.1" cy="1484.0" r="4.3" fill="none" stroke="#2aae7a" stroke-width="1.8"/>
<line x1="308.8" y1="1472.0" x2="308.8" y2="1495.7" stroke="#2aae7a" stroke-width="2"/>
<circle cx="308.8" cy="1472.0" r="4.3" fill="none" stroke="#2aae7a" stroke-width="1.8"/>
<circle cx="308.8" cy="1495.7" r="4.3" fill="none" stroke="#2aae7a" stroke-width="1.8"/>
<circle cx="308.8" cy="1479.8" r="4.3" fill="none" stroke="#2aae7a" stroke-width="1.8"/>
<line x1="389.5" y1="1488.0" x2="389.5" y2="1514.2" stroke="#2aae7a" stroke-width="2"/>
<circle cx="389.5" cy="1488.0" r="4.3" fill="none" stroke="#2aae7a" stroke-width="1.8"/>
<circle cx="389.5" cy="1514.2" r="4.3" fill="none" stroke="#2aae7a" stroke-width="1.8"/>
<circle cx="389.5" cy="1495.7" r="4.3" fill="none" stroke="#2aae7a" stroke-width="1.8"/>
<line x1="470.2" y1="1718.0" x2="470.2" y2="1724.0" stroke="#2aae7a" stroke-width="2"/>
<circle cx="470.2" cy="1718.0" r="4.3" fill="none" stroke="#2aae7a" stroke-width="1.8"/>
<circle cx="470.2" cy="1724.0" r="4.3" fill="none" stroke="#2aae7a" stroke-width="1.8"/>
<circle cx="470.2" cy="1721.0" r="4.3" fill="none" stroke="#2aae7a" stroke-width="1.8"/>
<line x1="550.9" y1="1757.0" x2="550.9" y2="1763.0" stroke="#2aae7a" stroke-width="2"/>
<circle cx="550.9" cy="1757.0" r="4.3" fill="none" stroke="#2aae7a" stroke-width="1.8"/>
<circle cx="550.9" cy="1763.0" r="4.3" fill="none" stroke="#2aae7a" stroke-width="1.8"/>
<circle cx="550.9" cy="1760.1" r="4.3" fill="none" stroke="#2aae7a" stroke-width="1.8"/>
<line x1="631.6" y1="1758.0" x2="631.6" y2="1763.0" stroke="#2aae7a" stroke-width="2"/>
<circle cx="631.6" cy="1758.0" r="4.3" fill="none" stroke="#2aae7a" stroke-width="1.8"/>
<circle cx="631.6" cy="1763.0" r="4.3" fill="none" stroke="#2aae7a" stroke-width="1.8"/>
<circle cx="631.6" cy="1760.5" r="4.3" fill="none" stroke="#2aae7a" stroke-width="1.8"/>
<line x1="712.3" y1="1760.0" x2="712.3" y2="1764.0" stroke="#2aae7a" stroke-width="2"/>
<circle cx="712.3" cy="1760.0" r="4.3" fill="none" stroke="#2aae7a" stroke-width="1.8"/>
<circle cx="712.3" cy="1764.0" r="4.3" fill="none" stroke="#2aae7a" stroke-width="1.8"/>
<circle cx="712.3" cy="1762.0" r="4.3" fill="none" stroke="#2aae7a" stroke-width="1.8"/>
<line x1="147.4" y1="1438.3" x2="147.4" y2="1468.0" stroke="#3a5fcd" stroke-width="2"/>
<circle cx="147.4" cy="1438.3" r="4.3" fill="none" stroke="#3a5fcd" stroke-width="1.8"/>
<circle cx="147.4" cy="1468.0" r="4.3" fill="none" stroke="#3a5fcd" stroke-width="1.8"/>
<circle cx="147.4" cy="1460.6" r="4.3" fill="none" stroke="#3a5fcd" stroke-width="1.8"/>
<line x1="228.1" y1="1433.0" x2="228.1" y2="1458.0" stroke="#3a5fcd" stroke-width="2"/>
<circle cx="228.1" cy="1433.0" r="4.3" fill="none" stroke="#3a5fcd" stroke-width="1.8"/>
<circle cx="228.1" cy="1458.0" r="4.3" fill="none" stroke="#3a5fcd" stroke-width="1.8"/>
<circle cx="228.1" cy="1451.0" r="4.3" fill="none" stroke="#3a5fcd" stroke-width="1.8"/>
<line x1="308.8" y1="1427.2" x2="308.8" y2="1450.0" stroke="#3a5fcd" stroke-width="2"/>
<circle cx="308.8" cy="1427.2" r="4.3" fill="none" stroke="#3a5fcd" stroke-width="1.8"/>
<circle cx="308.8" cy="1450.0" r="4.3" fill="none" stroke="#3a5fcd" stroke-width="1.8"/>
<circle cx="308.8" cy="1442.6" r="4.3" fill="none" stroke="#3a5fcd" stroke-width="1.8"/>
<line x1="389.5" y1="1456.0" x2="389.5" y2="1470.0" stroke="#3a5fcd" stroke-width="2"/>
<circle cx="389.5" cy="1456.0" r="4.3" fill="none" stroke="#3a5fcd" stroke-width="1.8"/>
<circle cx="389.5" cy="1470.0" r="4.3" fill="none" stroke="#3a5fcd" stroke-width="1.8"/>
<circle cx="389.5" cy="1462.8" r="4.3" fill="none" stroke="#3a5fcd" stroke-width="1.8"/>
<line x1="470.2" y1="1679.5" x2="470.2" y2="1679.5" stroke="#3a5fcd" stroke-width="2"/>
<circle cx="470.2" cy="1679.5" r="4.3" fill="none" stroke="#3a5fcd" stroke-width="1.8"/>
<circle cx="470.2" cy="1679.5" r="4.3" fill="none" stroke="#3a5fcd" stroke-width="1.8"/>
<circle cx="470.2" cy="1679.5" r="4.3" fill="none" stroke="#3a5fcd" stroke-width="1.8"/>
<line x1="550.9" y1="1750.0" x2="550.9" y2="1756.0" stroke="#3a5fcd" stroke-width="2"/>
<circle cx="550.9" cy="1750.0" r="4.3" fill="none" stroke="#3a5fcd" stroke-width="1.8"/>
<circle cx="550.9" cy="1756.0" r="4.3" fill="none" stroke="#3a5fcd" stroke-width="1.8"/>
<circle cx="550.9" cy="1753.5" r="4.3" fill="none" stroke="#3a5fcd" stroke-width="1.8"/>
<line x1="631.6" y1="1756.0" x2="631.6" y2="1761.0" stroke="#3a5fcd" stroke-width="2"/>
<circle cx="631.6" cy="1756.0" r="4.3" fill="none" stroke="#3a5fcd" stroke-width="1.8"/>
<circle cx="631.6" cy="1761.0" r="4.3" fill="none" stroke="#3a5fcd" stroke-width="1.8"/>
<circle cx="631.6" cy="1758.5" r="4.3" fill="none" stroke="#3a5fcd" stroke-width="1.8"/>
<line x1="712.3" y1="1758.0" x2="712.3" y2="1763.0" stroke="#3a5fcd" stroke-width="2"/>
<circle cx="712.3" cy="1758.0" r="4.3" fill="none" stroke="#3a5fcd" stroke-width="1.8"/>
<circle cx="712.3" cy="1763.0" r="4.3" fill="none" stroke="#3a5fcd" stroke-width="1.8"/>
<circle cx="712.3" cy="1760.5" r="4.3" fill="none" stroke="#3a5fcd" stroke-width="1.8"/>
<line x1="147.4" y1="1468.0" x2="147.4" y2="1484.0" stroke="#2e0f68" stroke-width="2"/>
<circle cx="147.4" cy="1468.0" r="4.3" fill="none" stroke="#2e0f68" stroke-width="1.8"/>
<circle cx="147.4" cy="1484.0" r="4.3" fill="none" stroke="#2e0f68" stroke-width="1.8"/>
<circle cx="147.4" cy="1475.5" r="4.3" fill="none" stroke="#2e0f68" stroke-width="1.8"/>
<line x1="228.1" y1="1459.0" x2="228.1" y2="1474.0" stroke="#2e0f68" stroke-width="2"/>
<circle cx="228.1" cy="1459.0" r="4.3" fill="none" stroke="#2e0f68" stroke-width="1.8"/>
<circle cx="228.1" cy="1474.0" r="4.3" fill="none" stroke="#2e0f68" stroke-width="1.8"/>
<circle cx="228.1" cy="1467.0" r="4.3" fill="none" stroke="#2e0f68" stroke-width="1.8"/>
<line x1="308.8" y1="1446.0" x2="308.8" y2="1462.0" stroke="#2e0f68" stroke-width="2"/>
<circle cx="308.8" cy="1446.0" r="4.3" fill="none" stroke="#2e0f68" stroke-width="1.8"/>
<circle cx="308.8" cy="1462.0" r="4.3" fill="none" stroke="#2e0f68" stroke-width="1.8"/>
<circle cx="308.8" cy="1454.3" r="4.3" fill="none" stroke="#2e0f68" stroke-width="1.8"/>
<line x1="389.5" y1="1452.7" x2="389.5" y2="1470.0" stroke="#2e0f68" stroke-width="2"/>
<circle cx="389.5" cy="1452.7" r="4.3" fill="none" stroke="#2e0f68" stroke-width="1.8"/>
<circle cx="389.5" cy="1470.0" r="4.3" fill="none" stroke="#2e0f68" stroke-width="1.8"/>
<circle cx="389.5" cy="1463.0" r="4.3" fill="none" stroke="#2e0f68" stroke-width="1.8"/>
<line x1="470.2" y1="1629.5" x2="470.2" y2="1641.0" stroke="#2e0f68" stroke-width="2"/>
<circle cx="470.2" cy="1629.5" r="4.3" fill="none" stroke="#2e0f68" stroke-width="1.8"/>
<circle cx="470.2" cy="1641.0" r="4.3" fill="none" stroke="#2e0f68" stroke-width="1.8"/>
<circle cx="470.2" cy="1641.4" r="4.3" fill="none" stroke="#2e0f68" stroke-width="1.8"/>
<line x1="550.9" y1="1749.0" x2="550.9" y2="1756.0" stroke="#2e0f68" stroke-width="2"/>
<circle cx="550.9" cy="1749.0" r="4.3" fill="none" stroke="#2e0f68" stroke-width="1.8"/>
<circle cx="550.9" cy="1756.0" r="4.3" fill="none" stroke="#2e0f68" stroke-width="1.8"/>
<circle cx="550.9" cy="1752.3" r="4.3" fill="none" stroke="#2e0f68" stroke-width="1.8"/>
<line x1="631.6" y1="1754.0" x2="631.6" y2="1759.0" stroke="#2e0f68" stroke-width="2"/>
<circle cx="631.6" cy="1754.0" r="4.3" fill="none" stroke="#2e0f68" stroke-width="1.8"/>
<circle cx="631.6" cy="1759.0" r="4.3" fill="none" stroke="#2e0f68" stroke-width="1.8"/>
<circle cx="631.6" cy="1756.8" r="4.3" fill="none" stroke="#2e0f68" stroke-width="1.8"/>
<line x1="712.3" y1="1757.0" x2="712.3" y2="1763.0" stroke="#2e0f68" stroke-width="2"/>
<circle cx="712.3" cy="1757.0" r="4.3" fill="none" stroke="#2e0f68" stroke-width="1.8"/>
<circle cx="712.3" cy="1763.0" r="4.3" fill="none" stroke="#2e0f68" stroke-width="1.8"/>
<circle cx="712.3" cy="1760.1" r="4.3" fill="none" stroke="#2e0f68" stroke-width="1.8"/>
<circle cx="147.4" cy="1498.9" r="8" fill="#2aae7a" fill-opacity="0.9"/>
<circle cx="228.1" cy="1484.0" r="8" fill="#2aae7a" fill-opacity="0.9"/>
<circle cx="308.8" cy="1479.8" r="8" fill="#2aae7a" fill-opacity="0.9"/>
<circle cx="389.5" cy="1495.7" r="8" fill="#2aae7a" fill-opacity="0.9"/>
<circle cx="470.2" cy="1721.0" r="8" fill="#2aae7a" fill-opacity="0.9"/>
<circle cx="550.9" cy="1760.1" r="8" fill="#2aae7a" fill-opacity="0.9"/>
<circle cx="631.6" cy="1760.5" r="8" fill="#2aae7a" fill-opacity="0.9"/>
<circle cx="712.3" cy="1762.0" r="8" fill="#2aae7a" fill-opacity="0.9"/>
<circle cx="147.4" cy="1484.0" r="8" fill="#ecf01a" fill-opacity="0.9"/>
<circle cx="228.1" cy="1475.5" r="8" fill="#ecf01a" fill-opacity="0.9"/>
<circle cx="308.8" cy="1469.1" r="8" fill="#ecf01a" fill-opacity="0.9"/>
<circle cx="389.5" cy="1490.4" r="8" fill="#ecf01a" fill-opacity="0.9"/>
<circle cx="470.2" cy="1733.3" r="8" fill="#ecf01a" fill-opacity="0.9"/>
<circle cx="550.9" cy="1756.0" r="8" fill="#ecf01a" fill-opacity="0.9"/>
<circle cx="631.6" cy="1760.5" r="8" fill="#ecf01a" fill-opacity="0.9"/>
<circle cx="712.3" cy="1762.5" r="8" fill="#ecf01a" fill-opacity="0.9"/>
<circle cx="147.4" cy="1460.6" r="8" fill="#3a5fcd" fill-opacity="0.9"/>
<circle cx="228.1" cy="1451.0" r="8" fill="#3a5fcd" fill-opacity="0.9"/>
<circle cx="308.8" cy="1442.6" r="8" fill="#3a5fcd" fill-opacity="0.9"/>
<circle cx="389.5" cy="1462.8" r="8" fill="#3a5fcd" fill-opacity="0.9"/>
<circle cx="470.2" cy="1679.5" r="8" fill="#3a5fcd" fill-opacity="0.9"/>
<circle cx="550.9" cy="1753.5" r="8" fill="#3a5fcd" fill-opacity="0.9"/>
<circle cx="631.6" cy="1758.5" r="8" fill="#3a5fcd" fill-opacity="0.9"/>
<circle cx="712.3" cy="1760.5" r="8" fill="#3a5fcd" fill-opacity="0.9"/>
<circle cx="147.4" cy="1475.5" r="8" fill="#2e0f68" fill-opacity="0.9"/>
<circle cx="228.1" cy="1467.0" r="8" fill="#2e0f68" fill-opacity="0.9"/>
<circle cx="308.8" cy="1454.3" r="8" fill="#2e0f68" fill-opacity="0.9"/>
<circle cx="389.5" cy="1463.0" r="8" fill="#2e0f68" fill-opacity="0.9"/>
<circle cx="470.2" cy="1641.4" r="8" fill="#2e0f68" fill-opacity="0.9"/>
<circle cx="550.9" cy="1752.3" r="8" fill="#2e0f68" fill-opacity="0.9"/>
<circle cx="631.6" cy="1756.8" r="8" fill="#2e0f68" fill-opacity="0.9"/>
<circle cx="712.3" cy="1760.1" r="8" fill="#2e0f68" fill-opacity="0.9"/>
<polyline points="147.4,1475.5 228.1,1467.0 308.8,1454.3 389.5,1463.0 470.2,1641.4 550.9,1752.3 631.6,1756.8 712.3,1760.1" fill="none" stroke="#2e0f68" stroke-width="2.9" stroke-linejoin="round"/>
<polyline points="147.4,1460.6 228.1,1451.0 308.8,1442.6 389.5,1462.8 470.2,1679.5 550.9,1753.5 631.6,1758.5 712.3,1760.5" fill="none" stroke="#3a5fcd" stroke-width="2.9" stroke-linejoin="round"/>
<polyline points="147.4,1498.9 228.1,1484.0 308.8,1479.8 389.5,1495.7 470.2,1721.0 550.9,1760.1 631.6,1760.5 712.3,1762.0" fill="none" stroke="#2aae7a" stroke-width="2.9" stroke-linejoin="round"/>
<polyline points="147.4,1484.0 228.1,1475.5 308.8,1469.1 389.5,1490.4 470.2,1733.3 550.9,1756.0 631.6,1760.5 712.3,1762.5" fill="none" stroke="#ecf01a" stroke-width="2.9" stroke-linejoin="round"/>
<circle cx="147.4" cy="1781.1" r="4.4" fill="#7a68a0" stroke="#3a1276" stroke-width="2"/>
<path d="M137.6,1771.3 L157.2,1790.9 M137.6,1790.9 L157.2,1771.3" stroke="#3c1478" stroke-width="2.5"/>
<circle cx="228.1" cy="1781.1" r="4.4" fill="#7a68a0" stroke="#3a1276" stroke-width="2"/>
<path d="M218.3,1771.3 L237.9,1790.9 M218.3,1790.9 L237.9,1771.3" stroke="#3c1478" stroke-width="2.5"/>
<circle cx="308.8" cy="1781.1" r="4.4" fill="#7a68a0" stroke="#3a1276" stroke-width="2"/>
<path d="M299.0,1771.3 L318.6,1790.9 M299.0,1790.9 L318.6,1771.3" stroke="#3c1478" stroke-width="2.5"/>
<circle cx="389.5" cy="1781.1" r="4.4" fill="#7a68a0" stroke="#3a1276" stroke-width="2"/>
<path d="M379.7,1771.3 L399.3,1790.9 M379.7,1790.9 L399.3,1771.3" stroke="#3c1478" stroke-width="2.5"/>
<circle cx="470.2" cy="1781.1" r="4.4" fill="#7a68a0" stroke="#3a1276" stroke-width="2"/>
<path d="M460.4,1771.3 L480.0,1790.9 M460.4,1790.9 L480.0,1771.3" stroke="#3c1478" stroke-width="2.5"/>
<circle cx="550.9" cy="1781.1" r="4.4" fill="#7a68a0" stroke="#3a1276" stroke-width="2"/>
<path d="M541.1,1771.3 L560.7,1790.9 M541.1,1790.9 L560.7,1771.3" stroke="#3c1478" stroke-width="2.5"/>
<circle cx="631.6" cy="1781.1" r="4.4" fill="#7a68a0" stroke="#3a1276" stroke-width="2"/>
<path d="M621.8,1771.3 L641.4,1790.9 M621.8,1790.9 L641.4,1771.3" stroke="#3c1478" stroke-width="2.5"/>
<circle cx="712.3" cy="1781.1" r="4.4" fill="#7a68a0" stroke="#3a1276" stroke-width="2"/>
<path d="M702.5,1771.3 L722.1,1790.9 M702.5,1790.9 L722.1,1771.3" stroke="#3c1478" stroke-width="2.5"/>
<rect x="116.8" y="1410.5" width="627.4000000000001" height="387.70000000000005" fill="none" stroke="#3c4242" stroke-width="2.2"/>
<line x1="108.8" y1="1781.1" x2="116.8" y2="1781.1" stroke="#333" stroke-width="2.2"/>
<text x="37.68" y="1789.20" font-size="21.40" font-weight="normal" fill="#4d4d4d" textLength="64.90" lengthAdjust="spacingAndGlyphs" stroke="#4d4d4d" stroke-width="0.65" >0e+00</text>
<line x1="108.8" y1="1686.0" x2="116.8" y2="1686.0" stroke="#333" stroke-width="2.2"/>
<text x="37.44" y="1694.15" font-size="21.40" font-weight="normal" fill="#4d4d4d" textLength="65.26" lengthAdjust="spacingAndGlyphs" stroke="#4d4d4d" stroke-width="0.65" >2e+05</text>
<line x1="108.8" y1="1591.0" x2="116.8" y2="1591.0" stroke="#333" stroke-width="2.2"/>
<text x="38.14" y="1599.10" font-size="21.40" font-weight="normal" fill="#4d4d4d" textLength="64.55" lengthAdjust="spacingAndGlyphs" stroke="#4d4d4d" stroke-width="0.65" >4e+05</text>
<line x1="108.8" y1="1495.9" x2="116.8" y2="1495.9" stroke="#333" stroke-width="2.2"/>
<text x="37.44" y="1504.05" font-size="21.40" font-weight="normal" fill="#4d4d4d" textLength="65.26" lengthAdjust="spacingAndGlyphs" stroke="#4d4d4d" stroke-width="0.65" >6e+05</text>
<line x1="174.3" y1="1798.2" x2="174.3" y2="1805.7" stroke="#333" stroke-width="2.2"/>
<text x="160.94" y="1827.80" font-size="21.50" font-weight="normal" fill="#4d4d4d" textLength="26.65" lengthAdjust="spacingAndGlyphs" stroke="#4d4d4d" stroke-width="0.65" >30</text>
<line x1="308.8" y1="1798.2" x2="308.8" y2="1805.7" stroke="#333" stroke-width="2.2"/>
<text x="295.44" y="1827.80" font-size="21.50" font-weight="normal" fill="#4d4d4d" textLength="26.78" lengthAdjust="spacingAndGlyphs" stroke="#4d4d4d" stroke-width="0.65" >35</text>
<line x1="443.3" y1="1798.2" x2="443.3" y2="1805.7" stroke="#333" stroke-width="2.2"/>
<text x="430.43" y="1827.80" font-size="21.50" font-weight="normal" fill="#4d4d4d" textLength="26.15" lengthAdjust="spacingAndGlyphs" stroke="#4d4d4d" stroke-width="0.65" >40</text>
<line x1="577.8" y1="1798.2" x2="577.8" y2="1805.7" stroke="#333" stroke-width="2.2"/>
<text x="564.93" y="1827.80" font-size="21.50" font-weight="normal" fill="#4d4d4d" textLength="26.27" lengthAdjust="spacingAndGlyphs" stroke="#4d4d4d" stroke-width="0.65" >45</text>
<line x1="712.3" y1="1798.2" x2="712.3" y2="1805.7" stroke="#333" stroke-width="2.2"/>
<text x="698.94" y="1827.80" font-size="21.50" font-weight="normal" fill="#4d4d4d" textLength="26.65" lengthAdjust="spacingAndGlyphs" stroke="#4d4d4d" stroke-width="0.65" >50</text>
<text x="252.26" y="1859.80" font-size="26.50" font-weight="normal" fill="#111" textLength="353.68" lengthAdjust="spacingAndGlyphs" stroke="#111" stroke-width="0.6" >Incubation Temperature (ºC)</text>
<text transform="translate(26.40,1630.40) rotate(-90)" x="-2.31" y="0" font-size="31.00" font-weight="normal" fill="#111" textLength="57.69" lengthAdjust="spacingAndGlyphs" stroke="#111" stroke-width="0.8">RLU</text>
<text x="-2.84" y="1383.60" font-size="35.00" font-weight="bold" fill="#0a0a0a" textLength="23.83" lengthAdjust="spacingAndGlyphs" >b</text>
<text x="69.47" y="1384.00" font-size="33.50" font-weight="bold" fill="#0a0a0a" textLength="766.09" lengthAdjust="spacingAndGlyphs" >L4- and Temperature-dependent OGT activity</text>
<line x1="790.6" y1="1465.3" x2="798.6" y2="1465.3" stroke="#222" stroke-width="2.4"/><line x1="817.5" y1="1465.3" x2="825.5" y2="1465.3" stroke="#222" stroke-width="2.4"/>
<path d="M800.05,1457.3 L816.05,1473.3 M800.05,1473.3 L816.05,1457.3" stroke="#777" stroke-width="1.6"/>
<text x="843.11" y="1473.50" font-size="21.40" font-weight="normal" fill="#111" textLength="108.90" lengthAdjust="spacingAndGlyphs" stroke="#111" stroke-width="0.55" >No protein</text>
<circle cx="808.05" cy="1508.9" r="8.5" fill="#777" fill-opacity="0.85"/>
<line x1="790.6" y1="1508.9" x2="825.5" y2="1508.9" stroke="#222" stroke-width="2.6"/>
<text x="844.08" y="1518.10" font-size="21.40" font-weight="normal" fill="#111" textLength="133.18" lengthAdjust="spacingAndGlyphs" stroke="#111" stroke-width="0.55" >500 nM OGT</text>
<text x="786.40" y="1620.20" font-size="27.00" font-weight="normal" fill="#111" textLength="114.64" lengthAdjust="spacingAndGlyphs" stroke="#111" stroke-width="0.6" >[L4] (µM)</text>
<circle cx="809.05" cy="1650.7" r="9" fill="#6c4cb0"/>
<line x1="790.6" y1="1650.7" x2="825.5" y2="1650.7" stroke="#2e0f68" stroke-width="2.6"/>
<circle cx="809.05" cy="1650.7" r="3.6" fill="none" stroke="#2e0f68" stroke-width="1.6"/>
<text x="844.08" y="1659.40" font-size="22.00" font-weight="normal" fill="#111" textLength="44.96" lengthAdjust="spacingAndGlyphs" stroke="#111" stroke-width="0.55" >0.00</text>
<circle cx="809.05" cy="1695.1" r="9" fill="#7e98e0"/>
<line x1="790.6" y1="1695.1" x2="825.5" y2="1695.1" stroke="#3a5fcd" stroke-width="2.6"/>
<circle cx="809.05" cy="1695.1" r="3.6" fill="none" stroke="#3a5fcd" stroke-width="1.6"/>
<text x="843.23" y="1703.80" font-size="22.00" font-weight="normal" fill="#111" textLength="45.95" lengthAdjust="spacingAndGlyphs" stroke="#111" stroke-width="0.55" >1.25</text>
<circle cx="809.05" cy="1739.4" r="9" fill="#6ccaa2"/>
<line x1="790.6" y1="1739.4" x2="825.5" y2="1739.4" stroke="#2aae7a" stroke-width="2.6"/>
<circle cx="809.05" cy="1739.4" r="3.6" fill="none" stroke="#2aae7a" stroke-width="1.6"/>
<text x="843.84" y="1748.20" font-size="22.00" font-weight="normal" fill="#111" textLength="45.21" lengthAdjust="spacingAndGlyphs" stroke="#111" stroke-width="0.55" >2.50</text>
<circle cx="809.05" cy="1783.7" r="9" fill="#eeee6a"/>
<line x1="790.6" y1="1783.7" x2="825.5" y2="1783.7" stroke="#ecf01a" stroke-width="2.6"/>
<circle cx="809.05" cy="1783.7" r="3.6" fill="none" stroke="#ecf01a" stroke-width="1.6"/>
<text x="844.08" y="1792.00" font-size="22.00" font-weight="normal" fill="#111" textLength="44.96" lengthAdjust="spacingAndGlyphs" stroke="#111" stroke-width="0.55" >5.00</text>
<rect x="1158.6" y="1410.5" width="625.0" height="387.5999999999999" fill="#fff"/>
<line x1="1158.6" y1="1737.2" x2="1783.6" y2="1737.2" stroke="#ebeded" stroke-width="1.3"/>
<line x1="1158.6" y1="1654.0" x2="1783.6" y2="1654.0" stroke="#ebeded" stroke-width="1.3"/>
<line x1="1158.6" y1="1570.9" x2="1783.6" y2="1570.9" stroke="#ebeded" stroke-width="1.3"/>
<line x1="1158.6" y1="1487.7" x2="1783.6" y2="1487.7" stroke="#ebeded" stroke-width="1.3"/>
<line x1="1251.6" y1="1410.5" x2="1251.6" y2="1798.1" stroke="#ebeded" stroke-width="1.4"/>
<line x1="1361.5" y1="1410.5" x2="1361.5" y2="1798.1" stroke="#ebeded" stroke-width="1.4"/>
<line x1="1471.3" y1="1410.5" x2="1471.3" y2="1798.1" stroke="#ebeded" stroke-width="1.4"/>
<line x1="1581.2" y1="1410.5" x2="1581.2" y2="1798.1" stroke="#ebeded" stroke-width="1.4"/>
<line x1="1691.0" y1="1410.5" x2="1691.0" y2="1798.1" stroke="#ebeded" stroke-width="1.4"/>
<line x1="1158.6" y1="1778.8" x2="1783.6" y2="1778.8" stroke="#dfe2e2" stroke-width="2.3"/>
<line x1="1158.6" y1="1695.6" x2="1783.6" y2="1695.6" stroke="#dfe2e2" stroke-width="2.3"/>
<line x1="1158.6" y1="1612.5" x2="1783.6" y2="1612.5" stroke="#dfe2e2" stroke-width="2.3"/>
<line x1="1158.6" y1="1529.3" x2="1783.6" y2="1529.3" stroke="#dfe2e2" stroke-width="2.3"/>
<line x1="1158.6" y1="1446.1" x2="1783.6" y2="1446.1" stroke="#dfe2e2" stroke-width="2.3"/>
<line x1="1158.6" y1="1452.3" x2="1783.6" y2="1452.3" stroke="#2a2a2a" stroke-width="3" stroke-dasharray="10.5 11.4" stroke-dashoffset="0"/>
<path d="M1185.6,1427.3 L1208.2,1427.3 M1196.9,1427.3 L1196.9,1476.5 M1185.6,1476.5 L1208.2,1476.5" stroke="#000" stroke-width="3.3" fill="none"/>
<circle cx="1196.9" cy="1451.9" r="7.9" fill="#000"/>
<path d="M1323.4,1579 L1346.0,1579 M1334.7,1579 L1334.7,1595.2 M1323.4,1595.2 L1346.0,1595.2" stroke="#000" stroke-width="3.3" fill="none"/>
<circle cx="1334.7" cy="1587.4" r="7.9" fill="#000"/>
<path d="M1460.5,1720.8 L1483.1,1720.8 M1471.8,1720.8 L1471.8,1747.7 M1460.5,1747.7 L1483.1,1747.7" stroke="#000" stroke-width="3.3" fill="none"/>
<circle cx="1471.8" cy="1734.2" r="7.9" fill="#000"/>
<path d="M1735.3,1758.4 L1757.9,1758.4 M1746.6,1758.4 L1746.6,1781.3 M1735.3,1781.3 L1757.9,1781.3" stroke="#000" stroke-width="3.3" fill="none"/>
<circle cx="1746.6" cy="1769.6" r="7.9" fill="#000"/>
<rect x="1158.6" y="1410.5" width="625.0" height="387.5999999999999" fill="none" stroke="#3c4242" stroke-width="2.2"/>
<line x1="1150.6" y1="1778.8" x2="1158.6" y2="1778.8" stroke="#333" stroke-width="2.2"/>
<text x="1066.03" y="1787.12" font-size="21.40" font-weight="normal" fill="#4d4d4d" textLength="78.74" lengthAdjust="spacingAndGlyphs" stroke="#4d4d4d" stroke-width="0.65" >100000</text>
<line x1="1150.6" y1="1695.6" x2="1158.6" y2="1695.6" stroke="#333" stroke-width="2.2"/>
<text x="1066.03" y="1703.94" font-size="21.40" font-weight="normal" fill="#4d4d4d" textLength="78.74" lengthAdjust="spacingAndGlyphs" stroke="#4d4d4d" stroke-width="0.65" >150000</text>
<line x1="1150.6" y1="1612.5" x2="1158.6" y2="1612.5" stroke="#333" stroke-width="2.2"/>
<text x="1066.63" y="1620.76" font-size="21.40" font-weight="normal" fill="#4d4d4d" textLength="78.14" lengthAdjust="spacingAndGlyphs" stroke="#4d4d4d" stroke-width="0.65" >200000</text>
<line x1="1150.6" y1="1529.3" x2="1158.6" y2="1529.3" stroke="#333" stroke-width="2.2"/>
<text x="1066.63" y="1537.58" font-size="21.40" font-weight="normal" fill="#4d4d4d" textLength="78.14" lengthAdjust="spacingAndGlyphs" stroke="#4d4d4d" stroke-width="0.65" >250000</text>
<line x1="1150.6" y1="1446.1" x2="1158.6" y2="1446.1" stroke="#333" stroke-width="2.2"/>
<text x="1066.87" y="1454.40" font-size="21.40" font-weight="normal" fill="#4d4d4d" textLength="77.90" lengthAdjust="spacingAndGlyphs" stroke="#4d4d4d" stroke-width="0.65" >300000</text>
<line x1="1196.7" y1="1798.1" x2="1196.7" y2="1805.6" stroke="#333" stroke-width="2.2"/>
<text x="1190.11" y="1827.40" font-size="21.50" font-weight="normal" fill="#4d4d4d" textLength="13.09" lengthAdjust="spacingAndGlyphs" stroke="#4d4d4d" stroke-width="0.65" >0</text>
<line x1="1306.5" y1="1798.1" x2="1306.5" y2="1805.6" stroke="#333" stroke-width="2.2"/>
<text x="1301.51" y="1827.40" font-size="21.50" font-weight="normal" fill="#4d4d4d" textLength="9.59" lengthAdjust="spacingAndGlyphs" stroke="#4d4d4d" stroke-width="0.65" >1</text>
<line x1="1416.4" y1="1798.1" x2="1416.4" y2="1805.6" stroke="#333" stroke-width="2.2"/>
<text x="1409.51" y="1827.40" font-size="21.50" font-weight="normal" fill="#4d4d4d" textLength="13.81" lengthAdjust="spacingAndGlyphs" stroke="#4d4d4d" stroke-width="0.65" >2</text>
<line x1="1526.2" y1="1798.1" x2="1526.2" y2="1805.6" stroke="#333" stroke-width="2.2"/>
<text x="1519.65" y="1827.40" font-size="21.50" font-weight="normal" fill="#4d4d4d" textLength="13.23" lengthAdjust="spacingAndGlyphs" stroke="#4d4d4d" stroke-width="0.65" >3</text>
<line x1="1636.1" y1="1798.1" x2="1636.1" y2="1805.6" stroke="#333" stroke-width="2.2"/>
<text x="1630.00" y="1827.40" font-size="21.50" font-weight="normal" fill="#4d4d4d" textLength="12.45" lengthAdjust="spacingAndGlyphs" stroke="#4d4d4d" stroke-width="0.65" >4</text>
<line x1="1746.0" y1="1798.1" x2="1746.0" y2="1805.6" stroke="#333" stroke-width="2.2"/>
<text x="1739.35" y="1827.40" font-size="21.50" font-weight="normal" fill="#4d4d4d" textLength="13.23" lengthAdjust="spacingAndGlyphs" stroke="#4d4d4d" stroke-width="0.65" >5</text>
<text x="1427.71" y="1867.80" font-size="27.00" font-weight="normal" fill="#111" textLength="114.53" lengthAdjust="spacingAndGlyphs" stroke="#111" stroke-width="0.6" >[L4] (µM)</text>
<text transform="translate(1055.80,1630.20) rotate(-90)" x="-2.29" y="0" font-size="31.00" font-weight="normal" fill="#111" textLength="57.36" lengthAdjust="spacingAndGlyphs" stroke="#111" stroke-width="0.8">RLU</text>
<text x="1029.63" y="1383.60" font-size="34.40" font-weight="bold" fill="#0a0a0a" textLength="21.79" lengthAdjust="spacingAndGlyphs" >c</text>
<text x="1148.68" y="1390.30" font-size="34.40" font-weight="bold" fill="#0a0a0a" textLength="593.78" lengthAdjust="spacingAndGlyphs" >L4-dependent OGT activity at 41 ºC</text>
<path d="M1058.0,614.9 L1058.0,614.9 L1060.1,614.9 L1060.1,614.9 L1062.2,614.9 L1062.2,614.3 L1064.4,614.3 L1064.4,613.5 L1066.5,613.5 L1066.5,612.5 L1068.6,612.5 L1068.6,593.3 L1070.7,593.3 L1070.7,597.8 L1072.8,597.8 L1072.8,582.1 L1075.0,582.1 L1075.0,513.7 L1077.1,513.7 L1077.1,501.7 L1079.2,501.7 L1079.2,391.3 L1081.3,391.3 L1081.3,339.7 L1083.4,339.7 L1083.4,245.5 L1085.6,245.5 L1085.6,292.7 L1087.7,292.7 L1087.7,266.2 L1089.8,266.2 L1089.8,196.4 L1091.9,196.4 L1091.9,224.8 L1094.0,224.8 L1094.0,279.3 L1096.2,279.3 L1096.2,307.1 L1098.3,307.1 L1098.3,359.2 L1100.4,359.2 L1100.4,393.0 L1102.5,393.0 L1102.5,424.0 L1104.6,424.0 L1104.6,462.3 L1106.8,462.3 L1106.8,462.6 L1108.9,462.6 L1108.9,494.5 L1111.0,494.5 L1111.0,531.4 L1113.1,531.4 L1113.1,528.2 L1115.2,528.2 L1115.2,553.9 L1117.4,553.9 L1117.4,557.1 L1119.5,557.1 L1119.5,569.9 L1121.6,569.9 L1121.6,572.2 L1123.7,572.2 L1123.7,583.7 L1125.8,583.7 L1125.8,584.2 L1128.0,584.2 L1128.0,589.8 L1130.1,589.8 L1130.1,598.4 L1132.2,598.4 L1132.2,601.5 L1134.3,601.5 L1134.3,608.2 L1136.4,608.2 L1136.4,609.1 L1138.6,609.1 L1138.6,611.9 L1140.7,611.9 L1140.7,613.3 L1142.8,613.3 L1142.8,613.7 L1144.9,613.7 L1144.9,613.9 L1147.0,613.9 L1147.0,614.1 L1149.2,614.1 L1149.2,614.2 L1151.3,614.2 L1151.3,614.5 L1153.4,614.5 L1153.4,614.7 L1155.5,614.7 L1155.5,614.8 L1157.6,614.8 L1157.6,614.8 L1159.8,614.8 L1159.8,614.9 L1161.9,614.9 L1161.9,614.9 L1164.0,614.9 L1164.0,614.9 L1166.1,614.9 L1166.1,614.9 L1168.2,614.9 L1168.2,614.9 L1170.4,614.9 L1170.4,614.9 L1172.5,614.9 L1172.5,614.9 L1174.6,614.9 L1174.6,614.9 L1176.7,614.9 L1176.7,614.9 L1178.8,614.9 L1178.8,614.9 L1181.0,614.9 L1181.0,614.9 L1183.1,614.9 L1183.1,614.9 L1185.2,614.9 L1185.2,614.9 L1187.3,614.9 L1187.3,614.9 L1189.4,614.9 L1189.4,614.9 L1191.6,614.9 L1191.6,614.9 L1193.7,614.9 L1193.7,614.9 L1195.8,614.9 L1195.8,614.9 L1197.9,614.9 L1197.9,614.9 L1200.0,614.9 L1200.0,614.9 L1202.2,614.9 L1202.2,614.9 L1204.3,614.9 L1204.3,614.9 L1206.4,614.9 L1206.4,614.9 L1208.5,614.9 L1208.5,614.9 L1210.6,614.9 L1210.6,614.9 L1212.8,614.9 L1212.8,614.9 L1214.9,614.9 L1214.9,614.9 L1217.0,614.9 L1217.0,614.9 L1219.1,614.9 L1219.1,614.9 L1221.2,614.9 L1221.2,614.9 L1223.4,614.9 L1223.4,614.9 L1225.5,614.9 L1225.5,614.9 L1227.6,614.9 L1227.6,614.9 L1229.7,614.9 L1229.7,614.9 L1231.8,614.9 L1231.8,614.9 L1234.0,614.9 L1234.0,614.9 L1236.1,614.9 L1236.1,614.9 L1238.2,614.9 L1238.2,614.9 L1240.3,614.9 L1240.3,614.9 L1242.4,614.9 L1242.4,614.9 L1244.6,614.9 L1244.6,614.9 L1246.7,614.9 L1246.7,614.9 L1248.8,614.9 L1248.8,614.9 L1250.9,614.9 L1250.9,614.9 L1253.0,614.9 L1253.0,614.9 L1255.2,614.9 L1255.2,614.9 L1257.3,614.9 L1257.3,614.9 L1259.4,614.9 L1259.4,614.9 Z" fill="#6ec6f0"/>
<path d="M1058.0,614.9 L1058.0,614.9 L1060.1,614.9 L1060.1,614.9 L1062.2,614.9 L1062.2,614.9 L1064.4,614.9 L1064.4,614.9 L1066.5,614.9 L1066.5,614.9 L1068.6,614.9 L1068.6,614.9 L1070.7,614.9 L1070.7,614.9 L1072.8,614.9 L1072.8,614.6 L1075.0,614.6 L1075.0,614.4 L1077.1,614.4 L1077.1,614.1 L1079.2,614.1 L1079.2,613.5 L1081.3,613.5 L1081.3,611.4 L1083.4,611.4 L1083.4,598.0 L1085.6,598.0 L1085.6,555.0 L1087.7,555.0 L1087.7,502.7 L1089.8,502.7 L1089.8,439.6 L1091.9,439.6 L1091.9,392.3 L1094.0,392.3 L1094.0,333.4 L1096.2,333.4 L1096.2,276.3 L1098.3,276.3 L1098.3,313.8 L1100.4,313.8 L1100.4,277.8 L1102.5,277.8 L1102.5,242.3 L1104.6,242.3 L1104.6,255.0 L1106.8,255.0 L1106.8,300.3 L1108.9,300.3 L1108.9,284.3 L1111.0,284.3 L1111.0,282.3 L1113.1,282.3 L1113.1,310.7 L1115.2,310.7 L1115.2,332.0 L1117.4,332.0 L1117.4,357.9 L1119.5,357.9 L1119.5,392.1 L1121.6,392.1 L1121.6,408.4 L1123.7,408.4 L1123.7,419.4 L1125.8,419.4 L1125.8,479.9 L1128.0,479.9 L1128.0,494.0 L1130.1,494.0 L1130.1,501.9 L1132.2,501.9 L1132.2,534.9 L1134.3,534.9 L1134.3,536.0 L1136.4,536.0 L1136.4,551.2 L1138.6,551.2 L1138.6,555.1 L1140.7,555.1 L1140.7,561.3 L1142.8,561.3 L1142.8,569.4 L1144.9,569.4 L1144.9,580.6 L1147.0,580.6 L1147.0,584.4 L1149.2,584.4 L1149.2,587.6 L1151.3,587.6 L1151.3,597.9 L1153.4,597.9 L1153.4,602.4 L1155.5,602.4 L1155.5,603.9 L1157.6,603.9 L1157.6,608.5 L1159.8,608.5 L1159.8,609.7 L1161.9,609.7 L1161.9,612.0 L1164.0,612.0 L1164.0,613.2 L1166.1,613.2 L1166.1,613.5 L1168.2,613.5 L1168.2,613.9 L1170.4,613.9 L1170.4,614.0 L1172.5,614.0 L1172.5,614.2 L1174.6,614.2 L1174.6,614.5 L1176.7,614.5 L1176.7,614.5 L1178.8,614.5 L1178.8,614.7 L1181.0,614.7 L1181.0,614.7 L1183.1,614.7 L1183.1,614.9 L1185.2,614.9 L1185.2,614.9 L1187.3,614.9 L1187.3,614.9 L1189.4,614.9 L1189.4,614.9 L1191.6,614.9 L1191.6,614.9 L1193.7,614.9 L1193.7,614.9 L1195.8,614.9 L1195.8,614.9 L1197.9,614.9 L1197.9,614.9 L1200.0,614.9 L1200.0,614.9 L1202.2,614.9 L1202.2,614.9 L1204.3,614.9 L1204.3,614.9 L1206.4,614.9 L1206.4,614.9 L1208.5,614.9 L1208.5,614.9 L1210.6,614.9 L1210.6,614.9 L1212.8,614.9 L1212.8,614.9 L1214.9,614.9 L1214.9,614.9 L1217.0,614.9 L1217.0,614.9 L1219.1,614.9 L1219.1,614.9 L1221.2,614.9 L1221.2,614.9 L1223.4,614.9 L1223.4,614.9 L1225.5,614.9 L1225.5,614.9 L1227.6,614.9 L1227.6,614.9 L1229.7,614.9 L1229.7,614.9 L1231.8,614.9 L1231.8,614.9 L1234.0,614.9 L1234.0,614.9 L1236.1,614.9 L1236.1,614.9 L1238.2,614.9 L1238.2,614.9 L1240.3,614.9 L1240.3,614.9 L1242.4,614.9 L1242.4,614.9 L1244.6,614.9 L1244.6,614.9 L1246.7,614.9 L1246.7,614.9 L1248.8,614.9 L1248.8,614.9 L1250.9,614.9 L1250.9,614.9 L1253.0,614.9 L1253.0,614.9 L1255.2,614.9 L1255.2,614.9 L1257.3,614.9 L1257.3,614.9 L1259.4,614.9 L1259.4,614.9 Z" fill="#d8a2ec"/>
<path d="M1058.0,614.9 L1058.0,614.9 L1060.1,614.9 L1060.1,614.9 L1062.2,614.9 L1062.2,614.9 L1064.4,614.9 L1064.4,614.9 L1066.5,614.9 L1066.5,614.9 L1068.6,614.9 L1068.6,614.9 L1070.7,614.9 L1070.7,614.9 L1072.8,614.9 L1072.8,614.9 L1075.0,614.9 L1075.0,614.9 L1077.1,614.9 L1077.1,614.9 L1079.2,614.9 L1079.2,614.9 L1081.3,614.9 L1081.3,614.8 L1083.4,614.8 L1083.4,614.6 L1085.6,614.6 L1085.6,614.4 L1087.7,614.4 L1087.7,613.1 L1089.8,613.1 L1089.8,611.0 L1091.9,611.0 L1091.9,608.7 L1094.0,608.7 L1094.0,578.7 L1096.2,578.7 L1096.2,525.1 L1098.3,525.1 L1098.3,529.7 L1100.4,529.7 L1100.4,497.7 L1102.5,497.7 L1102.5,439.4 L1104.6,439.4 L1104.6,435.1 L1106.8,435.1 L1106.8,379.2 L1108.9,379.2 L1108.9,388.0 L1111.0,388.0 L1111.0,314.2 L1113.1,314.2 L1113.1,302.1 L1115.2,302.1 L1115.2,315.8 L1117.4,315.8 L1117.4,277.5 L1119.5,277.5 L1119.5,282.0 L1121.6,282.0 L1121.6,301.1 L1123.7,301.1 L1123.7,329.2 L1125.8,329.2 L1125.8,368.3 L1128.0,368.3 L1128.0,357.5 L1130.1,357.5 L1130.1,413.7 L1132.2,413.7 L1132.2,426.4 L1134.3,426.4 L1134.3,448.6 L1136.4,448.6 L1136.4,475.0 L1138.6,475.0 L1138.6,506.1 L1140.7,506.1 L1140.7,504.1 L1142.8,504.1 L1142.8,526.1 L1144.9,526.1 L1144.9,519.3 L1147.0,519.3 L1147.0,534.1 L1149.2,534.1 L1149.2,549.9 L1151.3,549.9 L1151.3,560.7 L1153.4,560.7 L1153.4,570.4 L1155.5,570.4 L1155.5,565.4 L1157.6,565.4 L1157.6,578.5 L1159.8,578.5 L1159.8,586.4 L1161.9,586.4 L1161.9,592.7 L1164.0,592.7 L1164.0,595.9 L1166.1,595.9 L1166.1,600.6 L1168.2,600.6 L1168.2,603.7 L1170.4,603.7 L1170.4,606.5 L1172.5,606.5 L1172.5,607.6 L1174.6,607.6 L1174.6,608.0 L1176.7,608.0 L1176.7,609.9 L1178.8,609.9 L1178.8,610.9 L1181.0,610.9 L1181.0,612.3 L1183.1,612.3 L1183.1,612.7 L1185.2,612.7 L1185.2,613.3 L1187.3,613.3 L1187.3,613.5 L1189.4,613.5 L1189.4,613.8 L1191.6,613.8 L1191.6,614.0 L1193.7,614.0 L1193.7,614.2 L1195.8,614.2 L1195.8,614.3 L1197.9,614.3 L1197.9,614.5 L1200.0,614.5 L1200.0,614.4 L1202.2,614.4 L1202.2,614.8 L1204.3,614.8 L1204.3,614.9 L1206.4,614.9 L1206.4,614.9 L1208.5,614.9 L1208.5,614.9 L1210.6,614.9 L1210.6,614.9 L1212.8,614.9 L1212.8,614.9 L1214.9,614.9 L1214.9,614.9 L1217.0,614.9 L1217.0,614.9 L1219.1,614.9 L1219.1,614.9 L1221.2,614.9 L1221.2,614.9 L1223.4,614.9 L1223.4,614.9 L1225.5,614.9 L1225.5,614.9 L1227.6,614.9 L1227.6,614.9 L1229.7,614.9 L1229.7,614.9 L1231.8,614.9 L1231.8,614.9 L1234.0,614.9 L1234.0,614.9 L1236.1,614.9 L1236.1,614.9 L1238.2,614.9 L1238.2,614.9 L1240.3,614.9 L1240.3,614.9 L1242.4,614.9 L1242.4,614.9 L1244.6,614.9 L1244.6,614.9 L1246.7,614.9 L1246.7,614.9 L1248.8,614.9 L1248.8,614.9 L1250.9,614.9 L1250.9,614.9 L1253.0,614.9 L1253.0,614.9 L1255.2,614.9 L1255.2,614.9 L1257.3,614.9 L1257.3,614.9 L1259.4,614.9 L1259.4,614.9 Z" fill="#62dc7c"/>
<path d="M1058.0,614.9 L1058.0,614.9 L1060.1,614.9 L1060.1,614.9 L1062.2,614.9 L1062.2,614.9 L1064.4,614.9 L1064.4,614.9 L1066.5,614.9 L1066.5,614.9 L1068.6,614.9 L1068.6,614.9 L1070.7,614.9 L1070.7,614.9 L1072.8,614.9 L1072.8,614.6 L1075.0,614.6 L1075.0,614.4 L1077.1,614.4 L1077.1,614.1 L1079.2,614.1 L1079.2,613.5 L1081.3,613.5 L1081.3,611.4 L1083.4,611.4 L1083.4,598.0 L1085.6,598.0 L1085.6,555.0 L1087.7,555.0 L1087.7,502.7 L1089.8,502.7 L1089.8,439.6 L1091.9,439.6 L1091.9,392.3 L1094.0,392.3 L1094.0,333.4 L1096.2,333.4 L1096.2,307.1 L1098.3,307.1 L1098.3,359.2 L1100.4,359.2 L1100.4,393.0 L1102.5,393.0 L1102.5,424.0 L1104.6,424.0 L1104.6,462.3 L1106.8,462.3 L1106.8,462.6 L1108.9,462.6 L1108.9,494.5 L1111.0,494.5 L1111.0,531.4 L1113.1,531.4 L1113.1,528.2 L1115.2,528.2 L1115.2,553.9 L1117.4,553.9 L1117.4,557.1 L1119.5,557.1 L1119.5,569.9 L1121.6,569.9 L1121.6,572.2 L1123.7,572.2 L1123.7,583.7 L1125.8,583.7 L1125.8,584.2 L1128.0,584.2 L1128.0,589.8 L1130.1,589.8 L1130.1,598.4 L1132.2,598.4 L1132.2,601.5 L1134.3,601.5 L1134.3,608.2 L1136.4,608.2 L1136.4,609.1 L1138.6,609.1 L1138.6,611.9 L1140.7,611.9 L1140.7,613.3 L1142.8,613.3 L1142.8,613.7 L1144.9,613.7 L1144.9,613.9 L1147.0,613.9 L1147.0,614.1 L1149.2,614.1 L1149.2,614.2 L1151.3,614.2 L1151.3,614.5 L1153.4,614.5 L1153.4,614.7 L1155.5,614.7 L1155.5,614.8 L1157.6,614.8 L1157.6,614.8 L1159.8,614.8 L1159.8,614.9 L1161.9,614.9 L1161.9,614.9 L1164.0,614.9 L1164.0,614.9 L1166.1,614.9 L1166.1,614.9 L1168.2,614.9 L1168.2,614.9 L1170.4,614.9 L1170.4,614.9 L1172.5,614.9 L1172.5,614.9 L1174.6,614.9 L1174.6,614.9 L1176.7,614.9 L1176.7,614.9 L1178.8,614.9 L1178.8,614.9 L1181.0,614.9 L1181.0,614.9 L1183.1,614.9 L1183.1,614.9 L1185.2,614.9 L1185.2,614.9 L1187.3,614.9 L1187.3,614.9 L1189.4,614.9 L1189.4,614.9 L1191.6,614.9 L1191.6,614.9 L1193.7,614.9 L1193.7,614.9 L1195.8,614.9 L1195.8,614.9 L1197.9,614.9 L1197.9,614.9 L1200.0,614.9 L1200.0,614.9 L1202.2,614.9 L1202.2,614.9 L1204.3,614.9 L1204.3,614.9 L1206.4,614.9 L1206.4,614.9 L1208.5,614.9 L1208.5,614.9 L1210.6,614.9 L1210.6,614.9 L1212.8,614.9 L1212.8,614.9 L1214.9,614.9 L1214.9,614.9 L1217.0,614.9 L1217.0,614.9 L1219.1,614.9 L1219.1,614.9 L1221.2,614.9 L1221.2,614.9 L1223.4,614.9 L1223.4,614.9 L1225.5,614.9 L1225.5,614.9 L1227.6,614.9 L1227.6,614.9 L1229.7,614.9 L1229.7,614.9 L1231.8,614.9 L1231.8,614.9 L1234.0,614.9 L1234.0,614.9 L1236.1,614.9 L1236.1,614.9 L1238.2,614.9 L1238.2,614.9 L1240.3,614.9 L1240.3,614.9 L1242.4,614.9 L1242.4,614.9 L1244.6,614.9 L1244.6,614.9 L1246.7,614.9 L1246.7,614.9 L1248.8,614.9 L1248.8,614.9 L1250.9,614.9 L1250.9,614.9 L1253.0,614.9 L1253.0,614.9 L1255.2,614.9 L1255.2,614.9 L1257.3,614.9 L1257.3,614.9 L1259.4,614.9 L1259.4,614.9 Z" fill="#4c94dc"/>
<path d="M1058.0,614.9 L1058.0,614.9 L1060.1,614.9 L1060.1,614.9 L1062.2,614.9 L1062.2,614.9 L1064.4,614.9 L1064.4,614.9 L1066.5,614.9 L1066.5,614.9 L1068.6,614.9 L1068.6,614.9 L1070.7,614.9 L1070.7,614.9 L1072.8,614.9 L1072.8,614.9 L1075.0,614.9 L1075.0,614.9 L1077.1,614.9 L1077.1,614.9 L1079.2,614.9 L1079.2,614.9 L1081.3,614.9 L1081.3,614.8 L1083.4,614.8 L1083.4,614.6 L1085.6,614.6 L1085.6,614.4 L1087.7,614.4 L1087.7,613.1 L1089.8,613.1 L1089.8,611.0 L1091.9,611.0 L1091.9,608.7 L1094.0,608.7 L1094.0,578.7 L1096.2,578.7 L1096.2,525.1 L1098.3,525.1 L1098.3,529.7 L1100.4,529.7 L1100.4,497.7 L1102.5,497.7 L1102.5,439.4 L1104.6,439.4 L1104.6,462.3 L1106.8,462.3 L1106.8,462.6 L1108.9,462.6 L1108.9,494.5 L1111.0,494.5 L1111.0,531.4 L1113.1,531.4 L1113.1,528.2 L1115.2,528.2 L1115.2,553.9 L1117.4,553.9 L1117.4,557.1 L1119.5,557.1 L1119.5,569.9 L1121.6,569.9 L1121.6,572.2 L1123.7,572.2 L1123.7,583.7 L1125.8,583.7 L1125.8,584.2 L1128.0,584.2 L1128.0,589.8 L1130.1,589.8 L1130.1,598.4 L1132.2,598.4 L1132.2,601.5 L1134.3,601.5 L1134.3,608.2 L1136.4,608.2 L1136.4,609.1 L1138.6,609.1 L1138.6,611.9 L1140.7,611.9 L1140.7,613.3 L1142.8,613.3 L1142.8,613.7 L1144.9,613.7 L1144.9,613.9 L1147.0,613.9 L1147.0,614.1 L1149.2,614.1 L1149.2,614.2 L1151.3,614.2 L1151.3,614.5 L1153.4,614.5 L1153.4,614.7 L1155.5,614.7 L1155.5,614.8 L1157.6,614.8 L1157.6,614.8 L1159.8,614.8 L1159.8,614.9 L1161.9,614.9 L1161.9,614.9 L1164.0,614.9 L1164.0,614.9 L1166.1,614.9 L1166.1,614.9 L1168.2,614.9 L1168.2,614.9 L1170.4,614.9 L1170.4,614.9 L1172.5,614.9 L1172.5,614.9 L1174.6,614.9 L1174.6,614.9 L1176.7,614.9 L1176.7,614.9 L1178.8,614.9 L1178.8,614.9 L1181.0,614.9 L1181.0,614.9 L1183.1,614.9 L1183.1,614.9 L1185.2,614.9 L1185.2,614.9 L1187.3,614.9 L1187.3,614.9 L1189.4,614.9 L1189.4,614.9 L1191.6,614.9 L1191.6,614.9 L1193.7,614.9 L1193.7,614.9 L1195.8,614.9 L1195.8,614.9 L1197.9,614.9 L1197.9,614.9 L1200.0,614.9 L1200.0,614.9 L1202.2,614.9 L1202.2,614.9 L1204.3,614.9 L1204.3,614.9 L1206.4,614.9 L1206.4,614.9 L1208.5,614.9 L1208.5,614.9 L1210.6,614.9 L1210.6,614.9 L1212.8,614.9 L1212.8,614.9 L1214.9,614.9 L1214.9,614.9 L1217.0,614.9 L1217.0,614.9 L1219.1,614.9 L1219.1,614.9 L1221.2,614.9 L1221.2,614.9 L1223.4,614.9 L1223.4,614.9 L1225.5,614.9 L1225.5,614.9 L1227.6,614.9 L1227.6,614.9 L1229.7,614.9 L1229.7,614.9 L1231.8,614.9 L1231.8,614.9 L1234.0,614.9 L1234.0,614.9 L1236.1,614.9 L1236.1,614.9 L1238.2,614.9 L1238.2,614.9 L1240.3,614.9 L1240.3,614.9 L1242.4,614.9 L1242.4,614.9 L1244.6,614.9 L1244.6,614.9 L1246.7,614.9 L1246.7,614.9 L1248.8,614.9 L1248.8,614.9 L1250.9,614.9 L1250.9,614.9 L1253.0,614.9 L1253.0,614.9 L1255.2,614.9 L1255.2,614.9 L1257.3,614.9 L1257.3,614.9 L1259.4,614.9 L1259.4,614.9 Z" fill="#4aa6c8"/>
<path d="M1058.0,614.9 L1058.0,614.9 L1060.1,614.9 L1060.1,614.9 L1062.2,614.9 L1062.2,614.9 L1064.4,614.9 L1064.4,614.9 L1066.5,614.9 L1066.5,614.9 L1068.6,614.9 L1068.6,614.9 L1070.7,614.9 L1070.7,614.9 L1072.8,614.9 L1072.8,614.9 L1075.0,614.9 L1075.0,614.9 L1077.1,614.9 L1077.1,614.9 L1079.2,614.9 L1079.2,614.9 L1081.3,614.9 L1081.3,614.8 L1083.4,614.8 L1083.4,614.6 L1085.6,614.6 L1085.6,614.4 L1087.7,614.4 L1087.7,613.1 L1089.8,613.1 L1089.8,611.0 L1091.9,611.0 L1091.9,608.7 L1094.0,608.7 L1094.0,578.7 L1096.2,578.7 L1096.2,525.1 L1098.3,525.1 L1098.3,529.7 L1100.4,529.7 L1100.4,497.7 L1102.5,497.7 L1102.5,439.4 L1104.6,439.4 L1104.6,435.1 L1106.8,435.1 L1106.8,379.2 L1108.9,379.2 L1108.9,388.0 L1111.0,388.0 L1111.0,314.2 L1113.1,314.2 L1113.1,310.7 L1115.2,310.7 L1115.2,332.0 L1117.4,332.0 L1117.4,357.9 L1119.5,357.9 L1119.5,392.1 L1121.6,392.1 L1121.6,408.4 L1123.7,408.4 L1123.7,419.4 L1125.8,419.4 L1125.8,479.9 L1128.0,479.9 L1128.0,494.0 L1130.1,494.0 L1130.1,501.9 L1132.2,501.9 L1132.2,534.9 L1134.3,534.9 L1134.3,536.0 L1136.4,536.0 L1136.4,551.2 L1138.6,551.2 L1138.6,555.1 L1140.7,555.1 L1140.7,561.3 L1142.8,561.3 L1142.8,569.4 L1144.9,569.4 L1144.9,580.6 L1147.0,580.6 L1147.0,584.4 L1149.2,584.4 L1149.2,587.6 L1151.3,587.6 L1151.3,597.9 L1153.4,597.9 L1153.4,602.4 L1155.5,602.4 L1155.5,603.9 L1157.6,603.9 L1157.6,608.5 L1159.8,608.5 L1159.8,609.7 L1161.9,609.7 L1161.9,612.0 L1164.0,612.0 L1164.0,613.2 L1166.1,613.2 L1166.1,613.5 L1168.2,613.5 L1168.2,613.9 L1170.4,613.9 L1170.4,614.0 L1172.5,614.0 L1172.5,614.2 L1174.6,614.2 L1174.6,614.5 L1176.7,614.5 L1176.7,614.5 L1178.8,614.5 L1178.8,614.7 L1181.0,614.7 L1181.0,614.7 L1183.1,614.7 L1183.1,614.9 L1185.2,614.9 L1185.2,614.9 L1187.3,614.9 L1187.3,614.9 L1189.4,614.9 L1189.4,614.9 L1191.6,614.9 L1191.6,614.9 L1193.7,614.9 L1193.7,614.9 L1195.8,614.9 L1195.8,614.9 L1197.9,614.9 L1197.9,614.9 L1200.0,614.9 L1200.0,614.9 L1202.2,614.9 L1202.2,614.9 L1204.3,614.9 L1204.3,614.9 L1206.4,614.9 L1206.4,614.9 L1208.5,614.9 L1208.5,614.9 L1210.6,614.9 L1210.6,614.9 L1212.8,614.9 L1212.8,614.9 L1214.9,614.9 L1214.9,614.9 L1217.0,614.9 L1217.0,614.9 L1219.1,614.9 L1219.1,614.9 L1221.2,614.9 L1221.2,614.9 L1223.4,614.9 L1223.4,614.9 L1225.5,614.9 L1225.5,614.9 L1227.6,614.9 L1227.6,614.9 L1229.7,614.9 L1229.7,614.9 L1231.8,614.9 L1231.8,614.9 L1234.0,614.9 L1234.0,614.9 L1236.1,614.9 L1236.1,614.9 L1238.2,614.9 L1238.2,614.9 L1240.3,614.9 L1240.3,614.9 L1242.4,614.9 L1242.4,614.9 L1244.6,614.9 L1244.6,614.9 L1246.7,614.9 L1246.7,614.9 L1248.8,614.9 L1248.8,614.9 L1250.9,614.9 L1250.9,614.9 L1253.0,614.9 L1253.0,614.9 L1255.2,614.9 L1255.2,614.9 L1257.3,614.9 L1257.3,614.9 L1259.4,614.9 L1259.4,614.9 Z" fill="#9c92c8"/>
<path d="M1058.0,614.9 L1058.0,614.9 L1060.1,614.9 L1060.1,614.9 L1062.2,614.9 L1062.2,614.9 L1064.4,614.9 L1064.4,614.9 L1066.5,614.9 L1066.5,614.9 L1068.6,614.9 L1068.6,614.9 L1070.7,614.9 L1070.7,614.9 L1072.8,614.9 L1072.8,614.9 L1075.0,614.9 L1075.0,614.9 L1077.1,614.9 L1077.1,614.9 L1079.2,614.9 L1079.2,614.9 L1081.3,614.9 L1081.3,614.8 L1083.4,614.8 L1083.4,614.6 L1085.6,614.6 L1085.6,614.4 L1087.7,614.4 L1087.7,613.1 L1089.8,613.1 L1089.8,611.0 L1091.9,611.0 L1091.9,608.7 L1094.0,608.7 L1094.0,578.7 L1096.2,578.7 L1096.2,525.1 L1098.3,525.1 L1098.3,529.7 L1100.4,529.7 L1100.4,497.7 L1102.5,497.7 L1102.5,439.4 L1104.6,439.4 L1104.6,462.3 L1106.8,462.3 L1106.8,462.6 L1108.9,462.6 L1108.9,494.5 L1111.0,494.5 L1111.0,531.4 L1113.1,531.4 L1113.1,528.2 L1115.2,528.2 L1115.2,553.9 L1117.4,553.9 L1117.4,557.1 L1119.5,557.1 L1119.5,569.9 L1121.6,569.9 L1121.6,572.2 L1123.7,572.2 L1123.7,583.7 L1125.8,583.7 L1125.8,584.2 L1128.0,584.2 L1128.0,589.8 L1130.1,589.8 L1130.1,598.4 L1132.2,598.4 L1132.2,601.5 L1134.3,601.5 L1134.3,608.2 L1136.4,608.2 L1136.4,609.1 L1138.6,609.1 L1138.6,611.9 L1140.7,611.9 L1140.7,613.3 L1142.8,613.3 L1142.8,613.7 L1144.9,613.7 L1144.9,613.9 L1147.0,613.9 L1147.0,614.1 L1149.2,614.1 L1149.2,614.2 L1151.3,614.2 L1151.3,614.5 L1153.4,614.5 L1153.4,614.7 L1155.5,614.7 L1155.5,614.8 L1157.6,614.8 L1157.6,614.8 L1159.8,614.8 L1159.8,614.9 L1161.9,614.9 L1161.9,614.9 L1164.0,614.9 L1164.0,614.9 L1166.1,614.9 L1166.1,614.9 L1168.2,614.9 L1168.2,614.9 L1170.4,614.9 L1170.4,614.9 L1172.5,614.9 L1172.5,614.9 L1174.6,614.9 L1174.6,614.9 L1176.7,614.9 L1176.7,614.9 L1178.8,614.9 L1178.8,614.9 L1181.0,614.9 L1181.0,614.9 L1183.1,614.9 L1183.1,614.9 L1185.2,614.9 L1185.2,614.9 L1187.3,614.9 L1187.3,614.9 L1189.4,614.9 L1189.4,614.9 L1191.6,614.9 L1191.6,614.9 L1193.7,614.9 L1193.7,614.9 L1195.8,614.9 L1195.8,614.9 L1197.9,614.9 L1197.9,614.9 L1200.0,614.9 L1200.0,614.9 L1202.2,614.9 L1202.2,614.9 L1204.3,614.9 L1204.3,614.9 L1206.4,614.9 L1206.4,614.9 L1208.5,614.9 L1208.5,614.9 L1210.6,614.9 L1210.6,614.9 L1212.8,614.9 L1212.8,614.9 L1214.9,614.9 L1214.9,614.9 L1217.0,614.9 L1217.0,614.9 L1219.1,614.9 L1219.1,614.9 L1221.2,614.9 L1221.2,614.9 L1223.4,614.9 L1223.4,614.9 L1225.5,614.9 L1225.5,614.9 L1227.6,614.9 L1227.6,614.9 L1229.7,614.9 L1229.7,614.9 L1231.8,614.9 L1231.8,614.9 L1234.0,614.9 L1234.0,614.9 L1236.1,614.9 L1236.1,614.9 L1238.2,614.9 L1238.2,614.9 L1240.3,614.9 L1240.3,614.9 L1242.4,614.9 L1242.4,614.9 L1244.6,614.9 L1244.6,614.9 L1246.7,614.9 L1246.7,614.9 L1248.8,614.9 L1248.8,614.9 L1250.9,614.9 L1250.9,614.9 L1253.0,614.9 L1253.0,614.9 L1255.2,614.9 L1255.2,614.9 L1257.3,614.9 L1257.3,614.9 L1259.4,614.9 L1259.4,614.9 Z" fill="#4a8ed0"/>
<path d="M1075.0,614.9 L1075.5,614.9 L1076.0,614.9 L1076.5,614.9 L1077.0,614.9 L1077.5,614.9 L1078.0,614.9 L1078.5,614.9 L1079.0,614.9 L1079.5,614.9 L1080.0,614.9 L1080.5,614.9 L1081.0,614.9 L1081.5,614.9 L1082.0,614.9 L1082.5,614.9 L1083.0,614.9 L1083.5,614.8 L1084.0,614.7 L1084.5,614.6 L1085.0,614.6 L1085.5,614.5 L1086.0,614.4 L1086.5,614.4 L1087.0,614.3 L1087.5,614.2 L1088.0,614.1 L1088.5,614.0 L1089.0,613.8 L1089.5,613.6 L1090.0,613.3 L1090.5,613.0 L1091.0,612.6 L1091.5,612.2 L1092.0,611.7 L1092.5,611.1 L1093.0,610.3 L1093.5,608.6 L1094.0,606.3 L1094.5,603.1 L1095.0,599.3 L1095.5,594.9 L1096.0,589.8 L1096.5,584.1 L1097.0,577.9 L1097.5,571.1 L1098.0,563.8 L1098.5,556.0 L1099.0,548.0 L1099.5,539.9 L1100.0,531.8 L1100.5,523.7 L1101.0,515.5 L1101.5,507.4 L1102.0,499.2 L1102.5,491.1 L1103.0,483.0 L1103.5,474.9 L1104.0,466.8 L1104.5,458.8 L1105.0,450.8 L1105.5,442.8 L1106.0,434.8 L1106.5,426.8 L1107.0,418.8 L1107.5,410.8 L1108.0,402.9 L1108.5,394.9 L1109.0,387.0 L1109.5,379.1 L1110.0,371.2 L1110.5,363.4 L1111.0,356.0 L1111.5,349.2 L1112.0,342.7 L1112.5,336.7 L1113.0,330.9 L1113.5,325.5 L1114.0,320.4 L1114.5,315.4 L1115.0,310.7 L1115.5,307.1 L1116.0,305.0 L1116.5,304.5 L1117.0,304.9 L1117.5,305.6 L1118.0,306.6 L1118.5,307.8 L1119.0,309.4 L1119.5,311.3 L1120.0,313.5 L1120.5,316.0 L1121.0,318.9 L1121.5,322.1 L1122.0,325.7 L1122.5,329.5 L1123.0,333.5 L1123.5,337.6 L1124.0,341.9 L1124.5,346.3 L1125.0,350.9 L1125.5,355.7 L1126.0,360.7 L1126.5,365.9 L1127.0,371.3 L1127.5,377.1 L1128.0,383.2 L1128.5,389.4 L1129.0,395.9 L1129.5,402.3 L1130.0,408.8 L1130.5,415.2 L1131.0,421.4 L1131.5,427.5 L1132.0,433.2 L1132.5,438.5 L1133.0,443.6 L1133.5,448.5 L1134.0,453.3 L1134.5,458.1 L1135.0,462.6 L1135.5,467.0 L1136.0,471.3 L1136.5,475.4 L1137.0,479.4 L1137.5,483.2 L1138.0,486.8 L1138.5,490.3 L1139.0,493.5 L1139.5,496.6 L1140.0,499.5 L1140.5,502.4 L1141.0,505.2 L1141.5,508.0 L1142.0,510.7 L1142.5,513.4 L1143.0,516.1 L1143.5,518.7 L1144.0,521.2 L1144.5,523.7 L1145.0,526.2 L1145.5,528.6 L1146.0,531.0 L1146.5,533.3 L1147.0,535.6 L1147.5,537.8 L1148.0,540.0 L1148.5,542.1 L1149.0,544.2 L1149.5,546.3 L1150.0,548.3 L1150.5,550.3 L1151.0,552.4 L1151.5,554.4 L1152.0,556.4 L1152.5,558.4 L1153.0,560.3 L1153.5,562.3 L1154.0,564.2 L1154.5,566.1 L1155.0,568.0 L1155.5,569.8 L1156.0,571.6 L1156.5,573.4 L1157.0,575.1 L1157.5,576.8 L1158.0,578.4 L1158.5,580.0 L1159.0,581.6 L1159.5,583.1 L1160.0,584.6 L1160.5,586.0 L1161.0,587.3 L1161.5,588.6 L1162.0,589.9 L1162.5,591.2 L1163.0,592.4 L1163.5,593.6 L1164.0,594.7 L1164.5,595.8 L1165.0,596.9 L1165.5,598.0 L1166.0,599.0 L1166.5,599.9 L1167.0,600.8 L1167.5,601.7 L1168.0,602.5 L1168.5,603.3 L1169.0,604.0 L1169.5,604.7 L1170.0,605.3 L1170.5,605.9 L1171.0,606.4 L1171.5,606.8 L1172.0,607.3 L1172.5,607.6 L1173.0,607.9 L1173.5,608.2 L1174.0,608.5 L1174.5,608.8 L1175.0,609.1 L1175.5,609.4 L1176.0,609.7 L1176.5,610.0 L1177.0,610.3 L1177.5,610.5 L1178.0,610.8 L1178.5,611.0 L1179.0,611.3 L1179.5,611.5 L1180.0,611.7 L1180.5,611.9 L1181.0,612.1 L1181.5,612.3 L1182.0,612.5 L1182.5,612.6 L1183.0,612.8 L1183.5,612.9 L1184.0,613.1 L1184.5,613.2 L1185.0,613.3 L1185.5,613.4 L1186.0,613.4 L1186.5,613.5 L1187.0,613.5 L1187.5,613.6 L1188.0,613.6 L1188.5,613.7 L1189.0,613.7 L1189.5,613.8 L1190.0,613.8 L1190.5,613.9 L1191.0,613.9 L1191.5,614.0 L1192.0,614.0 L1192.5,614.1 L1193.0,614.1 L1193.5,614.2 L1194.0,614.2 L1194.5,614.3 L1195.0,614.3 L1195.5,614.4 L1196.0,614.4 L1196.5,614.4 L1197.0,614.5 L1197.5,614.5 L1198.0,614.6 L1198.5,614.6 L1199.0,614.6 L1199.5,614.7 L1200.0,614.7 L1200.5,614.7 L1201.0,614.8 L1201.5,614.8 L1202.0,614.8 L1202.5,614.8 L1203.0,614.9 L1203.5,614.9 L1204.0,614.9 L1204.5,614.9 L1205.0,614.9 L1205.5,614.9 L1206.0,614.9 L1206.5,614.9 L1207.0,614.9 L1207.5,614.9 L1208.0,614.9 L1208.5,614.9 L1209.0,614.9 L1209.5,614.9 L1210.0,614.9 L1210.5,614.9 L1211.0,614.9 L1211.5,614.9 L1212.0,614.9 L1212.5,614.9 L1213.0,614.9 L1213.5,614.9 L1214.0,614.9 L1214.5,614.9 L1215.0,614.9 L1215.5,614.9 L1216.0,614.9 L1216.5,614.9 L1217.0,614.9 L1217.5,614.9 L1218.0,614.9 L1218.5,614.9 L1219.0,614.9 L1219.5,614.9" fill="none" stroke="#1e6a34" stroke-width="2.8" stroke-linejoin="round"/>
<path d="M1068.0,614.9 L1068.5,614.9 L1069.0,614.9 L1069.5,614.9 L1070.0,614.9 L1070.5,614.9 L1071.0,614.9 L1071.5,614.9 L1072.0,614.9 L1072.5,614.9 L1073.0,614.9 L1073.5,614.9 L1074.0,614.9 L1074.5,614.8 L1075.0,614.8 L1075.5,614.7 L1076.0,614.6 L1076.5,614.5 L1077.0,614.4 L1077.5,614.4 L1078.0,614.3 L1078.5,614.2 L1079.0,614.1 L1079.5,613.9 L1080.0,613.6 L1080.5,613.4 L1081.0,613.0 L1081.5,612.6 L1082.0,612.2 L1082.5,611.7 L1083.0,611.2 L1083.5,610.5 L1084.0,608.7 L1084.5,605.8 L1085.0,601.8 L1085.5,596.6 L1086.0,590.3 L1086.5,582.9 L1087.0,574.3 L1087.5,564.6 L1088.0,553.7 L1088.5,542.0 L1089.0,529.8 L1089.5,517.1 L1090.0,504.1 L1090.5,491.1 L1091.0,478.1 L1091.5,465.2 L1092.0,452.8 L1092.5,440.8 L1093.0,429.3 L1093.5,417.9 L1094.0,406.5 L1094.5,395.2 L1095.0,384.0 L1095.5,372.9 L1096.0,361.9 L1096.5,351.0 L1097.0,340.2 L1097.5,329.8 L1098.0,319.9 L1098.5,310.6 L1099.0,301.9 L1099.5,294.0 L1100.0,287.0 L1100.5,281.1 L1101.0,276.7 L1101.5,273.7 L1102.0,271.8 L1102.5,270.8 L1103.0,270.5 L1103.5,270.6 L1104.0,270.9 L1104.5,271.4 L1105.0,272.1 L1105.5,272.9 L1106.0,274.0 L1106.5,275.4 L1107.0,277.1 L1107.5,279.1 L1108.0,281.5 L1108.5,283.9 L1109.0,286.3 L1109.5,288.8 L1110.0,291.4 L1110.5,294.2 L1111.0,297.2 L1111.5,300.5 L1112.0,304.3 L1112.5,308.5 L1113.0,313.3 L1113.5,318.7 L1114.0,324.6 L1114.5,330.6 L1115.0,336.5 L1115.5,342.5 L1116.0,348.5 L1116.5,354.5 L1117.0,360.4 L1117.5,366.4 L1118.0,372.4 L1118.5,378.4 L1119.0,384.3 L1119.5,390.3 L1120.0,396.3 L1120.5,402.3 L1121.0,408.2 L1121.5,414.2 L1122.0,420.2 L1122.5,426.2 L1123.0,432.1 L1123.5,438.1 L1124.0,444.1 L1124.5,450.1 L1125.0,456.0 L1125.5,462.0 L1126.0,467.8 L1126.5,473.3 L1127.0,478.4 L1127.5,483.3 L1128.0,487.9 L1128.5,492.2 L1129.0,496.4 L1129.5,500.3 L1130.0,504.0 L1130.5,507.6 L1131.0,511.0 L1131.5,514.3 L1132.0,517.6 L1132.5,520.7 L1133.0,523.8 L1133.5,526.8 L1134.0,529.7 L1134.5,532.6 L1135.0,535.4 L1135.5,538.2 L1136.0,540.9 L1136.5,543.5 L1137.0,546.1 L1137.5,548.6 L1138.0,551.0 L1138.5,553.4 L1139.0,555.7 L1139.5,557.9 L1140.0,560.1 L1140.5,562.2 L1141.0,564.2 L1141.5,566.2 L1142.0,568.1 L1142.5,570.0 L1143.0,571.8 L1143.5,573.7 L1144.0,575.5 L1144.5,577.4 L1145.0,579.2 L1145.5,580.9 L1146.0,582.7 L1146.5,584.4 L1147.0,586.1 L1147.5,587.7 L1148.0,589.3 L1148.5,590.8 L1149.0,592.3 L1149.5,593.8 L1150.0,595.1 L1150.5,596.4 L1151.0,597.7 L1151.5,598.8 L1152.0,599.9 L1152.5,600.9 L1153.0,601.9 L1153.5,602.7 L1154.0,603.4 L1154.5,604.2 L1155.0,604.9 L1155.5,605.6 L1156.0,606.3 L1156.5,606.9 L1157.0,607.5 L1157.5,608.1 L1158.0,608.7 L1158.5,609.3 L1159.0,609.8 L1159.5,610.3 L1160.0,610.7 L1160.5,611.2 L1161.0,611.5 L1161.5,611.9 L1162.0,612.2 L1162.5,612.5 L1163.0,612.8 L1163.5,613.0 L1164.0,613.2 L1164.5,613.3 L1165.0,613.4 L1165.5,613.5 L1166.0,613.6 L1166.5,613.6 L1167.0,613.7 L1167.5,613.7 L1168.0,613.8 L1168.5,613.8 L1169.0,613.9 L1169.5,613.9 L1170.0,614.0 L1170.5,614.0 L1171.0,614.1 L1171.5,614.1 L1172.0,614.1 L1172.5,614.2 L1173.0,614.2 L1173.5,614.3 L1174.0,614.3 L1174.5,614.4 L1175.0,614.4 L1175.5,614.5 L1176.0,614.5 L1176.5,614.5 L1177.0,614.6 L1177.5,614.6 L1178.0,614.6 L1178.5,614.7 L1179.0,614.7 L1179.5,614.7 L1180.0,614.8 L1180.5,614.8 L1181.0,614.8 L1181.5,614.8 L1182.0,614.8 L1182.5,614.9 L1183.0,614.9 L1183.5,614.9 L1184.0,614.9 L1184.5,614.9 L1185.0,614.9 L1185.5,614.9 L1186.0,614.9 L1186.5,614.9 L1187.0,614.9 L1187.5,614.9 L1188.0,614.9 L1188.5,614.9 L1189.0,614.9 L1189.5,614.9 L1190.0,614.9 L1190.5,614.9 L1191.0,614.9 L1191.5,614.9 L1192.0,614.9 L1192.5,614.9 L1193.0,614.9 L1193.5,614.9 L1194.0,614.9 L1194.5,614.9 L1195.0,614.9 L1195.5,614.9 L1196.0,614.9 L1196.5,614.9 L1197.0,614.9 L1197.5,614.9 L1198.0,614.9 L1198.5,614.9 L1199.0,614.9 L1199.5,614.9" fill="none" stroke="#5a2a8a" stroke-width="2.8" stroke-linejoin="round"/>
<path d="M1058.0,614.9 L1058.5,614.9 L1059.0,614.9 L1059.5,614.9 L1060.0,614.9 L1060.5,614.9 L1061.0,614.9 L1061.5,614.9 L1062.0,614.8 L1062.5,614.8 L1063.0,614.7 L1063.5,614.6 L1064.0,614.5 L1064.5,614.4 L1065.0,614.3 L1065.5,614.2 L1066.0,614.0 L1066.5,613.8 L1067.0,613.5 L1067.5,613.2 L1068.0,612.9 L1068.5,612.5 L1069.0,612.1 L1069.5,611.3 L1070.0,609.7 L1070.5,607.4 L1071.0,604.4 L1071.5,601.1 L1072.0,597.4 L1072.5,593.7 L1073.0,590.0 L1073.5,586.2 L1074.0,582.1 L1074.5,577.4 L1075.0,571.9 L1075.5,565.5 L1076.0,558.0 L1076.5,549.3 L1077.0,539.2 L1077.5,527.4 L1078.0,512.7 L1078.5,495.7 L1079.0,477.4 L1079.5,458.7 L1080.0,440.5 L1080.5,423.9 L1081.0,409.5 L1081.5,395.7 L1082.0,382.2 L1082.5,368.9 L1083.0,355.9 L1083.5,343.1 L1084.0,330.7 L1084.5,318.6 L1085.0,307.0 L1085.5,295.8 L1086.0,285.2 L1086.5,275.2 L1087.0,265.8 L1087.5,257.0 L1088.0,249.0 L1088.5,242.8 L1089.0,238.6 L1089.5,235.9 L1090.0,234.4 L1090.5,233.4 L1091.0,232.4 L1091.5,231.9 L1092.0,232.4 L1092.5,234.5 L1093.0,238.5 L1093.5,245.1 L1094.0,254.5 L1094.5,264.5 L1095.0,274.6 L1095.5,284.7 L1096.0,294.8 L1096.5,304.9 L1097.0,315.0 L1097.5,325.0 L1098.0,335.1 L1098.5,345.1 L1099.0,355.2 L1099.5,365.2 L1100.0,375.2 L1100.5,385.2 L1101.0,395.2 L1101.5,405.1 L1102.0,415.0 L1102.5,424.3 L1103.0,432.6 L1103.5,440.1 L1104.0,446.7 L1104.5,452.7 L1105.0,458.2 L1105.5,463.3 L1106.0,468.1 L1106.5,472.7 L1107.0,477.2 L1107.5,481.7 L1108.0,486.5 L1108.5,491.3 L1109.0,496.1 L1109.5,500.8 L1110.0,505.5 L1110.5,510.2 L1111.0,514.7 L1111.5,519.2 L1112.0,523.4 L1112.5,527.6 L1113.0,531.5 L1113.5,535.2 L1114.0,538.6 L1114.5,541.8 L1115.0,544.8 L1115.5,547.5 L1116.0,550.2 L1116.5,552.8 L1117.0,555.3 L1117.5,557.8 L1118.0,560.1 L1118.5,562.4 L1119.0,564.6 L1119.5,566.7 L1120.0,568.7 L1120.5,570.6 L1121.0,572.5 L1121.5,574.2 L1122.0,575.9 L1122.5,577.6 L1123.0,579.1 L1123.5,580.6 L1124.0,582.1 L1124.5,583.5 L1125.0,585.0 L1125.5,586.4 L1126.0,587.9 L1126.5,589.3 L1127.0,590.6 L1127.5,592.0 L1128.0,593.3 L1128.5,594.6 L1129.0,595.8 L1129.5,597.0 L1130.0,598.1 L1130.5,599.2 L1131.0,600.3 L1131.5,601.2 L1132.0,602.2 L1132.5,603.0 L1133.0,603.8 L1133.5,604.6 L1134.0,605.4 L1134.5,606.2 L1135.0,606.9 L1135.5,607.7 L1136.0,608.4 L1136.5,609.1 L1137.0,609.7 L1137.5,610.3 L1138.0,610.9 L1138.5,611.4 L1139.0,611.9 L1139.5,612.3 L1140.0,612.7 L1140.5,613.0 L1141.0,613.2 L1141.5,613.4 L1142.0,613.5 L1142.5,613.6 L1143.0,613.6 L1143.5,613.7 L1144.0,613.8 L1144.5,613.8 L1145.0,613.9 L1145.5,613.9 L1146.0,614.0 L1146.5,614.0 L1147.0,614.1 L1147.5,614.2 L1148.0,614.2 L1148.5,614.3 L1149.0,614.3 L1149.5,614.4 L1150.0,614.4 L1150.5,614.4 L1151.0,614.5 L1151.5,614.5 L1152.0,614.6 L1152.5,614.6 L1153.0,614.6 L1153.5,614.7 L1154.0,614.7 L1154.5,614.7 L1155.0,614.8 L1155.5,614.8 L1156.0,614.8 L1156.5,614.8 L1157.0,614.8 L1157.5,614.9 L1158.0,614.9 L1158.5,614.9 L1159.0,614.9 L1159.5,614.9 L1160.0,614.9 L1160.5,614.9 L1161.0,614.9 L1161.5,614.9 L1162.0,614.9 L1162.5,614.9 L1163.0,614.9 L1163.5,614.9 L1164.0,614.9 L1164.5,614.9 L1165.0,614.9 L1165.5,614.9 L1166.0,614.9 L1166.5,614.9 L1167.0,614.9 L1167.5,614.9 L1168.0,614.9 L1168.5,614.9 L1169.0,614.9 L1169.5,614.9" fill="none" stroke="#1d4f84" stroke-width="2.8" stroke-linejoin="round"/>
<path d="M176.0,1261.9 L176.0,1261.9 L178.1,1261.9 L178.1,1261.9 L180.2,1261.9 L180.2,1261.5 L182.4,1261.5 L182.4,1261.3 L184.5,1261.3 L184.5,1260.7 L186.6,1260.7 L186.6,1252.7 L188.7,1252.7 L188.7,1221.8 L190.8,1221.8 L190.8,1112.6 L193.0,1112.6 L193.0,1128.0 L195.1,1128.0 L195.1,1100.6 L197.2,1100.6 L197.2,1104.0 L199.3,1104.0 L199.3,1071.8 L201.4,1071.8 L201.4,1094.3 L203.6,1094.3 L203.6,1133.6 L205.7,1133.6 L205.7,1147.6 L207.8,1147.6 L207.8,1146.8 L209.9,1146.8 L209.9,1175.4 L212.0,1175.4 L212.0,1201.1 L214.2,1201.1 L214.2,1197.7 L216.3,1197.7 L216.3,1214.9 L218.4,1214.9 L218.4,1217.7 L220.5,1217.7 L220.5,1232.0 L222.6,1232.0 L222.6,1231.8 L224.8,1231.8 L224.8,1254.5 L226.9,1254.5 L226.9,1256.9 L229.0,1256.9 L229.0,1259.8 L231.1,1259.8 L231.1,1259.8 L233.2,1259.8 L233.2,1261.6 L235.4,1261.6 L235.4,1261.8 L237.5,1261.8 L237.5,1261.9 L239.6,1261.9 L239.6,1261.9 L241.7,1261.9 L241.7,1261.9 L243.8,1261.9 L243.8,1261.9 L246.0,1261.9 L246.0,1261.9 L248.1,1261.9 L248.1,1261.9 L250.2,1261.9 L250.2,1261.9 L252.3,1261.9 L252.3,1261.9 L254.4,1261.9 L254.4,1261.9 L256.6,1261.9 L256.6,1261.9 L258.7,1261.9 L258.7,1261.9 L260.8,1261.9 L260.8,1261.9 L262.9,1261.9 L262.9,1261.9 L265.0,1261.9 L265.0,1261.9 L267.2,1261.9 L267.2,1261.9 L269.3,1261.9 L269.3,1261.9 L271.4,1261.9 L271.4,1261.9 L273.5,1261.9 L273.5,1261.9 L275.6,1261.9 L275.6,1261.9 L277.8,1261.9 L277.8,1261.9 L279.9,1261.9 L279.9,1261.9 L282.0,1261.9 L282.0,1261.9 L284.1,1261.9 L284.1,1261.9 L286.2,1261.9 L286.2,1261.9 L288.4,1261.9 L288.4,1261.9 L290.5,1261.9 L290.5,1261.9 L292.6,1261.9 L292.6,1261.9 L294.7,1261.9 L294.7,1261.9 L296.8,1261.9 L296.8,1261.9 L299.0,1261.9 L299.0,1261.9 Z" fill="#5ab4ec"/>
<path d="M176.0,1261.9 L176.0,1261.7 L178.1,1261.7 L178.1,1261.1 L180.2,1261.1 L180.2,1259.9 L182.4,1259.9 L182.4,1234.9 L184.5,1234.9 L184.5,1202.2 L186.6,1202.2 L186.6,1099.2 L188.7,1099.2 L188.7,1041.1 L190.8,1041.1 L190.8,939.9 L193.0,939.9 L193.0,942.3 L195.1,942.3 L195.1,952.5 L197.2,952.5 L197.2,921.3 L199.3,921.3 L199.3,925.0 L201.4,925.0 L201.4,907.2 L203.6,907.2 L203.6,963.6 L205.7,963.6 L205.7,1013.6 L207.8,1013.6 L207.8,1057.5 L209.9,1057.5 L209.9,1016.6 L212.0,1016.6 L212.0,1106.9 L214.2,1106.9 L214.2,1108.4 L216.3,1108.4 L216.3,1128.7 L218.4,1128.7 L218.4,1139.1 L220.5,1139.1 L220.5,1169.8 L222.6,1169.8 L222.6,1169.4 L224.8,1169.4 L224.8,1219.4 L226.9,1219.4 L226.9,1229.8 L229.0,1229.8 L229.0,1240.1 L231.1,1240.1 L231.1,1245.0 L233.2,1245.0 L233.2,1253.4 L235.4,1253.4 L235.4,1255.8 L237.5,1255.8 L237.5,1259.0 L239.6,1259.0 L239.6,1259.9 L241.7,1259.9 L241.7,1260.3 L243.8,1260.3 L243.8,1260.8 L246.0,1260.8 L246.0,1261.6 L248.1,1261.6 L248.1,1261.8 L250.2,1261.8 L250.2,1261.9 L252.3,1261.9 L252.3,1261.9 L254.4,1261.9 L254.4,1261.9 L256.6,1261.9 L256.6,1261.9 L258.7,1261.9 L258.7,1261.9 L260.8,1261.9 L260.8,1261.9 L262.9,1261.9 L262.9,1261.9 L265.0,1261.9 L265.0,1261.9 L267.2,1261.9 L267.2,1261.9 L269.3,1261.9 L269.3,1261.9 L271.4,1261.9 L271.4,1261.9 L273.5,1261.9 L273.5,1261.9 L275.6,1261.9 L275.6,1261.9 L277.8,1261.9 L277.8,1261.9 L279.9,1261.9 L279.9,1261.9 L282.0,1261.9 L282.0,1261.9 L284.1,1261.9 L284.1,1261.9 L286.2,1261.9 L286.2,1261.9 L288.4,1261.9 L288.4,1261.9 L290.5,1261.9 L290.5,1261.9 L292.6,1261.9 L292.6,1261.9 L294.7,1261.9 L294.7,1261.9 L296.8,1261.9 L296.8,1261.9 L299.0,1261.9 L299.0,1261.9 Z" fill="#5ee07a"/>
<path d="M176.0,1261.9 L176.0,1261.9 L178.1,1261.9 L178.1,1261.9 L180.2,1261.9 L180.2,1261.9 L182.4,1261.9 L182.4,1261.9 L184.5,1261.9 L184.5,1260.6 L186.6,1260.6 L186.6,1257.7 L188.7,1257.7 L188.7,1229.7 L190.8,1229.7 L190.8,1199.3 L193.0,1199.3 L193.0,1186.7 L195.1,1186.7 L195.1,1127.7 L197.2,1127.7 L197.2,1054.8 L199.3,1054.8 L199.3,949.5 L201.4,949.5 L201.4,969.9 L203.6,969.9 L203.6,962.3 L205.7,962.3 L205.7,968.1 L207.8,968.1 L207.8,932.2 L209.9,932.2 L209.9,949.6 L212.0,949.6 L212.0,995.1 L214.2,995.1 L214.2,1015.7 L216.3,1015.7 L216.3,1011.8 L218.4,1011.8 L218.4,1056.4 L220.5,1056.4 L220.5,1088.1 L222.6,1088.1 L222.6,1157.6 L224.8,1157.6 L224.8,1149.6 L226.9,1149.6 L226.9,1182.9 L229.0,1182.9 L229.0,1196.2 L231.1,1196.2 L231.1,1212.2 L233.2,1212.2 L233.2,1222.8 L235.4,1222.8 L235.4,1237.1 L237.5,1237.1 L237.5,1249.1 L239.6,1249.1 L239.6,1234.6 L241.7,1234.6 L241.7,1255.0 L243.8,1255.0 L243.8,1252.2 L246.0,1252.2 L246.0,1258.8 L248.1,1258.8 L248.1,1260.5 L250.2,1260.5 L250.2,1260.4 L252.3,1260.4 L252.3,1261.4 L254.4,1261.4 L254.4,1261.5 L256.6,1261.5 L256.6,1261.4 L258.7,1261.4 L258.7,1261.7 L260.8,1261.7 L260.8,1261.8 L262.9,1261.8 L262.9,1261.9 L265.0,1261.9 L265.0,1261.9 L267.2,1261.9 L267.2,1261.9 L269.3,1261.9 L269.3,1261.9 L271.4,1261.9 L271.4,1261.9 L273.5,1261.9 L273.5,1261.9 L275.6,1261.9 L275.6,1261.9 L277.8,1261.9 L277.8,1261.9 L279.9,1261.9 L279.9,1261.9 L282.0,1261.9 L282.0,1261.9 L284.1,1261.9 L284.1,1261.9 L286.2,1261.9 L286.2,1261.9 L288.4,1261.9 L288.4,1261.9 L290.5,1261.9 L290.5,1261.9 L292.6,1261.9 L292.6,1261.9 L294.7,1261.9 L294.7,1261.9 L296.8,1261.9 L296.8,1261.9 L299.0,1261.9 L299.0,1261.9 Z" fill="#f3ad55"/>
<path d="M176.0,1261.9 L176.0,1261.9 L178.1,1261.9 L178.1,1261.9 L180.2,1261.9 L180.2,1261.5 L182.4,1261.5 L182.4,1261.3 L184.5,1261.3 L184.5,1260.7 L186.6,1260.7 L186.6,1252.7 L188.7,1252.7 L188.7,1221.8 L190.8,1221.8 L190.8,1112.6 L193.0,1112.6 L193.0,1128.0 L195.1,1128.0 L195.1,1100.6 L197.2,1100.6 L197.2,1104.0 L199.3,1104.0 L199.3,1071.8 L201.4,1071.8 L201.4,1094.3 L203.6,1094.3 L203.6,1133.6 L205.7,1133.6 L205.7,1147.6 L207.8,1147.6 L207.8,1146.8 L209.9,1146.8 L209.9,1175.4 L212.0,1175.4 L212.0,1201.1 L214.2,1201.1 L214.2,1197.7 L216.3,1197.7 L216.3,1214.9 L218.4,1214.9 L218.4,1217.7 L220.5,1217.7 L220.5,1232.0 L222.6,1232.0 L222.6,1231.8 L224.8,1231.8 L224.8,1254.5 L226.9,1254.5 L226.9,1256.9 L229.0,1256.9 L229.0,1259.8 L231.1,1259.8 L231.1,1259.8 L233.2,1259.8 L233.2,1261.6 L235.4,1261.6 L235.4,1261.8 L237.5,1261.8 L237.5,1261.9 L239.6,1261.9 L239.6,1261.9 L241.7,1261.9 L241.7,1261.9 L243.8,1261.9 L243.8,1261.9 L246.0,1261.9 L246.0,1261.9 L248.1,1261.9 L248.1,1261.9 L250.2,1261.9 L250.2,1261.9 L252.3,1261.9 L252.3,1261.9 L254.4,1261.9 L254.4,1261.9 L256.6,1261.9 L256.6,1261.9 L258.7,1261.9 L258.7,1261.9 L260.8,1261.9 L260.8,1261.9 L262.9,1261.9 L262.9,1261.9 L265.0,1261.9 L265.0,1261.9 L267.2,1261.9 L267.2,1261.9 L269.3,1261.9 L269.3,1261.9 L271.4,1261.9 L271.4,1261.9 L273.5,1261.9 L273.5,1261.9 L275.6,1261.9 L275.6,1261.9 L277.8,1261.9 L277.8,1261.9 L279.9,1261.9 L279.9,1261.9 L282.0,1261.9 L282.0,1261.9 L284.1,1261.9 L284.1,1261.9 L286.2,1261.9 L286.2,1261.9 L288.4,1261.9 L288.4,1261.9 L290.5,1261.9 L290.5,1261.9 L292.6,1261.9 L292.6,1261.9 L294.7,1261.9 L294.7,1261.9 L296.8,1261.9 L296.8,1261.9 L299.0,1261.9 L299.0,1261.9 Z" fill="#3cb496"/>
<path d="M176.0,1261.9 L176.0,1261.9 L178.1,1261.9 L178.1,1261.9 L180.2,1261.9 L180.2,1261.9 L182.4,1261.9 L182.4,1261.9 L184.5,1261.9 L184.5,1260.7 L186.6,1260.7 L186.6,1257.7 L188.7,1257.7 L188.7,1229.7 L190.8,1229.7 L190.8,1199.3 L193.0,1199.3 L193.0,1186.7 L195.1,1186.7 L195.1,1127.7 L197.2,1127.7 L197.2,1104.0 L199.3,1104.0 L199.3,1071.8 L201.4,1071.8 L201.4,1094.3 L203.6,1094.3 L203.6,1133.6 L205.7,1133.6 L205.7,1147.6 L207.8,1147.6 L207.8,1146.8 L209.9,1146.8 L209.9,1175.4 L212.0,1175.4 L212.0,1201.1 L214.2,1201.1 L214.2,1197.7 L216.3,1197.7 L216.3,1214.9 L218.4,1214.9 L218.4,1217.7 L220.5,1217.7 L220.5,1232.0 L222.6,1232.0 L222.6,1231.8 L224.8,1231.8 L224.8,1254.5 L226.9,1254.5 L226.9,1256.9 L229.0,1256.9 L229.0,1259.8 L231.1,1259.8 L231.1,1259.8 L233.2,1259.8 L233.2,1261.6 L235.4,1261.6 L235.4,1261.8 L237.5,1261.8 L237.5,1261.9 L239.6,1261.9 L239.6,1261.9 L241.7,1261.9 L241.7,1261.9 L243.8,1261.9 L243.8,1261.9 L246.0,1261.9 L246.0,1261.9 L248.1,1261.9 L248.1,1261.9 L250.2,1261.9 L250.2,1261.9 L252.3,1261.9 L252.3,1261.9 L254.4,1261.9 L254.4,1261.9 L256.6,1261.9 L256.6,1261.9 L258.7,1261.9 L258.7,1261.9 L260.8,1261.9 L260.8,1261.9 L262.9,1261.9 L262.9,1261.9 L265.0,1261.9 L265.0,1261.9 L267.2,1261.9 L267.2,1261.9 L269.3,1261.9 L269.3,1261.9 L271.4,1261.9 L271.4,1261.9 L273.5,1261.9 L273.5,1261.9 L275.6,1261.9 L275.6,1261.9 L277.8,1261.9 L277.8,1261.9 L279.9,1261.9 L279.9,1261.9 L282.0,1261.9 L282.0,1261.9 L284.1,1261.9 L284.1,1261.9 L286.2,1261.9 L286.2,1261.9 L288.4,1261.9 L288.4,1261.9 L290.5,1261.9 L290.5,1261.9 L292.6,1261.9 L292.6,1261.9 L294.7,1261.9 L294.7,1261.9 L296.8,1261.9 L296.8,1261.9 L299.0,1261.9 L299.0,1261.9 Z" fill="#6aa8b0"/>
<path d="M176.0,1261.9 L176.0,1261.9 L178.1,1261.9 L178.1,1261.9 L180.2,1261.9 L180.2,1261.9 L182.4,1261.9 L182.4,1261.9 L184.5,1261.9 L184.5,1260.6 L186.6,1260.6 L186.6,1257.7 L188.7,1257.7 L188.7,1229.7 L190.8,1229.7 L190.8,1199.3 L193.0,1199.3 L193.0,1186.7 L195.1,1186.7 L195.1,1127.7 L197.2,1127.7 L197.2,1054.8 L199.3,1054.8 L199.3,949.5 L201.4,949.5 L201.4,969.9 L203.6,969.9 L203.6,963.6 L205.7,963.6 L205.7,1013.6 L207.8,1013.6 L207.8,1057.5 L209.9,1057.5 L209.9,1016.6 L212.0,1016.6 L212.0,1106.9 L214.2,1106.9 L214.2,1108.4 L216.3,1108.4 L216.3,1128.7 L218.4,1128.7 L218.4,1139.1 L220.5,1139.1 L220.5,1169.8 L222.6,1169.8 L222.6,1169.4 L224.8,1169.4 L224.8,1219.4 L226.9,1219.4 L226.9,1229.8 L229.0,1229.8 L229.0,1240.1 L231.1,1240.1 L231.1,1245.0 L233.2,1245.0 L233.2,1253.4 L235.4,1253.4 L235.4,1255.8 L237.5,1255.8 L237.5,1259.0 L239.6,1259.0 L239.6,1259.9 L241.7,1259.9 L241.7,1260.3 L243.8,1260.3 L243.8,1260.8 L246.0,1260.8 L246.0,1261.6 L248.1,1261.6 L248.1,1261.8 L250.2,1261.8 L250.2,1261.9 L252.3,1261.9 L252.3,1261.9 L254.4,1261.9 L254.4,1261.9 L256.6,1261.9 L256.6,1261.9 L258.7,1261.9 L258.7,1261.9 L260.8,1261.9 L260.8,1261.9 L262.9,1261.9 L262.9,1261.9 L265.0,1261.9 L265.0,1261.9 L267.2,1261.9 L267.2,1261.9 L269.3,1261.9 L269.3,1261.9 L271.4,1261.9 L271.4,1261.9 L273.5,1261.9 L273.5,1261.9 L275.6,1261.9 L275.6,1261.9 L277.8,1261.9 L277.8,1261.9 L279.9,1261.9 L279.9,1261.9 L282.0,1261.9 L282.0,1261.9 L284.1,1261.9 L284.1,1261.9 L286.2,1261.9 L286.2,1261.9 L288.4,1261.9 L288.4,1261.9 L290.5,1261.9 L290.5,1261.9 L292.6,1261.9 L292.6,1261.9 L294.7,1261.9 L294.7,1261.9 L296.8,1261.9 L296.8,1261.9 L299.0,1261.9 L299.0,1261.9 Z" fill="#78d872"/>
<path d="M176.0,1261.9 L176.0,1261.9 L178.1,1261.9 L178.1,1261.9 L180.2,1261.9 L180.2,1261.9 L182.4,1261.9 L182.4,1261.9 L184.5,1261.9 L184.5,1260.7 L186.6,1260.7 L186.6,1257.7 L188.7,1257.7 L188.7,1229.7 L190.8,1229.7 L190.8,1199.3 L193.0,1199.3 L193.0,1186.7 L195.1,1186.7 L195.1,1127.7 L197.2,1127.7 L197.2,1104.0 L199.3,1104.0 L199.3,1071.8 L201.4,1071.8 L201.4,1094.3 L203.6,1094.3 L203.6,1133.6 L205.7,1133.6 L205.7,1147.6 L207.8,1147.6 L207.8,1146.8 L209.9,1146.8 L209.9,1175.4 L212.0,1175.4 L212.0,1201.1 L214.2,1201.1 L214.2,1197.7 L216.3,1197.7 L216.3,1214.9 L218.4,1214.9 L218.4,1217.7 L220.5,1217.7 L220.5,1232.0 L222.6,1232.0 L222.6,1231.8 L224.8,1231.8 L224.8,1254.5 L226.9,1254.5 L226.9,1256.9 L229.0,1256.9 L229.0,1259.8 L231.1,1259.8 L231.1,1259.8 L233.2,1259.8 L233.2,1261.6 L235.4,1261.6 L235.4,1261.8 L237.5,1261.8 L237.5,1261.9 L239.6,1261.9 L239.6,1261.9 L241.7,1261.9 L241.7,1261.9 L243.8,1261.9 L243.8,1261.9 L246.0,1261.9 L246.0,1261.9 L248.1,1261.9 L248.1,1261.9 L250.2,1261.9 L250.2,1261.9 L252.3,1261.9 L252.3,1261.9 L254.4,1261.9 L254.4,1261.9 L256.6,1261.9 L256.6,1261.9 L258.7,1261.9 L258.7,1261.9 L260.8,1261.9 L260.8,1261.9 L262.9,1261.9 L262.9,1261.9 L265.0,1261.9 L265.0,1261.9 L267.2,1261.9 L267.2,1261.9 L269.3,1261.9 L269.3,1261.9 L271.4,1261.9 L271.4,1261.9 L273.5,1261.9 L273.5,1261.9 L275.6,1261.9 L275.6,1261.9 L277.8,1261.9 L277.8,1261.9 L279.9,1261.9 L279.9,1261.9 L282.0,1261.9 L282.0,1261.9 L284.1,1261.9 L284.1,1261.9 L286.2,1261.9 L286.2,1261.9 L288.4,1261.9 L288.4,1261.9 L290.5,1261.9 L290.5,1261.9 L292.6,1261.9 L292.6,1261.9 L294.7,1261.9 L294.7,1261.9 L296.8,1261.9 L296.8,1261.9 L299.0,1261.9 L299.0,1261.9 Z" fill="#3cb496"/>
<path d="M180.0,1261.9 L180.5,1261.9 L181.0,1261.9 L181.5,1261.9 L182.0,1261.9 L182.5,1261.9 L183.0,1261.9 L183.5,1261.9 L184.0,1261.8 L184.5,1261.6 L185.0,1261.4 L185.5,1261.2 L186.0,1261.0 L186.5,1260.7 L187.0,1260.1 L187.5,1259.3 L188.0,1258.4 L188.5,1257.3 L189.0,1255.7 L189.5,1253.6 L190.0,1250.9 L190.5,1247.5 L191.0,1243.4 L191.5,1238.5 L192.0,1232.8 L192.5,1226.2 L193.0,1218.6 L193.5,1210.0 L194.0,1200.3 L194.5,1189.6 L195.0,1178.2 L195.5,1166.5 L196.0,1154.3 L196.5,1141.8 L197.0,1129.1 L197.5,1116.2 L198.0,1103.2 L198.5,1090.1 L199.0,1076.7 L199.5,1063.0 L200.0,1049.3 L200.5,1035.6 L201.0,1022.1 L201.5,1009.0 L202.0,997.0 L202.5,986.0 L203.0,976.0 L203.5,966.9 L204.0,958.5 L204.5,950.8 L205.0,944.1 L205.5,939.0 L206.0,935.3 L206.5,932.9 L207.0,931.7 L207.5,931.3 L208.0,931.4 L208.5,932.1 L209.0,933.8 L209.5,936.6 L210.0,940.9 L210.5,946.8 L211.0,953.7 L211.5,960.7 L212.0,967.8 L212.5,975.1 L213.0,982.4 L213.5,989.9 L214.0,997.5 L214.5,1005.1 L215.0,1012.7 L215.5,1020.3 L216.0,1027.9 L216.5,1035.5 L217.0,1043.1 L217.5,1050.7 L218.0,1058.2 L218.5,1065.7 L219.0,1073.2 L219.5,1080.7 L220.0,1088.1 L220.5,1095.4 L221.0,1102.8 L221.5,1110.1 L222.0,1117.3 L222.5,1124.2 L223.0,1130.7 L223.5,1137.0 L224.0,1143.0 L224.5,1148.8 L225.0,1154.4 L225.5,1159.9 L226.0,1165.3 L226.5,1170.6 L227.0,1175.9 L227.5,1181.1 L228.0,1186.1 L228.5,1190.9 L229.0,1195.6 L229.5,1200.1 L230.0,1204.3 L230.5,1208.4 L231.0,1212.3 L231.5,1216.0 L232.0,1219.4 L232.5,1222.7 L233.0,1225.7 L233.5,1228.6 L234.0,1231.3 L234.5,1234.0 L235.0,1236.5 L235.5,1238.9 L236.0,1241.1 L236.5,1243.2 L237.0,1245.2 L237.5,1247.0 L238.0,1248.6 L238.5,1250.1 L239.0,1251.5 L239.5,1252.6 L240.0,1253.6 L240.5,1254.3 L241.0,1254.9 L241.5,1255.4 L242.0,1255.8 L242.5,1256.3 L243.0,1256.8 L243.5,1257.2 L244.0,1257.6 L244.5,1258.0 L245.0,1258.4 L245.5,1258.8 L246.0,1259.1 L246.5,1259.5 L247.0,1259.8 L247.5,1260.1 L248.0,1260.3 L248.5,1260.6 L249.0,1260.7 L249.5,1260.9 L250.0,1261.0 L250.5,1261.1 L251.0,1261.2 L251.5,1261.2 L252.0,1261.3 L252.5,1261.3 L253.0,1261.3 L253.5,1261.4 L254.0,1261.4 L254.5,1261.4 L255.0,1261.5 L255.5,1261.5 L256.0,1261.5 L256.5,1261.5 L257.0,1261.6 L257.5,1261.6 L258.0,1261.6 L258.5,1261.7 L259.0,1261.7 L259.5,1261.7 L260.0,1261.8 L260.5,1261.8 L261.0,1261.8 L261.5,1261.8 L262.0,1261.8 L262.5,1261.9 L263.0,1261.9 L263.5,1261.9 L264.0,1261.9 L264.5,1261.9 L265.0,1261.9 L265.5,1261.9 L266.0,1261.9 L266.5,1261.9 L267.0,1261.9 L267.5,1261.9 L268.0,1261.9 L268.5,1261.9 L269.0,1261.9 L269.5,1261.9 L270.0,1261.9 L270.5,1261.9 L271.0,1261.9 L271.5,1261.9 L272.0,1261.9 L272.5,1261.9 L273.0,1261.9 L273.5,1261.9 L274.0,1261.9 L274.5,1261.9" fill="none" stroke="#5c3c12" stroke-width="2.8" stroke-linejoin="round"/>
<path d="M174.0,1261.9 L174.5,1261.9 L175.0,1261.9 L175.5,1261.9 L176.0,1261.9 L176.5,1261.9 L177.0,1261.9 L177.5,1261.8 L178.0,1261.6 L178.5,1261.5 L179.0,1261.3 L179.5,1261.1 L180.0,1261.0 L180.5,1260.8 L181.0,1260.4 L181.5,1259.9 L182.0,1259.3 L182.5,1258.2 L183.0,1255.5 L183.5,1251.0 L184.0,1244.6 L184.5,1236.4 L185.0,1226.2 L185.5,1214.2 L186.0,1200.2 L186.5,1184.5 L187.0,1168.4 L187.5,1152.2 L188.0,1135.8 L188.5,1119.3 L189.0,1102.7 L189.5,1086.0 L190.0,1069.1 L190.5,1052.1 L191.0,1035.0 L191.5,1018.0 L192.0,1001.3 L192.5,985.1 L193.0,971.3 L193.5,959.8 L194.0,950.3 L194.5,942.1 L195.0,934.7 L195.5,927.8 L196.0,921.9 L196.5,917.4 L197.0,914.8 L197.5,914.4 L198.0,915.1 L198.5,916.4 L199.0,918.6 L199.5,921.8 L200.0,926.1 L200.5,931.7 L201.0,937.8 L201.5,943.9 L202.0,950.1 L202.5,956.2 L203.0,962.4 L203.5,968.6 L204.0,974.9 L204.5,981.2 L205.0,987.6 L205.5,994.0 L206.0,1000.5 L206.5,1006.9 L207.0,1013.3 L207.5,1019.6 L208.0,1025.8 L208.5,1031.9 L209.0,1037.9 L209.5,1043.8 L210.0,1049.8 L210.5,1055.7 L211.0,1061.7 L211.5,1067.7 L212.0,1073.6 L212.5,1079.6 L213.0,1085.5 L213.5,1091.5 L214.0,1097.5 L214.5,1103.4 L215.0,1109.4 L215.5,1115.4 L216.0,1121.3 L216.5,1127.3 L217.0,1133.2 L217.5,1139.2 L218.0,1145.2 L218.5,1151.1 L219.0,1157.0 L219.5,1162.7 L220.0,1168.1 L220.5,1173.3 L221.0,1178.2 L221.5,1183.0 L222.0,1187.6 L222.5,1192.0 L223.0,1196.4 L223.5,1200.6 L224.0,1204.7 L224.5,1208.7 L225.0,1212.7 L225.5,1216.5 L226.0,1220.1 L226.5,1223.6 L227.0,1226.8 L227.5,1229.9 L228.0,1232.8 L228.5,1235.5 L229.0,1237.9 L229.5,1240.1 L230.0,1242.1 L230.5,1243.9 L231.0,1245.4 L231.5,1246.8 L232.0,1248.2 L232.5,1249.5 L233.0,1250.8 L233.5,1252.0 L234.0,1253.1 L234.5,1254.1 L235.0,1255.1 L235.5,1256.0 L236.0,1256.8 L236.5,1257.5 L237.0,1258.1 L237.5,1258.6 L238.0,1259.0 L238.5,1259.3 L239.0,1259.5 L239.5,1259.7 L240.0,1259.8 L240.5,1260.0 L241.0,1260.1 L241.5,1260.3 L242.0,1260.4 L242.5,1260.6 L243.0,1260.7 L243.5,1260.8 L244.0,1261.0 L244.5,1261.1 L245.0,1261.2 L245.5,1261.3 L246.0,1261.4 L246.5,1261.5 L247.0,1261.6 L247.5,1261.7 L248.0,1261.7 L248.5,1261.8 L249.0,1261.8 L249.5,1261.9 L250.0,1261.9 L250.5,1261.9 L251.0,1261.9 L251.5,1261.9 L252.0,1261.9 L252.5,1261.9 L253.0,1261.9 L253.5,1261.9 L254.0,1261.9 L254.5,1261.9 L255.0,1261.9 L255.5,1261.9 L256.0,1261.9 L256.5,1261.9 L257.0,1261.9 L257.5,1261.9 L258.0,1261.9 L258.5,1261.9 L259.0,1261.9 L259.5,1261.9" fill="none" stroke="#16682a" stroke-width="2.8" stroke-linejoin="round"/>
<path d="M178.0,1261.9 L178.5,1261.9 L179.0,1261.9 L179.5,1261.9 L180.0,1261.9 L180.5,1261.9 L181.0,1261.9 L181.5,1261.9 L182.0,1261.9 L182.5,1261.9 L183.0,1261.8 L183.5,1261.6 L184.0,1261.4 L184.5,1261.2 L185.0,1261.0 L185.5,1260.9 L186.0,1260.6 L186.5,1260.0 L187.0,1258.8 L187.5,1256.3 L188.0,1251.8 L188.5,1245.5 L189.0,1237.7 L189.5,1228.9 L190.0,1219.4 L190.5,1209.5 L191.0,1199.7 L191.5,1190.2 L192.0,1180.1 L192.5,1169.6 L193.0,1159.0 L193.5,1148.6 L194.0,1138.8 L194.5,1129.9 L195.0,1121.9 L195.5,1114.7 L196.0,1108.2 L196.5,1102.3 L197.0,1096.8 L197.5,1091.7 L198.0,1087.5 L198.5,1084.6 L199.0,1082.9 L199.5,1082.7 L200.0,1083.7 L200.5,1085.9 L201.0,1089.2 L201.5,1093.3 L202.0,1098.4 L202.5,1104.1 L203.0,1111.8 L203.5,1121.1 L204.0,1131.0 L204.5,1140.4 L205.0,1148.3 L205.5,1153.5 L206.0,1157.0 L206.5,1160.5 L207.0,1163.8 L207.5,1167.0 L208.0,1170.1 L208.5,1173.1 L209.0,1176.0 L209.5,1178.8 L210.0,1181.5 L210.5,1184.0 L211.0,1186.5 L211.5,1189.0 L212.0,1191.5 L212.5,1194.0 L213.0,1196.5 L213.5,1199.0 L214.0,1201.4 L214.5,1203.9 L215.0,1206.4 L215.5,1208.9 L216.0,1211.4 L216.5,1213.9 L217.0,1216.4 L217.5,1218.9 L218.0,1221.4 L218.5,1223.9 L219.0,1226.4 L219.5,1228.9 L220.0,1231.3 L220.5,1233.8 L221.0,1236.3 L221.5,1238.8 L222.0,1241.3 L222.5,1243.8 L223.0,1246.2 L223.5,1248.4 L224.0,1250.3 L224.5,1252.0 L225.0,1253.4 L225.5,1254.7 L226.0,1255.7 L226.5,1256.6 L227.0,1257.3 L227.5,1257.9 L228.0,1258.4 L228.5,1258.8 L229.0,1259.1 L229.5,1259.4 L230.0,1259.8 L230.5,1260.0 L231.0,1260.3 L231.5,1260.6 L232.0,1260.8 L232.5,1261.0 L233.0,1261.2 L233.5,1261.4 L234.0,1261.5 L234.5,1261.7 L235.0,1261.8 L235.5,1261.9 L236.0,1261.9 L236.5,1261.9 L237.0,1261.9 L237.5,1261.9 L238.0,1261.9 L238.5,1261.9 L239.0,1261.9 L239.5,1261.9 L240.0,1261.9 L240.5,1261.9 L241.0,1261.9 L241.5,1261.9 L242.0,1261.9 L242.5,1261.9 L243.0,1261.9 L243.5,1261.9 L244.0,1261.9 L244.5,1261.9" fill="none" stroke="#1c5a96" stroke-width="2.8" stroke-linejoin="round"/>
<path d="M1058.0,1261.2 L1058.0,1261.1 L1060.1,1261.1 L1060.1,1260.6 L1062.2,1260.6 L1062.2,1259.0 L1064.4,1259.0 L1064.4,1231.4 L1066.5,1231.4 L1066.5,1237.0 L1068.6,1237.0 L1068.6,1220.2 L1070.7,1220.2 L1070.7,1192.7 L1072.8,1192.7 L1072.8,1187.4 L1075.0,1187.4 L1075.0,1190.7 L1077.1,1190.7 L1077.1,1199.7 L1079.2,1199.7 L1079.2,1222.2 L1081.3,1222.2 L1081.3,1244.4 L1083.4,1244.4 L1083.4,1257.0 L1085.6,1257.0 L1085.6,1255.0 L1087.7,1255.0 L1087.7,1259.1 L1089.8,1259.1 L1089.8,1260.8 L1091.9,1260.8 L1091.9,1261.2 L1094.0,1261.2 L1094.0,1261.2 L1096.2,1261.2 L1096.2,1261.2 L1098.3,1261.2 L1098.3,1261.2 L1100.4,1261.2 L1100.4,1261.2 L1102.5,1261.2 L1102.5,1261.2 L1104.6,1261.2 L1104.6,1261.2 L1106.8,1261.2 L1106.8,1261.2 L1108.9,1261.2 L1108.9,1261.2 L1111.0,1261.2 L1111.0,1261.2 L1113.1,1261.2 L1113.1,1261.2 L1115.2,1261.2 L1115.2,1261.2 L1117.4,1261.2 L1117.4,1261.2 L1119.5,1261.2 L1119.5,1261.2 L1121.6,1261.2 L1121.6,1261.2 L1123.7,1261.2 L1123.7,1261.2 L1125.8,1261.2 L1125.8,1261.2 L1128.0,1261.2 L1128.0,1261.2 Z" fill="#3c8ad6"/>
<path d="M1058.0,1261.2 L1058.0,1261.2 L1060.1,1261.2 L1060.1,1261.2 L1062.2,1261.2 L1062.2,1261.2 L1064.4,1261.2 L1064.4,1261.1 L1066.5,1261.1 L1066.5,1258.0 L1068.6,1258.0 L1068.6,1255.0 L1070.7,1255.0 L1070.7,1247.7 L1072.8,1247.7 L1072.8,1247.5 L1075.0,1247.5 L1075.0,1243.9 L1077.1,1243.9 L1077.1,1248.4 L1079.2,1248.4 L1079.2,1254.9 L1081.3,1254.9 L1081.3,1259.4 L1083.4,1259.4 L1083.4,1259.7 L1085.6,1259.7 L1085.6,1261.2 L1087.7,1261.2 L1087.7,1261.2 L1089.8,1261.2 L1089.8,1261.2 L1091.9,1261.2 L1091.9,1261.2 L1094.0,1261.2 L1094.0,1261.2 L1096.2,1261.2 L1096.2,1261.2 L1098.3,1261.2 L1098.3,1261.2 L1100.4,1261.2 L1100.4,1261.2 L1102.5,1261.2 L1102.5,1261.2 L1104.6,1261.2 L1104.6,1261.2 L1106.8,1261.2 L1106.8,1261.2 L1108.9,1261.2 L1108.9,1261.2 L1111.0,1261.2 L1111.0,1261.2 L1113.1,1261.2 L1113.1,1261.2 L1115.2,1261.2 L1115.2,1261.2 L1117.4,1261.2 L1117.4,1261.2 L1119.5,1261.2 L1119.5,1261.2 L1121.6,1261.2 L1121.6,1261.2 L1123.7,1261.2 L1123.7,1261.2 L1125.8,1261.2 L1125.8,1261.2 L1128.0,1261.2 L1128.0,1261.2 Z" fill="#3cd24c"/>
<path d="M1058.0,1261.2 L1058.0,1261.2 L1060.1,1261.2 L1060.1,1261.2 L1062.2,1261.2 L1062.2,1260.6 L1064.4,1260.6 L1064.4,1256.6 L1066.5,1256.6 L1066.5,1247.1 L1068.6,1247.1 L1068.6,1207.4 L1070.7,1207.4 L1070.7,1195.5 L1072.8,1195.5 L1072.8,1125.9 L1075.0,1125.9 L1075.0,1079.5 L1077.1,1079.5 L1077.1,1075.7 L1079.2,1075.7 L1079.2,1091.5 L1081.3,1091.5 L1081.3,1089.1 L1083.4,1089.1 L1083.4,1136.2 L1085.6,1136.2 L1085.6,1191.8 L1087.7,1191.8 L1087.7,1198.1 L1089.8,1198.1 L1089.8,1225.4 L1091.9,1225.4 L1091.9,1248.0 L1094.0,1248.0 L1094.0,1250.5 L1096.2,1250.5 L1096.2,1256.8 L1098.3,1256.8 L1098.3,1259.9 L1100.4,1259.9 L1100.4,1260.1 L1102.5,1260.1 L1102.5,1260.6 L1104.6,1260.6 L1104.6,1261.0 L1106.8,1261.0 L1106.8,1261.0 L1108.9,1261.0 L1108.9,1261.2 L1111.0,1261.2 L1111.0,1261.2 L1113.1,1261.2 L1113.1,1261.2 L1115.2,1261.2 L1115.2,1261.2 L1117.4,1261.2 L1117.4,1261.2 L1119.5,1261.2 L1119.5,1261.2 L1121.6,1261.2 L1121.6,1261.2 L1123.7,1261.2 L1123.7,1261.2 L1125.8,1261.2 L1125.8,1261.2 L1128.0,1261.2 L1128.0,1261.2 Z" fill="#f2bd62"/>
<path d="M1058.0,1261.2 L1058.0,1261.2 L1060.1,1261.2 L1060.1,1261.2 L1062.2,1261.2 L1062.2,1261.2 L1064.4,1261.2 L1064.4,1261.1 L1066.5,1261.1 L1066.5,1258.0 L1068.6,1258.0 L1068.6,1255.0 L1070.7,1255.0 L1070.7,1247.7 L1072.8,1247.7 L1072.8,1247.5 L1075.0,1247.5 L1075.0,1243.9 L1077.1,1243.9 L1077.1,1248.4 L1079.2,1248.4 L1079.2,1254.9 L1081.3,1254.9 L1081.3,1259.4 L1083.4,1259.4 L1083.4,1259.7 L1085.6,1259.7 L1085.6,1261.2 L1087.7,1261.2 L1087.7,1261.2 L1089.8,1261.2 L1089.8,1261.2 L1091.9,1261.2 L1091.9,1261.2 L1094.0,1261.2 L1094.0,1261.2 L1096.2,1261.2 L1096.2,1261.2 L1098.3,1261.2 L1098.3,1261.2 L1100.4,1261.2 L1100.4,1261.2 L1102.5,1261.2 L1102.5,1261.2 L1104.6,1261.2 L1104.6,1261.2 L1106.8,1261.2 L1106.8,1261.2 L1108.9,1261.2 L1108.9,1261.2 L1111.0,1261.2 L1111.0,1261.2 L1113.1,1261.2 L1113.1,1261.2 L1115.2,1261.2 L1115.2,1261.2 L1117.4,1261.2 L1117.4,1261.2 L1119.5,1261.2 L1119.5,1261.2 L1121.6,1261.2 L1121.6,1261.2 L1123.7,1261.2 L1123.7,1261.2 L1125.8,1261.2 L1125.8,1261.2 L1128.0,1261.2 L1128.0,1261.2 Z" fill="#3cb46a"/>
<path d="M1058.0,1261.2 L1058.0,1261.2 L1060.1,1261.2 L1060.1,1261.2 L1062.2,1261.2 L1062.2,1260.6 L1064.4,1260.6 L1064.4,1256.6 L1066.5,1256.6 L1066.5,1247.1 L1068.6,1247.1 L1068.6,1220.2 L1070.7,1220.2 L1070.7,1195.5 L1072.8,1195.5 L1072.8,1187.4 L1075.0,1187.4 L1075.0,1190.7 L1077.1,1190.7 L1077.1,1199.7 L1079.2,1199.7 L1079.2,1222.2 L1081.3,1222.2 L1081.3,1244.4 L1083.4,1244.4 L1083.4,1257.0 L1085.6,1257.0 L1085.6,1255.0 L1087.7,1255.0 L1087.7,1259.1 L1089.8,1259.1 L1089.8,1260.8 L1091.9,1260.8 L1091.9,1261.2 L1094.0,1261.2 L1094.0,1261.2 L1096.2,1261.2 L1096.2,1261.2 L1098.3,1261.2 L1098.3,1261.2 L1100.4,1261.2 L1100.4,1261.2 L1102.5,1261.2 L1102.5,1261.2 L1104.6,1261.2 L1104.6,1261.2 L1106.8,1261.2 L1106.8,1261.2 L1108.9,1261.2 L1108.9,1261.2 L1111.0,1261.2 L1111.0,1261.2 L1113.1,1261.2 L1113.1,1261.2 L1115.2,1261.2 L1115.2,1261.2 L1117.4,1261.2 L1117.4,1261.2 L1119.5,1261.2 L1119.5,1261.2 L1121.6,1261.2 L1121.6,1261.2 L1123.7,1261.2 L1123.7,1261.2 L1125.8,1261.2 L1125.8,1261.2 L1128.0,1261.2 L1128.0,1261.2 Z" fill="#c8a058"/>
<path d="M1058.0,1261.2 L1058.0,1261.2 L1060.1,1261.2 L1060.1,1261.2 L1062.2,1261.2 L1062.2,1261.2 L1064.4,1261.2 L1064.4,1261.1 L1066.5,1261.1 L1066.5,1258.0 L1068.6,1258.0 L1068.6,1255.0 L1070.7,1255.0 L1070.7,1247.7 L1072.8,1247.7 L1072.8,1247.5 L1075.0,1247.5 L1075.0,1243.9 L1077.1,1243.9 L1077.1,1248.4 L1079.2,1248.4 L1079.2,1254.9 L1081.3,1254.9 L1081.3,1259.4 L1083.4,1259.4 L1083.4,1259.7 L1085.6,1259.7 L1085.6,1261.2 L1087.7,1261.2 L1087.7,1261.2 L1089.8,1261.2 L1089.8,1261.2 L1091.9,1261.2 L1091.9,1261.2 L1094.0,1261.2 L1094.0,1261.2 L1096.2,1261.2 L1096.2,1261.2 L1098.3,1261.2 L1098.3,1261.2 L1100.4,1261.2 L1100.4,1261.2 L1102.5,1261.2 L1102.5,1261.2 L1104.6,1261.2 L1104.6,1261.2 L1106.8,1261.2 L1106.8,1261.2 L1108.9,1261.2 L1108.9,1261.2 L1111.0,1261.2 L1111.0,1261.2 L1113.1,1261.2 L1113.1,1261.2 L1115.2,1261.2 L1115.2,1261.2 L1117.4,1261.2 L1117.4,1261.2 L1119.5,1261.2 L1119.5,1261.2 L1121.6,1261.2 L1121.6,1261.2 L1123.7,1261.2 L1123.7,1261.2 L1125.8,1261.2 L1125.8,1261.2 L1128.0,1261.2 L1128.0,1261.2 Z" fill="#8ccc50"/>
<path d="M1058.0,1261.2 L1058.0,1261.2 L1060.1,1261.2 L1060.1,1261.2 L1062.2,1261.2 L1062.2,1261.2 L1064.4,1261.2 L1064.4,1261.1 L1066.5,1261.1 L1066.5,1258.0 L1068.6,1258.0 L1068.6,1255.0 L1070.7,1255.0 L1070.7,1247.7 L1072.8,1247.7 L1072.8,1247.5 L1075.0,1247.5 L1075.0,1243.9 L1077.1,1243.9 L1077.1,1248.4 L1079.2,1248.4 L1079.2,1254.9 L1081.3,1254.9 L1081.3,1259.4 L1083.4,1259.4 L1083.4,1259.7 L1085.6,1259.7 L1085.6,1261.2 L1087.7,1261.2 L1087.7,1261.2 L1089.8,1261.2 L1089.8,1261.2 L1091.9,1261.2 L1091.9,1261.2 L1094.0,1261.2 L1094.0,1261.2 L1096.2,1261.2 L1096.2,1261.2 L1098.3,1261.2 L1098.3,1261.2 L1100.4,1261.2 L1100.4,1261.2 L1102.5,1261.2 L1102.5,1261.2 L1104.6,1261.2 L1104.6,1261.2 L1106.8,1261.2 L1106.8,1261.2 L1108.9,1261.2 L1108.9,1261.2 L1111.0,1261.2 L1111.0,1261.2 L1113.1,1261.2 L1113.1,1261.2 L1115.2,1261.2 L1115.2,1261.2 L1117.4,1261.2 L1117.4,1261.2 L1119.5,1261.2 L1119.5,1261.2 L1121.6,1261.2 L1121.6,1261.2 L1123.7,1261.2 L1123.7,1261.2 L1125.8,1261.2 L1125.8,1261.2 L1128.0,1261.2 L1128.0,1261.2 Z" fill="#74c04c"/>
<path d="M1060.0,1261.2 L1060.5,1261.2 L1061.0,1261.2 L1061.5,1261.2 L1062.0,1261.1 L1062.5,1260.9 L1063.0,1260.8 L1063.5,1260.6 L1064.0,1260.5 L1064.5,1260.3 L1065.0,1260.0 L1065.5,1259.5 L1066.0,1258.8 L1066.5,1257.8 L1067.0,1255.9 L1067.5,1253.0 L1068.0,1249.3 L1068.5,1244.6 L1069.0,1239.2 L1069.5,1232.9 L1070.0,1225.8 L1070.5,1218.0 L1071.0,1209.5 L1071.5,1200.3 L1072.0,1190.5 L1072.5,1180.5 L1073.0,1170.5 L1073.5,1160.4 L1074.0,1150.4 L1074.5,1140.4 L1075.0,1130.5 L1075.5,1120.6 L1076.0,1110.7 L1076.5,1101.0 L1077.0,1092.2 L1077.5,1084.7 L1078.0,1081.0 L1078.5,1080.2 L1079.0,1080.4 L1079.5,1081.9 L1080.0,1085.7 L1080.5,1092.2 L1081.0,1099.9 L1081.5,1108.6 L1082.0,1117.9 L1082.5,1128.2 L1083.0,1139.1 L1083.5,1149.6 L1084.0,1159.1 L1084.5,1167.2 L1085.0,1174.6 L1085.5,1181.6 L1086.0,1188.0 L1086.5,1194.2 L1087.0,1200.0 L1087.5,1205.7 L1088.0,1211.3 L1088.5,1216.7 L1089.0,1222.0 L1089.5,1227.0 L1090.0,1231.7 L1090.5,1236.1 L1091.0,1240.1 L1091.5,1243.6 L1092.0,1246.9 L1092.5,1249.7 L1093.0,1252.0 L1093.5,1253.9 L1094.0,1255.2 L1094.5,1255.9 L1095.0,1256.6 L1095.5,1257.3 L1096.0,1257.9 L1096.5,1258.5 L1097.0,1259.0 L1097.5,1259.4 L1098.0,1259.8 L1098.5,1260.1 L1099.0,1260.3 L1099.5,1260.5 L1100.0,1260.5 L1100.5,1260.6 L1101.0,1260.6 L1101.5,1260.6 L1102.0,1260.7 L1102.5,1260.7 L1103.0,1260.8 L1103.5,1260.8 L1104.0,1260.9 L1104.5,1260.9" fill="none" stroke="#5c3a0c" stroke-width="2.8" stroke-linejoin="round"/>
<path d="M1058.0,1261.2 L1058.5,1261.2 L1059.0,1261.2 L1059.5,1261.2 L1060.0,1261.1 L1060.5,1261.0 L1061.0,1260.8 L1061.5,1260.6 L1062.0,1260.5 L1062.5,1260.5 L1063.0,1260.4 L1063.5,1260.2 L1064.0,1259.5 L1064.5,1258.0 L1065.0,1255.6 L1065.5,1252.3 L1066.0,1248.4 L1066.5,1244.0 L1067.0,1239.5 L1067.5,1235.1 L1068.0,1231.0 L1068.5,1227.3 L1069.0,1223.9 L1069.5,1220.5 L1070.0,1217.2 L1070.5,1214.0 L1071.0,1210.7 L1071.5,1207.6 L1072.0,1204.5 L1072.5,1201.7 L1073.0,1199.2 L1073.5,1197.1 L1074.0,1195.2 L1074.5,1193.7 L1075.0,1192.6 L1075.5,1191.9 L1076.0,1192.2 L1076.5,1193.8 L1077.0,1196.7 L1077.5,1200.9 L1078.0,1205.8 L1078.5,1210.7 L1079.0,1215.7 L1079.5,1220.6 L1080.0,1225.4 L1080.5,1230.2 L1081.0,1234.9 L1081.5,1239.6 L1082.0,1244.0 L1082.5,1248.2 L1083.0,1251.7 L1083.5,1254.4 L1084.0,1256.3 L1084.5,1257.6 L1085.0,1258.4 L1085.5,1258.9 L1086.0,1259.2 L1086.5,1259.4 L1087.0,1259.7 L1087.5,1259.9 L1088.0,1260.1 L1088.5,1260.3 L1089.0,1260.5 L1089.5,1260.7 L1090.0,1260.8 L1090.5,1261.0 L1091.0,1261.1 L1091.5,1261.2 L1092.0,1261.2 L1092.5,1261.2 L1093.0,1261.2 L1093.5,1261.2 L1094.0,1261.2 L1094.5,1261.2" fill="none" stroke="#1c4e7e" stroke-width="2.8" stroke-linejoin="round"/>
</svg></body></html>
